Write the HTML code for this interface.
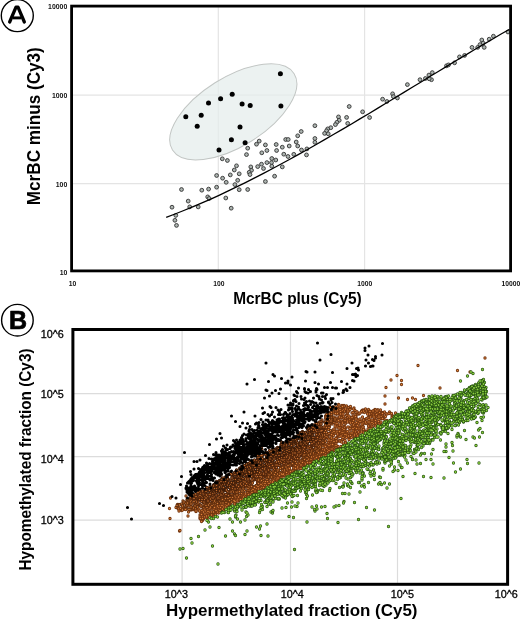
<!DOCTYPE html><html><head><meta charset="utf-8"><style>html,body{margin:0;padding:0;background:#fff;width:520px;height:620px;overflow:hidden}svg{display:block;will-change:transform}text{font-family:"Liberation Sans",sans-serif}</style></head><body>
<svg width="520" height="620" viewBox="0 0 520 620">
<g stroke="#e4e4e4" stroke-width="1.2" fill="none">
<line x1="218.3" y1="6" x2="218.3" y2="271"/>
<line x1="364.6" y1="6" x2="364.6" y2="271"/>
<line x1="72" y1="95.1" x2="510" y2="95.1"/>
<line x1="72" y1="183.6" x2="510" y2="183.6"/>
</g>
<ellipse cx="233.3" cy="111.9" rx="71.8" ry="34.4" transform="rotate(-32.1 233.3 111.9)" fill="#e6eeec" fill-opacity="0.75" stroke="#c2c6c4" stroke-width="1"/>
<g fill="#000">
<circle cx="280.4" cy="73.7" r="2.5"/>
<circle cx="232.2" cy="94.2" r="2.5"/>
<circle cx="220.6" cy="98.8" r="2.5"/>
<circle cx="208.5" cy="103.1" r="2.5"/>
<circle cx="242.1" cy="103.9" r="2.5"/>
<circle cx="250.2" cy="105.5" r="2.5"/>
<circle cx="280.9" cy="106" r="2.5"/>
<circle cx="185.8" cy="116.8" r="2.5"/>
<circle cx="201.2" cy="115.2" r="2.5"/>
<circle cx="197.2" cy="126.2" r="2.5"/>
<circle cx="240" cy="127" r="2.5"/>
<circle cx="231.4" cy="139.7" r="2.5"/>
<circle cx="245.1" cy="142.7" r="2.5"/>
<circle cx="219" cy="149.9" r="2.5"/>
</g>
<g fill="#acb4b0" stroke="#333" stroke-width="0.9">
<circle cx="222.3" cy="158.8" r="1.9"/>
<circle cx="227.4" cy="160.5" r="1.9"/>
<circle cx="236.5" cy="165.8" r="1.9"/>
<circle cx="234.3" cy="170" r="1.9"/>
<circle cx="239.2" cy="173.8" r="1.9"/>
<circle cx="216.6" cy="175.5" r="1.9"/>
<circle cx="230.3" cy="174.9" r="1.9"/>
<circle cx="222.6" cy="178.2" r="1.9"/>
<circle cx="226.2" cy="182.3" r="1.9"/>
<circle cx="237.7" cy="180.3" r="1.9"/>
<circle cx="234.9" cy="184.6" r="1.9"/>
<circle cx="181.5" cy="189.5" r="1.9"/>
<circle cx="201.8" cy="190.2" r="1.9"/>
<circle cx="208.6" cy="189.1" r="1.9"/>
<circle cx="216.6" cy="187.2" r="1.9"/>
<circle cx="239.2" cy="189.7" r="1.9"/>
<circle cx="188.2" cy="201.1" r="1.9"/>
<circle cx="207.7" cy="196.9" r="1.9"/>
<circle cx="209.2" cy="198.5" r="1.9"/>
<circle cx="225.8" cy="198" r="1.9"/>
<circle cx="172" cy="207.2" r="1.9"/>
<circle cx="189.7" cy="206.9" r="1.9"/>
<circle cx="198.2" cy="206.9" r="1.9"/>
<circle cx="231.2" cy="208.2" r="1.9"/>
<circle cx="175.8" cy="215.4" r="1.9"/>
<circle cx="174.9" cy="220.3" r="1.9"/>
<circle cx="176.5" cy="225.4" r="1.9"/>
<circle cx="301.2" cy="131.5" r="1.9"/>
<circle cx="297.7" cy="135.8" r="1.9"/>
<circle cx="285.7" cy="139.5" r="1.9"/>
<circle cx="288.2" cy="139.5" r="1.9"/>
<circle cx="259.2" cy="141.1" r="1.9"/>
<circle cx="256.5" cy="144.2" r="1.9"/>
<circle cx="265.4" cy="144.9" r="1.9"/>
<circle cx="276.2" cy="144.5" r="1.9"/>
<circle cx="296.2" cy="142" r="1.9"/>
<circle cx="297.7" cy="146" r="1.9"/>
<circle cx="289.2" cy="146" r="1.9"/>
<circle cx="282.3" cy="147.2" r="1.9"/>
<circle cx="247.7" cy="148.2" r="1.9"/>
<circle cx="266.9" cy="150.5" r="1.9"/>
<circle cx="261.8" cy="152.8" r="1.9"/>
<circle cx="276.6" cy="150.5" r="1.9"/>
<circle cx="301.5" cy="150" r="1.9"/>
<circle cx="306.9" cy="148.9" r="1.9"/>
<circle cx="246.5" cy="154.6" r="1.9"/>
<circle cx="283.8" cy="154.2" r="1.9"/>
<circle cx="288" cy="156.5" r="1.9"/>
<circle cx="293.8" cy="154.3" r="1.9"/>
<circle cx="306.5" cy="154.9" r="1.9"/>
<circle cx="271.8" cy="158.5" r="1.9"/>
<circle cx="275.8" cy="160" r="1.9"/>
<circle cx="266.9" cy="162.6" r="1.9"/>
<circle cx="271.5" cy="162.6" r="1.9"/>
<circle cx="261.5" cy="164.2" r="1.9"/>
<circle cx="257.7" cy="166.6" r="1.9"/>
<circle cx="263.5" cy="168.5" r="1.9"/>
<circle cx="271.8" cy="166.2" r="1.9"/>
<circle cx="282.3" cy="166.9" r="1.9"/>
<circle cx="250.8" cy="166.9" r="1.9"/>
<circle cx="251.5" cy="170.3" r="1.9"/>
<circle cx="249.2" cy="172.3" r="1.9"/>
<circle cx="250" cy="174.6" r="1.9"/>
<circle cx="274.6" cy="176.2" r="1.9"/>
<circle cx="265.4" cy="181.5" r="1.9"/>
<circle cx="247.7" cy="189.5" r="1.9"/>
<circle cx="349.2" cy="106.5" r="1.9"/>
<circle cx="362.6" cy="111.8" r="1.9"/>
<circle cx="369.6" cy="117.5" r="1.9"/>
<circle cx="338.5" cy="116.9" r="1.9"/>
<circle cx="339.2" cy="120.3" r="1.9"/>
<circle cx="346.6" cy="117.4" r="1.9"/>
<circle cx="336.9" cy="122.3" r="1.9"/>
<circle cx="335.4" cy="124.6" r="1.9"/>
<circle cx="347.7" cy="123.4" r="1.9"/>
<circle cx="314.9" cy="125.7" r="1.9"/>
<circle cx="330.8" cy="127.7" r="1.9"/>
<circle cx="327.7" cy="128.9" r="1.9"/>
<circle cx="326.5" cy="130.8" r="1.9"/>
<circle cx="324.6" cy="133.4" r="1.9"/>
<circle cx="328.2" cy="133.8" r="1.9"/>
<circle cx="314.9" cy="138.5" r="1.9"/>
<circle cx="314.9" cy="142.3" r="1.9"/>
<circle cx="446.5" cy="65.8" r="1.9"/>
<circle cx="448.5" cy="64.9" r="1.9"/>
<circle cx="432.3" cy="72.6" r="1.9"/>
<circle cx="428.9" cy="75.1" r="1.9"/>
<circle cx="425.4" cy="78.5" r="1.9"/>
<circle cx="420" cy="79.7" r="1.9"/>
<circle cx="431.5" cy="79.7" r="1.9"/>
<circle cx="429.2" cy="78.8" r="1.9"/>
<circle cx="407.4" cy="84.6" r="1.9"/>
<circle cx="392.6" cy="93.8" r="1.9"/>
<circle cx="393.4" cy="96.6" r="1.9"/>
<circle cx="397.4" cy="98" r="1.9"/>
<circle cx="382.6" cy="99.2" r="1.9"/>
<circle cx="386.9" cy="101.5" r="1.9"/>
<circle cx="493.4" cy="36.2" r="1.9"/>
<circle cx="489.2" cy="39.2" r="1.9"/>
<circle cx="481.8" cy="40" r="1.9"/>
<circle cx="483.1" cy="43.1" r="1.9"/>
<circle cx="480" cy="44.6" r="1.9"/>
<circle cx="484.2" cy="47.4" r="1.9"/>
<circle cx="477.7" cy="47.4" r="1.9"/>
<circle cx="472" cy="47.4" r="1.9"/>
<circle cx="464.6" cy="55.4" r="1.9"/>
<circle cx="459.5" cy="56.9" r="1.9"/>
<circle cx="454.6" cy="62.8" r="1.9"/>
<circle cx="508" cy="32" r="1.9"/>
</g>
<polyline points="166.2,217.3 175,214 183.8,210.5 192.6,206.9 201.4,203.1 210.2,199.3 219,195.3 227.8,191.1 236.6,186.9 245.4,182.6 254.2,178.2 263,173.6 271.8,169 280.6,164.3 289.4,159.5 298.2,154.6 307,149.7 315.8,144.7 324.6,139.6 333.4,134.5 342.3,129.4 351.1,124.2 359.9,118.9 368.7,113.7 377.5,108.4 386.3,103 395.1,97.7 403.9,92.4 412.7,87 421.5,81.7 430.3,76.3 439.1,71 447.9,65.6 456.7,60.3 465.5,55.1 474.3,49.8 483.1,44.6 491.9,39.5 500.7,34.3 509.5,29.3" fill="none" stroke="#000" stroke-width="1.3"/>
<rect x="71.6" y="6.1" width="439" height="264.8" fill="none" stroke="#000" stroke-width="2.8"/>
<g font-size="7.5" font-weight="bold" fill="#111">
<text x="67.3" y="8.6" text-anchor="end" textLength="19.18" lengthAdjust="spacingAndGlyphs">10000</text>
<text x="67.3" y="97.8" text-anchor="end" textLength="15.35" lengthAdjust="spacingAndGlyphs">1000</text>
<text x="67.3" y="186.6" text-anchor="end" textLength="11.51" lengthAdjust="spacingAndGlyphs">100</text>
<text x="67.3" y="274.6" text-anchor="end" textLength="7.67" lengthAdjust="spacingAndGlyphs">10</text>
<text x="72.4" y="286.2" text-anchor="middle" textLength="7.51" lengthAdjust="spacingAndGlyphs">10</text>
<text x="219" y="286.2" text-anchor="middle" textLength="11.26" lengthAdjust="spacingAndGlyphs">100</text>
<text x="364.7" y="286.2" text-anchor="middle" textLength="15.01" lengthAdjust="spacingAndGlyphs">1000</text>
<text x="510.8" y="286.2" text-anchor="middle" textLength="18.77" lengthAdjust="spacingAndGlyphs">10000</text>
</g>
<text x="233.2" y="303.6" font-size="17" font-weight="bold" textLength="128.5" lengthAdjust="spacingAndGlyphs">McrBC plus (Cy5)</text>
<text transform="translate(39.7 205.2) rotate(-90)" font-size="17.8" font-weight="bold" textLength="158" lengthAdjust="spacingAndGlyphs">McrBC minus (Cy3)</text>
<circle cx="17.3" cy="15.6" r="16" fill="#fff" stroke="#000" stroke-width="1.4"/>
<path d="M9.65 22 L16 7.2 L18 7.2 L24.35 22" fill="none" stroke="#000" stroke-width="3.3" stroke-linecap="round" stroke-linejoin="round"/>
<path d="M13 17.9 H21" stroke="#000" stroke-width="2.9"/>
<g stroke="#dcdcdc" stroke-width="1.2" fill="none">
<line x1="182.1" y1="330" x2="182.1" y2="584"/>
<line x1="290.5" y1="330" x2="290.5" y2="584"/>
<line x1="397.5" y1="330" x2="397.5" y2="584"/>
<line x1="73" y1="393.6" x2="507" y2="393.6"/>
<line x1="73" y1="456.7" x2="507" y2="456.7"/>
<line x1="73" y1="520.2" x2="507" y2="520.2"/>
</g>
<g transform="scale(.5)" fill="none" stroke-linecap="round"><path d="M609 866h0m-116 76h0m-35 24h0m37-25h0m-60 23h0m95-31h0m-15 8h0m13-20h0m-36 15h0m89-58h0m-33 31h0" stroke="#3e1d0a" stroke-width="6.6"/><path d="M609 866h0m-116 76h0m-35 24h0m37-25h0m-60 23h0m95-31h0m-15 8h0m13-20h0m-36 15h0m89-58h0m-33 31h0" stroke="#c76e2d" stroke-width="3.0"/><path d="M624 883h0m-107 69h0m61-31h0m-49 23h0m73-48h0m40-19h0m-45 24h0m-67 41h0m-99 46h0" stroke="#50250c" stroke-width="6.6"/><path d="M624 883h0m-107 69h0m61-31h0m-49 23h0m73-48h0m40-19h0m-45 24h0m-67 41h0m-99 46h0" stroke="#d17633" stroke-width="3.0"/><path d="M433 1005h0m216-136h0m-193 132h0m-26 3h0m-31 6h0m258-185h0m-77 103h0m-114 62h0" stroke="#602e0e" stroke-width="6.6"/><path d="M433 1005h0m216-136h0m-193 132h0m-26 3h0m-31 6h0m258-185h0m-77 103h0m-114 62h0" stroke="#da7e38" stroke-width="3.0"/><path d="M706 858h0m-36 33h0m-96 52h0m-188 76h0m216-90h0m117-68h0m-195 113h0m-35 21h0m204-165h0m55 18h0m-191 112h0m118-77h0" stroke="#723611" stroke-width="6.6"/><path d="M706 858h0m-36 33h0m-96 52h0m-188 76h0m216-90h0m117-68h0m-195 113h0m-35 21h0m204-165h0m55 18h0m-191 112h0m118-77h0" stroke="#e3863d" stroke-width="3.0"/><path d="M460 973h0m-7-10h0m21-10h0m143-79h0m-123 56h0m-6 8h0m93-39h0m-163 78h0m100-50h0m-18 15h0m118-86h0m-126 82h0" stroke="#3e1d0a" stroke-width="6.6"/><path d="M460 973h0m-7-10h0m21-10h0m143-79h0m-123 56h0m-6 8h0m93-39h0m-163 78h0m100-50h0m-18 15h0m118-86h0m-126 82h0" stroke="#c76e2d" stroke-width="3.0"/><path d="M629 887h0m-242 112h0m80-20h0m75-45h0m62-32h0m-87 47h0m-109 35h0m135-48h0" stroke="#50250c" stroke-width="6.6"/><path d="M629 887h0m-242 112h0m80-20h0m75-45h0m62-32h0m-87 47h0m-109 35h0m135-48h0" stroke="#d17633" stroke-width="3.0"/><path d="M534 950h0m-12 11h0m8-1h0m-103 51h0m204-105h0m-212 104h0m-46 0h0m98-23h0m-105 15h0" stroke="#602e0e" stroke-width="6.6"/><path d="M534 950h0m-12 11h0m8-1h0m-103 51h0m204-105h0m-212 104h0m-46 0h0m98-23h0m-105 15h0" stroke="#da7e38" stroke-width="3.0"/><path d="M730 842h0m-87 59h0m-147 82h0m-66 36h0m236-202h0m18 28h0m-117 100h0m129-77h0m55-44h0m-324 208h0m180-101h0" stroke="#723611" stroke-width="6.6"/><path d="M730 842h0m-87 59h0m-147 82h0m-66 36h0m236-202h0m18 28h0m-117 100h0m129-77h0m55-44h0m-324 208h0m180-101h0" stroke="#e3863d" stroke-width="3.0"/><path d="M445 977h0m74-63h0m-64 42h0m143-87h0" stroke="#3e1d0a" stroke-width="6.6"/><path d="M445 977h0m74-63h0m-64 42h0m143-87h0" stroke="#c76e2d" stroke-width="3.0"/><path d="M550 929h0m-42 25h0m-111 36h0m86-18h0m-95 18h0m251-146h0m-63 67h0" stroke="#50250c" stroke-width="6.6"/><path d="M550 929h0m-42 25h0m-111 36h0m86-18h0m-95 18h0m251-146h0m-63 67h0" stroke="#d17633" stroke-width="3.0"/><path d="M381 1005h0m134-39h0m93-56h0m43-35h0m-280 130h0m281-129h0m-84 65h0m9-5h0m-27 9h0m111-119h0m-289 166h0m2 20h0" stroke="#602e0e" stroke-width="6.6"/><path d="M381 1005h0m134-39h0m93-56h0m43-35h0m-280 130h0m281-129h0m-84 65h0m9-5h0m-27 9h0m111-119h0m-289 166h0m2 20h0" stroke="#da7e38" stroke-width="3.0"/><path d="M553 963h0m128-128h0m-188 156h0m170-88h0m-175 90h0m181-102h0m-7-7h0m-254 150h0m118-66h0m181-128h0m21-1h0m3 26h0m-241 128h0m230-149h0m-209 142h0m-72 28h0m5 8h0" stroke="#723611" stroke-width="6.6"/><path d="M553 963h0m128-128h0m-188 156h0m170-88h0m-175 90h0m181-102h0m-7-7h0m-254 150h0m118-66h0m181-128h0m21-1h0m3 26h0m-241 128h0m230-149h0m-209 142h0m-72 28h0m5 8h0" stroke="#e3863d" stroke-width="3.0"/><path d="M615 877h0m-187 93h0m148-89h0m-135 93h0m24-21h0m109-43h0m-88 39h0m49-38h0" stroke="#3e1d0a" stroke-width="6.6"/><path d="M615 877h0m-187 93h0m148-89h0m-135 93h0m24-21h0m109-43h0m-88 39h0m49-38h0" stroke="#c76e2d" stroke-width="3.0"/><path d="M636 882h0m-245 120h0m194-92h0m-167 90h0m138-78h0m-90 52h0m-22 23h0m195-139h0m-70 67h0m69-76h0m-85 79h0" stroke="#50250c" stroke-width="6.6"/><path d="M636 882h0m-245 120h0m194-92h0m-167 90h0m138-78h0m-90 52h0m-22 23h0m195-139h0m-70 67h0m69-76h0m-85 79h0" stroke="#d17633" stroke-width="3.0"/><path d="M390 1011h0m82-22h0m2-6h0m-31 16h0m90-45h0m51-23h0m-169 75h0" stroke="#602e0e" stroke-width="6.6"/><path d="M390 1011h0m82-22h0m2-6h0m-31 16h0m90-45h0m51-23h0m-169 75h0" stroke="#da7e38" stroke-width="3.0"/><path d="M478 994h0m246-173h0m-40-4h0m-103 132h0m126-84h0m140-74h0m-430 239h0m328-202h0m58-59h0m-66 77h0m-51-2h0m-67 77h0m-37 22h0m-152 85h0" stroke="#723611" stroke-width="6.6"/><path d="M478 994h0m246-173h0m-40-4h0m-103 132h0m126-84h0m140-74h0m-430 239h0m328-202h0m58-59h0m-66 77h0m-51-2h0m-67 77h0m-37 22h0m-152 85h0" stroke="#e3863d" stroke-width="3.0"/><path d="M580 894h0m-4 1h0m-101 64h0m32-31h0m0-3h0m13 2h0m9 8h0m-73 27h0" stroke="#3e1d0a" stroke-width="6.6"/><path d="M580 894h0m-4 1h0m-101 64h0m32-31h0m0-3h0m13 2h0m9 8h0m-73 27h0" stroke="#c76e2d" stroke-width="3.0"/><path d="M398 986h0m173-65h0m-56 30h0m126-94h0m2-14h0m-158 130h0m131-78h0" stroke="#50250c" stroke-width="6.6"/><path d="M398 986h0m173-65h0m-56 30h0m126-94h0m2-14h0m-158 130h0m131-78h0" stroke="#d17633" stroke-width="3.0"/><path d="M528 964h0m-57 31h0m102-58h0m-184 80h0m28-14h0m215-105h0m18-39h0" stroke="#602e0e" stroke-width="6.6"/><path d="M528 964h0m-57 31h0m102-58h0m-184 80h0m28-14h0m215-105h0m18-39h0" stroke="#da7e38" stroke-width="3.0"/><path d="M446 1015h0m219-147h0m28-56h0m-48 92h0m-22 9h0m56-32h0m33-8h0m53-41h0m-105 56h0m41-42h0m-325 186h0m406-272h0m-72 117h0m-63 36h0m-46 23h0m103-94h0m-183 133h0m-115 44h0" stroke="#723611" stroke-width="6.6"/><path d="M446 1015h0m219-147h0m28-56h0m-48 92h0m-22 9h0m56-32h0m33-8h0m53-41h0m-105 56h0m41-42h0m-325 186h0m406-272h0m-72 117h0m-63 36h0m-46 23h0m103-94h0m-183 133h0m-115 44h0" stroke="#e3863d" stroke-width="3.0"/><path d="M563 914h0m39-38h0m-125 78h0m132-76h0m-38 29h0m-33 5h0m-96 70h0m128-84h0m-34 18h0" stroke="#3e1d0a" stroke-width="6.6"/><path d="M563 914h0m39-38h0m-125 78h0m132-76h0m-38 29h0m-33 5h0m-96 70h0m128-84h0m-34 18h0" stroke="#c76e2d" stroke-width="3.0"/><path d="M472 980h0m-88 19h0m184-74h0m61-39h0m-166 95h0m36-19h0" stroke="#50250c" stroke-width="6.6"/><path d="M472 980h0m-88 19h0m184-74h0m61-39h0m-166 95h0m36-19h0" stroke="#d17633" stroke-width="3.0"/><path d="M644 889h0m-124 75h0m58-32h0m33-20h0m-58 28h0m-103 59h0" stroke="#602e0e" stroke-width="6.6"/><path d="M644 889h0m-124 75h0m58-32h0m33-20h0m-58 28h0m-103 59h0" stroke="#da7e38" stroke-width="3.0"/><path d="M522 973h0m222-130h0m-109 73h0m68-80h0m-218 162h0m195-179h0m-4 46h0m10 14h0m-187 111h0m43-21h0m229-142h0m-389 193h0m331-153h0m-235 128h0m195-167h0m27 29h0m-203 129h0m194-101h0m-186 100h0" stroke="#723611" stroke-width="6.6"/><path d="M522 973h0m222-130h0m-109 73h0m68-80h0m-218 162h0m195-179h0m-4 46h0m10 14h0m-187 111h0m43-21h0m229-142h0m-389 193h0m331-153h0m-235 128h0m195-167h0m27 29h0m-203 129h0m194-101h0m-186 100h0" stroke="#e3863d" stroke-width="3.0"/><path d="M620 872h0m-113 71h0m-24 16h0m141-92h0m-25 26h0m-154 83h0m64-40h0m-47 33h0m149-82h0" stroke="#3e1d0a" stroke-width="6.6"/><path d="M620 872h0m-113 71h0m-24 16h0m141-92h0m-25 26h0m-154 83h0m64-40h0m-47 33h0m149-82h0" stroke="#c76e2d" stroke-width="3.0"/><path d="M623 893h0m-56 29h0m72-38h0m-5-15h0m-225 125h0m53-13h0m24-11h0m-85 24h0m127-41h0" stroke="#50250c" stroke-width="6.6"/><path d="M623 893h0m-56 29h0m72-38h0m-5-15h0m-225 125h0m53-13h0m24-11h0m-85 24h0m127-41h0" stroke="#d17633" stroke-width="3.0"/><path d="M616 911h0m47-79h0m-280 183h0m59-9h0m215-170h0m-57 86h0" stroke="#602e0e" stroke-width="6.6"/><path d="M616 911h0m47-79h0m-280 183h0m59-9h0m215-170h0m-57 86h0" stroke="#da7e38" stroke-width="3.0"/><path d="M339 1017h0m173-37h0m230-152h0m-47-1h0m-91 97h0m-132 78h0m-43 10h0m-16 4h0m22-1h0m-1-2h0m186-90h0m81-57h0m-12-7h0m-18-43h0m-118 140h0m189-133h0" stroke="#723611" stroke-width="6.6"/><path d="M339 1017h0m173-37h0m230-152h0m-47-1h0m-91 97h0m-132 78h0m-43 10h0m-16 4h0m22-1h0m-1-2h0m186-90h0m81-57h0m-12-7h0m-18-43h0m-118 140h0m189-133h0" stroke="#e3863d" stroke-width="3.0"/><path d="M437 977h0m88-54h0m-6 2h0m8 12h0m98-86h0m-25 15h0m-93 55h0m59-33h0m-34 37h0m-65 46h0m87-59h0m-100 56h0" stroke="#3e1d0a" stroke-width="6.6"/><path d="M437 977h0m88-54h0m-6 2h0m8 12h0m98-86h0m-25 15h0m-93 55h0m59-33h0m-34 37h0m-65 46h0m87-59h0m-100 56h0" stroke="#c76e2d" stroke-width="3.0"/><path d="M517 954h0m18-6h0m59-43h0m-21 19h0m-1-1h0" stroke="#50250c" stroke-width="6.6"/><path d="M517 954h0m18-6h0m59-43h0m-21 19h0m-1-1h0" stroke="#d17633" stroke-width="3.0"/><path d="M520 961h0m-22 11h0m-104 34h0m-6 6h0m146-57h0m-110 48h0" stroke="#602e0e" stroke-width="6.6"/><path d="M520 961h0m-22 11h0m-104 34h0m-6 6h0m146-57h0m-110 48h0" stroke="#da7e38" stroke-width="3.0"/><path d="M733 822h0m-256 180h0m160-97h0m43-23h0m-80 55h0m30-15h0m32-41h0m45-21h0m-98 60h0m133-94h0m-246 157h0m195-126h0m-206 136h0m199-170h0m53 5h0m-71-11h0m81 24h0" stroke="#723611" stroke-width="6.6"/><path d="M733 822h0m-256 180h0m160-97h0m43-23h0m-80 55h0m30-15h0m32-41h0m45-21h0m-98 60h0m133-94h0m-246 157h0m195-126h0m-206 136h0m199-170h0m53 5h0m-71-11h0m81 24h0" stroke="#e3863d" stroke-width="3.0"/><path d="M625 862h0m-96 57h0m77-30h0m-179 88h0m23-21h0m-6 1h0m102-51h0m7-9h0m-17 30h0m23-19h0m19-3h0m-132 62h0m1 12h0m-12-13h0m176-101h0m10 10h0" stroke="#3e1d0a" stroke-width="6.6"/><path d="M625 862h0m-96 57h0m77-30h0m-179 88h0m23-21h0m-6 1h0m102-51h0m7-9h0m-17 30h0m23-19h0m19-3h0m-132 62h0m1 12h0m-12-13h0m176-101h0m10 10h0" stroke="#c76e2d" stroke-width="3.0"/><path d="M582 918h0m-55 32h0m55-41h0" stroke="#50250c" stroke-width="6.6"/><path d="M582 918h0m-55 32h0m55-41h0" stroke="#d17633" stroke-width="3.0"/><path d="M416 1009h0m207-108h0m11-6h0m17-58h0" stroke="#602e0e" stroke-width="6.6"/><path d="M416 1009h0m207-108h0m11-6h0m17-58h0" stroke="#da7e38" stroke-width="3.0"/><path d="M636 908h0m24-3h0m10-41h0m37 6h0m-20-50h0m83-28h0m-283 198h0m45-22h0m-94 43h0m22 0h0m-35 18h0m57-35h0m207-141h0m-15 23h0m-5-15h0m38-2h0m-100 64h0" stroke="#723611" stroke-width="6.6"/><path d="M636 908h0m24-3h0m10-41h0m37 6h0m-20-50h0m83-28h0m-283 198h0m45-22h0m-94 43h0m22 0h0m-35 18h0m57-35h0m207-141h0m-15 23h0m-5-15h0m38-2h0m-100 64h0" stroke="#e3863d" stroke-width="3.0"/><path d="M508 942h0m28-33h0m-27 12h0m-25 33h0m88-43h0m-14-11h0m2 7h0m-74 52h0m57-36h0m-35 25h0m115-89h0m-111 67h0" stroke="#3e1d0a" stroke-width="6.6"/><path d="M508 942h0m28-33h0m-27 12h0m-25 33h0m88-43h0m-14-11h0m2 7h0m-74 52h0m57-36h0m-35 25h0m115-89h0m-111 67h0" stroke="#c76e2d" stroke-width="3.0"/><path d="M537 940h0m1 2h0m-48 22h0m-40 17h0m25-9h0m-17 17h0m-24 10h0m-5-3h0m-22 7h0m145-66h0m-36 10h0" stroke="#50250c" stroke-width="6.6"/><path d="M537 940h0m1 2h0m-48 22h0m-40 17h0m25-9h0m-17 17h0m-24 10h0m-5-3h0m-22 7h0m145-66h0m-36 10h0" stroke="#d17633" stroke-width="3.0"/><path d="M382 1018h0m282-176h0m-94 92h0m-45 21h0m-63 35h0m8-1h0m76-39h0m18-16h0" stroke="#602e0e" stroke-width="6.6"/><path d="M382 1018h0m282-176h0m-94 92h0m-45 21h0m-63 35h0m8-1h0m76-39h0m18-16h0" stroke="#da7e38" stroke-width="3.0"/><path d="M694 831h0m103-35h0m-59 57h0m-120 63h0m57-75h0m21-26h0m119-16h0m-204 133h0m-208 91h0" stroke="#723611" stroke-width="6.6"/><path d="M694 831h0m103-35h0m-59 57h0m-120 63h0m57-75h0m21-26h0m119-16h0m-204 133h0m-208 91h0" stroke="#e3863d" stroke-width="3.0"/><path d="M429 982h0m122-75h0m-113 74h0m59-32h0m-23-8h0m116-55h0m-73 54h0m2-3h0m-103 44h0m120-53h0m20-23h0m-10 9h0m-126 59h0" stroke="#3e1d0a" stroke-width="6.6"/><path d="M429 982h0m122-75h0m-113 74h0m59-32h0m-23-8h0m116-55h0m-73 54h0m2-3h0m-103 44h0m120-53h0m20-23h0m-10 9h0m-126 59h0" stroke="#c76e2d" stroke-width="3.0"/><path d="M558 927h0m2 0h0m-82 43h0m50-18h0m-121 50h0m65-27h0" stroke="#50250c" stroke-width="6.6"/><path d="M558 927h0m2 0h0m-82 43h0m50-18h0m-121 50h0m65-27h0" stroke="#d17633" stroke-width="3.0"/><path d="M439 1003h0m83-39h0m107-66h0m-42 25h0m39-16h0m4-8h0m-53 36h0m-178 75h0m227-105h0" stroke="#602e0e" stroke-width="6.6"/><path d="M439 1003h0m83-39h0m107-66h0m-42 25h0m39-16h0m4-8h0m-53 36h0m-178 75h0m227-105h0" stroke="#da7e38" stroke-width="3.0"/><path d="M606 932h0m173-108h0m-85 49h0m-17-54h0m0 78h0m9-61h0m-35 70h0m85-81h0m1 38h0m-102 48h0m45-29h0m-254 136h0" stroke="#723611" stroke-width="6.6"/><path d="M606 932h0m173-108h0m-85 49h0m-17-54h0m0 78h0m9-61h0m-35 70h0m85-81h0m1 38h0m-102 48h0m45-29h0m-254 136h0" stroke="#e3863d" stroke-width="3.0"/><path d="M473 941h0m29 0h0m40-30h0m63-48h0m-61 40h0m-81 61h0m86-59h0m48-28h0m8 6h0m-170 100h0m42-37h0m116-68h0m-56 45h0m32-25h0" stroke="#3e1d0a" stroke-width="6.6"/><path d="M473 941h0m29 0h0m40-30h0m63-48h0m-61 40h0m-81 61h0m86-59h0m48-28h0m8 6h0m-170 100h0m42-37h0m116-68h0m-56 45h0m32-25h0" stroke="#c76e2d" stroke-width="3.0"/><path d="M611 904h0m-157 78h0m18-5h0m164-90h0m-73 37h0m-45 32h0m127-86h0m-233 134h0m232-164h0m-162 123h0m64-33h0m-6 14h0m-24 14h0" stroke="#50250c" stroke-width="6.6"/><path d="M611 904h0m-157 78h0m18-5h0m164-90h0m-73 37h0m-45 32h0m127-86h0m-233 134h0m232-164h0m-162 123h0m64-33h0m-6 14h0m-24 14h0" stroke="#d17633" stroke-width="3.0"/><path d="M411 1006h0m194-94h0m22-6h0m-18 11h0m-140 70h0" stroke="#602e0e" stroke-width="6.6"/><path d="M411 1006h0m194-94h0m22-6h0m-18 11h0m-140 70h0" stroke="#da7e38" stroke-width="3.0"/><path d="M418 1016h0m346-191h0m-74 41h0m-197 125h0m96-56h0m-6 9h0m109-122h0m-18 53h0" stroke="#723611" stroke-width="6.6"/><path d="M418 1016h0m346-191h0m-74 41h0m-197 125h0m96-56h0m-6 9h0m109-122h0m-18 53h0" stroke="#e3863d" stroke-width="3.0"/><path d="M489 950h0m136-85h0m-145 73h0m-52 48h0m127-89h0m25 7h0m-153 66h0m189-95h0m-180 109h0m-23-8h0m185-100h0m-175 106h0m78-56h0" stroke="#3e1d0a" stroke-width="6.6"/><path d="M489 950h0m136-85h0m-145 73h0m-52 48h0m127-89h0m25 7h0m-153 66h0m189-95h0m-180 109h0m-23-8h0m185-100h0m-175 106h0m78-56h0" stroke="#c76e2d" stroke-width="3.0"/><path d="M513 959h0m86-54h0m23-15h0m-168 92h0m-9 11h0m105-66h0m73-31h0m-217 87h0m62-5h0" stroke="#50250c" stroke-width="6.6"/><path d="M513 959h0m86-54h0m23-15h0m-168 92h0m-9 11h0m105-66h0m73-31h0m-217 87h0m62-5h0" stroke="#d17633" stroke-width="3.0"/><path d="M669 826h0m-116 124h0m-143 66h0m-36-4h0" stroke="#602e0e" stroke-width="6.6"/><path d="M669 826h0m-116 124h0m-143 66h0m-36-4h0" stroke="#da7e38" stroke-width="3.0"/><path d="M751 829h0m-342 191h0m358-183h0m-116 63h0m84-36h0m2-38h0m-200 145h0m103-63h0m-75 39h0m201-121h0m-120 74h0m72-59h0m-84 68h0m-81 42h0" stroke="#723611" stroke-width="6.6"/><path d="M751 829h0m-342 191h0m358-183h0m-116 63h0m84-36h0m2-38h0m-200 145h0m103-63h0m-75 39h0m201-121h0m-120 74h0m72-59h0m-84 68h0m-81 42h0" stroke="#e3863d" stroke-width="3.0"/><path d="M536 926h0m19-26h0m72-26h0m-11-12h0m-50 28h0m-33 15h0m-24 30h0" stroke="#3e1d0a" stroke-width="6.6"/><path d="M536 926h0m19-26h0m72-26h0m-11-12h0m-50 28h0m-33 15h0m-24 30h0" stroke="#c76e2d" stroke-width="3.0"/><path d="M601 910h0m-102 54h0m-54 30h0m-38 10h0m77-29h0" stroke="#50250c" stroke-width="6.6"/><path d="M601 910h0m-102 54h0m-54 30h0m-38 10h0m77-29h0" stroke="#d17633" stroke-width="3.0"/><path d="M504 973h0m-90 37h0m-31-4h0m4 8h0m25 2h0m-17-6h0m63-15h0m5 0h0m83-46h0m-58 28h0m152-89h0m-167 101h0m146-79h0m6-10h0" stroke="#602e0e" stroke-width="6.6"/><path d="M504 973h0m-90 37h0m-31-4h0m4 8h0m25 2h0m-17-6h0m63-15h0m5 0h0m83-46h0m-58 28h0m152-89h0m-167 101h0m146-79h0m6-10h0" stroke="#da7e38" stroke-width="3.0"/><path d="M444 1015h0m-37 16h0m300-183h0m-25 7h0m-13 12h0m-17 26h0m-251 130h0m219-98h0m-157 75h0m-4 4h0m192-103h0m-131 74h0m167-143h0m-158 141h0" stroke="#723611" stroke-width="6.6"/><path d="M444 1015h0m-37 16h0m300-183h0m-25 7h0m-13 12h0m-17 26h0m-251 130h0m219-98h0m-157 75h0m-4 4h0m192-103h0m-131 74h0m167-143h0m-158 141h0" stroke="#e3863d" stroke-width="3.0"/><path d="M504 938h0m77-33h0m42-24h0m4-22h0m-205 121h0m176-107h0m22-11h0m6-1h0m-23 27h0m-165 85h0m48-28h0" stroke="#3e1d0a" stroke-width="6.6"/><path d="M504 938h0m77-33h0m42-24h0m4-22h0m-205 121h0m176-107h0m22-11h0m6-1h0m-23 27h0m-165 85h0m48-28h0" stroke="#c76e2d" stroke-width="3.0"/><path d="M443 986h0m117-54h0m-65 25h0m-76 42h0m224-134h0m-188 124h0m175-113h0" stroke="#50250c" stroke-width="6.6"/><path d="M443 986h0m117-54h0m-65 25h0m-76 42h0m224-134h0m-188 124h0m175-113h0" stroke="#d17633" stroke-width="3.0"/><path d="M597 921h0m-7-2h0m47-20h0m-225 108h0m238-120h0m-60 32h0" stroke="#602e0e" stroke-width="6.6"/><path d="M597 921h0m-7-2h0m47-20h0m-225 108h0m238-120h0m-60 32h0" stroke="#da7e38" stroke-width="3.0"/><path d="M420 1015h0m318-193h0m-232 165h0m193-115h0m-130 75h0m96-55h0m20-80h0m-267 217h0m253-166h0m98-39h0m-80 0h0m-6 43h0m-1-52h0m66 6h0m-312 202h0m230-206h0" stroke="#723611" stroke-width="6.6"/><path d="M420 1015h0m318-193h0m-232 165h0m193-115h0m-130 75h0m96-55h0m20-80h0m-267 217h0m253-166h0m98-39h0m-80 0h0m-6 43h0m-1-52h0m66 6h0m-312 202h0m230-206h0" stroke="#e3863d" stroke-width="3.0"/><path d="M538 918h0m71-52h0m-102 63h0m-20 3h0m120-50h0m-37 31h0m-67 35h0m107-81h0m-186 107h0m50-20h0m41-43h0m-18 39h0m-34 20h0" stroke="#3e1d0a" stroke-width="6.6"/><path d="M538 918h0m71-52h0m-102 63h0m-20 3h0m120-50h0m-37 31h0m-67 35h0m107-81h0m-186 107h0m50-20h0m41-43h0m-18 39h0m-34 20h0" stroke="#c76e2d" stroke-width="3.0"/><path d="M389 997h0m253-153h0m-50 63h0m-104 53h0m-96 34h0m-4 3h0m239-117h0m-119 80h0m9-3h0" stroke="#50250c" stroke-width="6.6"/><path d="M389 997h0m253-153h0m-50 63h0m-104 53h0m-96 34h0m-4 3h0m239-117h0m-119 80h0m9-3h0" stroke="#d17633" stroke-width="3.0"/><path d="M381 1010h0m111-36h0m163-134h0m-177 150h0m186-142h0m-49 63h0m44-58h0m-117 96h0" stroke="#602e0e" stroke-width="6.6"/><path d="M381 1010h0m111-36h0m163-134h0m-177 150h0m186-142h0m-49 63h0m44-58h0m-117 96h0" stroke="#da7e38" stroke-width="3.0"/><path d="M604 926h0m50-21h0m8-34h0m30-30h0m54 1h0m-155 100h0m107-98h0m-41 40h0m-160 99h0m131-71h0" stroke="#723611" stroke-width="6.6"/><path d="M604 926h0m50-21h0m8-34h0m30-30h0m54 1h0m-155 100h0m107-98h0m-41 40h0m-160 99h0m131-71h0" stroke="#e3863d" stroke-width="3.0"/><path d="M520 927h0m-40 22h0m-45 21h0m74-23h0m54-57h0m65-31h0m-49 43h0m-164 80h0m140-81h0m61-25h0m-40 6h0m-41 49h0" stroke="#3e1d0a" stroke-width="6.6"/><path d="M520 927h0m-40 22h0m-45 21h0m74-23h0m54-57h0m65-31h0m-49 43h0m-164 80h0m140-81h0m61-25h0m-40 6h0m-41 49h0" stroke="#c76e2d" stroke-width="3.0"/><path d="M586 915h0m-65 41h0m114-82h0" stroke="#50250c" stroke-width="6.6"/><path d="M586 915h0m-65 41h0m114-82h0" stroke="#d17633" stroke-width="3.0"/><path d="M571 935h0m-4-4h0m-177 73h0m151-58h0m118-104h0m-82 84h0m8 3h0m-185 81h0m-14 9h0m-14-6h0m269-116h0m-44 21h0" stroke="#602e0e" stroke-width="6.6"/><path d="M571 935h0m-4-4h0m-177 73h0m151-58h0m118-104h0m-82 84h0m8 3h0m-185 81h0m-14 9h0m-14-6h0m269-116h0m-44 21h0" stroke="#da7e38" stroke-width="3.0"/><path d="M774 841h0m-271 145h0m114-68h0m58-65h0m27-7h0m-74 68h0m48-101h0m-172 176h0m203-155h0m2 42h0m-156 88h0m90-63h0m64-50h0" stroke="#723611" stroke-width="6.6"/><path d="M774 841h0m-271 145h0m114-68h0m58-65h0m27-7h0m-74 68h0m48-101h0m-172 176h0m203-155h0m2 42h0m-156 88h0m90-63h0m64-50h0" stroke="#e3863d" stroke-width="3.0"/><path d="M575 889h0m21-15h0m-155 91h0m63-19h0m23-12h0m-82 39h0m110-78h0m-115 74h0m22 2h0m150-82h0m-179 77h0" stroke="#3e1d0a" stroke-width="6.6"/><path d="M575 889h0m21-15h0m-155 91h0m63-19h0m23-12h0m-82 39h0m110-78h0m-115 74h0m22 2h0m150-82h0m-179 77h0" stroke="#c76e2d" stroke-width="3.0"/><path d="M460 984h0m66-30h0m-37 18h0m-89 28h0m143-69h0m-135 59h0m82-18h0m122-77h0m-1-4h0" stroke="#50250c" stroke-width="6.6"/><path d="M460 984h0m66-30h0m-37 18h0m-89 28h0m143-69h0m-135 59h0m82-18h0m122-77h0m-1-4h0" stroke="#d17633" stroke-width="3.0"/><path d="M569 941h0m-80 40h0m-86 32h0m66-18h0m-21 10h0m109-64h0m75-38h0m-67 32h0m102-90h0" stroke="#602e0e" stroke-width="6.6"/><path d="M569 941h0m-80 40h0m-86 32h0m66-18h0m-21 10h0m109-64h0m75-38h0m-67 32h0m102-90h0" stroke="#da7e38" stroke-width="3.0"/><path d="M483 996h0m-142 0h0m79 38h0m38-21h0m256-189h0m37 28h0m-33 6h0m-320 160h0m98-26h0m162-101h0m-171 106h0" stroke="#723611" stroke-width="6.6"/><path d="M483 996h0m-142 0h0m79 38h0m38-21h0m256-189h0m37 28h0m-33 6h0m-320 160h0m98-26h0m162-101h0m-171 106h0" stroke="#e3863d" stroke-width="3.0"/><path d="M493 950h0m92-54h0m-77 35h0m49-20h0m-12-13h0m44 1h0m-73 41h0m-30 5h0m83-49h0m-114 57h0" stroke="#3e1d0a" stroke-width="6.6"/><path d="M493 950h0m92-54h0m-77 35h0m49-20h0m-12-13h0m44 1h0m-73 41h0m-30 5h0m83-49h0m-114 57h0" stroke="#c76e2d" stroke-width="3.0"/><path d="M461 980h0m116-56h0m-186 75h0m245-130h0m-91 65h0m-47 33h0m30-20h0m109-82h0m9 2h0" stroke="#50250c" stroke-width="6.6"/><path d="M461 980h0m116-56h0m-186 75h0m245-130h0m-91 65h0m-47 33h0m30-20h0m109-82h0m9 2h0" stroke="#d17633" stroke-width="3.0"/><path d="M566 934h0m-172 80h0m257-153h0m-40 56h0m48-90h0m-264 182h0m249-190h0m-139 154h0m142-102h0m-226 137h0m226-120h0" stroke="#602e0e" stroke-width="6.6"/><path d="M566 934h0m-172 80h0m257-153h0m-40 56h0m48-90h0m-264 182h0m249-190h0m-139 154h0m142-102h0m-226 137h0m226-120h0" stroke="#da7e38" stroke-width="3.0"/><path d="M400 1030h0m326-177h0m-203 115h0m232-142h0m-352 208h0m234-120h0m-59 35h0m-135 70h0m68-33h0m166-159h0" stroke="#723611" stroke-width="6.6"/><path d="M400 1030h0m326-177h0m-203 115h0m232-142h0m-352 208h0m234-120h0m-59 35h0m-135 70h0m68-33h0m166-159h0" stroke="#e3863d" stroke-width="3.0"/><path d="M626 868h0m-1-1h0m-175 101h0m-21 1h0m45-5h0m-34-1h0m29-13h0m118-68h0m16-14h0m-39 26h0m61-16h0m-29 17h0" stroke="#3e1d0a" stroke-width="6.6"/><path d="M626 868h0m-1-1h0m-175 101h0m-21 1h0m45-5h0m-34-1h0m29-13h0m118-68h0m16-14h0m-39 26h0m61-16h0m-29 17h0" stroke="#c76e2d" stroke-width="3.0"/><path d="M445 995h0m188-137h0m9 6h0m-3 13h0m-28 17h0m-192 102h0m151-78h0m-37 18h0m16-3h0m84-46h0" stroke="#50250c" stroke-width="6.6"/><path d="M445 995h0m188-137h0m9 6h0m-3 13h0m-28 17h0m-192 102h0m151-78h0m-37 18h0m16-3h0m84-46h0" stroke="#d17633" stroke-width="3.0"/><path d="M528 962h0m61-41h0m74-82h0m-269 167h0m16 9h0" stroke="#602e0e" stroke-width="6.6"/><path d="M528 962h0m61-41h0m74-82h0m-269 167h0m16 9h0" stroke="#da7e38" stroke-width="3.0"/><path d="M737 851h0m-2-7h0m-68 27h0m26-3h0m-341 147h0m375-149h0m-2-14h0m-13-23h0m-158 131h0m73-45h0m85-57h0m-227 137h0m181-132h0" stroke="#723611" stroke-width="6.6"/><path d="M737 851h0m-2-7h0m-68 27h0m26-3h0m-341 147h0m375-149h0m-2-14h0m-13-23h0m-158 131h0m73-45h0m85-57h0m-227 137h0m181-132h0" stroke="#e3863d" stroke-width="3.0"/><path d="M617 879h0m-11-4h0m-50 32h0m14-10h0m38-9h0m-84 48h0m-92 46h0m134-75h0m-116 55h0m138-87h0m-54 39h0" stroke="#3e1d0a" stroke-width="6.6"/><path d="M617 879h0m-11-4h0m-50 32h0m14-10h0m38-9h0m-84 48h0m-92 46h0m134-75h0m-116 55h0m138-87h0m-54 39h0" stroke="#c76e2d" stroke-width="3.0"/><path d="M437 990h0m95-44h0m101-70h0m0 11h0m-29 23h0m30-35h0m-67 55h0m-78 39h0" stroke="#50250c" stroke-width="6.6"/><path d="M437 990h0m95-44h0m101-70h0m0 11h0m-29 23h0m30-35h0m-67 55h0m-78 39h0" stroke="#d17633" stroke-width="3.0"/><path d="M590 922h0m-38 22h0m9 1h0m101-103h0m-237 165h0m238-175h0m-108 114h0" stroke="#602e0e" stroke-width="6.6"/><path d="M590 922h0m-38 22h0m9 1h0m101-103h0m-237 165h0m238-175h0m-108 114h0" stroke="#da7e38" stroke-width="3.0"/><path d="M785 835h0m-271 144h0m196-114h0m-61 33h0m-233 134h0m273-163h0m-151 103h0m135-96h0m-2 12h0m13-76h0m-213 196h0m190-124h0m-1 10h0m13-11h0" stroke="#723611" stroke-width="6.6"/><path d="M785 835h0m-271 144h0m196-114h0m-61 33h0m-233 134h0m273-163h0m-151 103h0m135-96h0m-2 12h0m13-76h0m-213 196h0m190-124h0m-1 10h0m13-11h0" stroke="#e3863d" stroke-width="3.0"/><path d="M431 977h0m16 5h0m148-96h0m-70 47h0m45-40h0" stroke="#3e1d0a" stroke-width="6.6"/><path d="M431 977h0m16 5h0m148-96h0m-70 47h0m45-40h0" stroke="#c76e2d" stroke-width="3.0"/><path d="M642 857h0m-242 125h0m86-6h0m2-13h0m8-6h0m146-109h0m-175 136h0m95-65h0" stroke="#50250c" stroke-width="6.6"/><path d="M642 857h0m-242 125h0m86-6h0m2-13h0m8-6h0m146-109h0m-175 136h0m95-65h0" stroke="#d17633" stroke-width="3.0"/><path d="M458 1001h0m57-36h0m-135 43h0m133-37h0m-121 41h0m-23 5h0m280-149h0m-204 131h0m197-109h0m-5 7h0m11-24h0" stroke="#602e0e" stroke-width="6.6"/><path d="M458 1001h0m57-36h0m-135 43h0m133-37h0m-121 41h0m-23 5h0m280-149h0m-204 131h0m197-109h0m-5 7h0m11-24h0" stroke="#da7e38" stroke-width="3.0"/><path d="M680 843h0m-132 115h0m140-68h0m-26-20h0m-196 131h0m230-147h0m-340 163h0m271-106h0m157-80h0m-347 195h0m148-81h0m103-91h0m-311 170h0m114-32h0m225-146h0m-37 23h0" stroke="#723611" stroke-width="6.6"/><path d="M680 843h0m-132 115h0m140-68h0m-26-20h0m-196 131h0m230-147h0m-340 163h0m271-106h0m157-80h0m-347 195h0m148-81h0m103-91h0m-311 170h0m114-32h0m225-146h0m-37 23h0" stroke="#e3863d" stroke-width="3.0"/><path d="M512 923h0m55-30h0m-135 78h0m-6 9h0m108-56h0m12-21h0m72-25h0m0-6h0" stroke="#3e1d0a" stroke-width="6.6"/><path d="M512 923h0m55-30h0m-135 78h0m-6 9h0m108-56h0m12-21h0m72-25h0m0-6h0" stroke="#c76e2d" stroke-width="3.0"/><path d="M405 986h0m20 9h0m156-81h0m-77 51h0m36-29h0m-95 54h0m88-50h0m-46 21h0" stroke="#50250c" stroke-width="6.6"/><path d="M405 986h0m20 9h0m156-81h0m-77 51h0m36-29h0m-95 54h0m88-50h0m-46 21h0" stroke="#d17633" stroke-width="3.0"/><path d="M658 847h0m-135 116h0m85-52h0m43-29h0m10-36h0" stroke="#602e0e" stroke-width="6.6"/><path d="M658 847h0m-135 116h0m85-52h0m43-29h0m10-36h0" stroke="#da7e38" stroke-width="3.0"/><path d="M693 864h0m30-12h0m-136 85h0m153-113h0m-20 47h0m-25-36h0m-160 132h0m-57 33h0m-72 31h0m162-83h0m97-54h0m61-34h0m-151 79h0m125-96h0m-15 17h0m-102 84h0m82-60h0m20-62h0m28 33h0" stroke="#723611" stroke-width="6.6"/><path d="M693 864h0m30-12h0m-136 85h0m153-113h0m-20 47h0m-25-36h0m-160 132h0m-57 33h0m-72 31h0m162-83h0m97-54h0m61-34h0m-151 79h0m125-96h0m-15 17h0m-102 84h0m82-60h0m20-62h0m28 33h0" stroke="#e3863d" stroke-width="3.0"/><path d="M445 963h0m179-82h0m-44 14h0m-71 30h0m-66 35h0m64-21h0m50-36h0m-113 56h0m69-38h0m92-31h0m-113 65h0m-59 8h0" stroke="#3e1d0a" stroke-width="6.6"/><path d="M445 963h0m179-82h0m-44 14h0m-71 30h0m-66 35h0m64-21h0m50-36h0m-113 56h0m69-38h0m92-31h0m-113 65h0m-59 8h0" stroke="#c76e2d" stroke-width="3.0"/><path d="M528 951h0m-6-8h0m127-99h0m-95 80h0m78-37h0m-210 102h0m206-111h0m-108 67h0m110-92h0m-67 72h0m69-32h0" stroke="#50250c" stroke-width="6.6"/><path d="M528 951h0m-6-8h0m127-99h0m-95 80h0m78-37h0m-210 102h0m206-111h0m-108 67h0m110-92h0m-67 72h0m69-32h0" stroke="#d17633" stroke-width="3.0"/><path d="M451 999h0m-41 15h0m106-50h0m115-68h0" stroke="#602e0e" stroke-width="6.6"/><path d="M451 999h0m-41 15h0m106-50h0m115-68h0" stroke="#da7e38" stroke-width="3.0"/><path d="M747 847h0m-37-9h0m-4 24h0m-262 157h0m25-18h0m215-190h0m-6 23h0m66 15h0m-219 126h0m-28 10h0m240-166h0m-49 54h0m31-18h0" stroke="#723611" stroke-width="6.6"/><path d="M747 847h0m-37-9h0m-4 24h0m-262 157h0m25-18h0m215-190h0m-6 23h0m66 15h0m-219 126h0m-28 10h0m240-166h0m-49 54h0m31-18h0" stroke="#e3863d" stroke-width="3.0"/><path d="M441 986h0m166-104h0m-59 17h0m-28 15h0m-13 16h0m83-53h0m9 9h0m-142 63h0m156-64h0m-67 37h0m-21 14h0m0-3h0m-57 17h0m6-3h0m-44 26h0" stroke="#3e1d0a" stroke-width="6.6"/><path d="M441 986h0m166-104h0m-59 17h0m-28 15h0m-13 16h0m83-53h0m9 9h0m-142 63h0m156-64h0m-67 37h0m-21 14h0m0-3h0m-57 17h0m6-3h0m-44 26h0" stroke="#c76e2d" stroke-width="3.0"/><path d="M568 925h0m-160 73h0" stroke="#50250c" stroke-width="6.6"/><path d="M568 925h0m-160 73h0" stroke="#d17633" stroke-width="3.0"/><path d="M565 937h0m-190 73h0m267-120h0m-235 116h0m-37 10h0" stroke="#602e0e" stroke-width="6.6"/><path d="M565 937h0m-190 73h0m267-120h0m-235 116h0m-37 10h0" stroke="#da7e38" stroke-width="3.0"/><path d="M476 998h0m127-65h0m-24 14h0m84-76h0m43-39h0m21 27h0m-217 123h0m-96 49h0m291-186h0m-127 93h0m96-92h0m-5 50h0m41-49h0m-274 164h0m355-185h0m-227 120h0m118-76h0m-7-49h0" stroke="#723611" stroke-width="6.6"/><path d="M476 998h0m127-65h0m-24 14h0m84-76h0m43-39h0m21 27h0m-217 123h0m-96 49h0m291-186h0m-127 93h0m96-92h0m-5 50h0m41-49h0m-274 164h0m355-185h0m-227 120h0m118-76h0m-7-49h0" stroke="#e3863d" stroke-width="3.0"/><path d="M455 974h0m30-37h0m123-70h0m-68 38h0m67-26h0m-150 80h0m15 5h0m154-99h0m-8 14h0m-83 44h0m-91 41h0m1 9h0m9-16h0m35-18h0m-39 37h0" stroke="#3e1d0a" stroke-width="6.6"/><path d="M455 974h0m30-37h0m123-70h0m-68 38h0m67-26h0m-150 80h0m15 5h0m154-99h0m-8 14h0m-83 44h0m-91 41h0m1 9h0m9-16h0m35-18h0m-39 37h0" stroke="#c76e2d" stroke-width="3.0"/><path d="M645 856h0m-3 15h0m-77 50h0m-76 42h0m41-12h0m96-72h0m-18 28h0m-203 75h0m3 6h0" stroke="#50250c" stroke-width="6.6"/><path d="M645 856h0m-3 15h0m-77 50h0m-76 42h0m41-12h0m96-72h0m-18 28h0m-203 75h0m3 6h0" stroke="#d17633" stroke-width="3.0"/><path d="M499 970h0m164-106h0m-74 60h0m62-60h0" stroke="#602e0e" stroke-width="6.6"/><path d="M499 970h0m164-106h0m-74 60h0m62-60h0" stroke="#da7e38" stroke-width="3.0"/><path d="M673 828h0m25-13h0m-9 7h0m-78 110h0m40-23h0m-290 108h0m66-1h0m216-108h0m-42 23h0m-144 76h0m175-97h0m142-82h0" stroke="#723611" stroke-width="6.6"/><path d="M673 828h0m25-13h0m-9 7h0m-78 110h0m40-23h0m-290 108h0m66-1h0m216-108h0m-42 23h0m-144 76h0m175-97h0m142-82h0" stroke="#e3863d" stroke-width="3.0"/><path d="M526 936h0m-26 11h0m-69 26h0m15-17h0m46-6h0m-35 22h0m80-59h0" stroke="#3e1d0a" stroke-width="6.6"/><path d="M526 936h0m-26 11h0m-69 26h0m15-17h0m46-6h0m-35 22h0m80-59h0" stroke="#c76e2d" stroke-width="3.0"/><path d="M550 933h0m-17 6h0m89-44h0m5-18h0m4-17h0m5-11h0m-223 139h0m173-74h0" stroke="#50250c" stroke-width="6.6"/><path d="M550 933h0m-17 6h0m89-44h0m5-18h0m4-17h0m5-11h0m-223 139h0m173-74h0" stroke="#d17633" stroke-width="3.0"/><path d="M655 840h0m-50 78h0m-54 22h0m-139 76h0m244-148h0m-88 65h0m-132 72h0m216-146h0m-5 19h0" stroke="#602e0e" stroke-width="6.6"/><path d="M655 840h0m-50 78h0m-54 22h0m-139 76h0m244-148h0m-88 65h0m-132 72h0m216-146h0m-5 19h0" stroke="#da7e38" stroke-width="3.0"/><path d="M592 940h0m83-101h0m-139 124h0m147-116h0m-252 173h0m-29 8h0m48-16h0m224-190h0m-195 171h0m-16 19h0m200-141h0m47-50h0m-27 14h0m28 0h0m-218 155h0m-130 31h0" stroke="#723611" stroke-width="6.6"/><path d="M592 940h0m83-101h0m-139 124h0m147-116h0m-252 173h0m-29 8h0m48-16h0m224-190h0m-195 171h0m-16 19h0m200-141h0m47-50h0m-27 14h0m28 0h0m-218 155h0m-130 31h0" stroke="#e3863d" stroke-width="3.0"/><path d="M605 887h0m-50 33h0m9-7h0m3-26h0m-26 30h0m-90 43h0m139-63h0m-90 34h0m-72 45h0m148-97h0m-30 42h0m-133 57h0m159-67h0m-119 52h0" stroke="#3e1d0a" stroke-width="6.6"/><path d="M605 887h0m-50 33h0m9-7h0m3-26h0m-26 30h0m-90 43h0m139-63h0m-90 34h0m-72 45h0m148-97h0m-30 42h0m-133 57h0m159-67h0m-119 52h0" stroke="#c76e2d" stroke-width="3.0"/><path d="M398 997h0m241-134h0m-172 121h0m-36 4h0m62-31h0m129-59h0m-207 102h0" stroke="#50250c" stroke-width="6.6"/><path d="M398 997h0m241-134h0m-172 121h0m-36 4h0m62-31h0m129-59h0m-207 102h0" stroke="#d17633" stroke-width="3.0"/><path d="M391 1010h0m203-92h0m-217 88h0" stroke="#602e0e" stroke-width="6.6"/><path d="M391 1010h0m203-92h0m-217 88h0" stroke="#da7e38" stroke-width="3.0"/><path d="M683 860h0m-197 133h0m212-114h0m-26-43h0m-254 187h0m-26 0h0m83-28h0m-27 18h0m305-180h0m-341 200h0m276-222h0m-97 130h0m152-82h0m-55-46h0m-67 105h0m-67 32h0" stroke="#723611" stroke-width="6.6"/><path d="M683 860h0m-197 133h0m212-114h0m-26-43h0m-254 187h0m-26 0h0m83-28h0m-27 18h0m305-180h0m-341 200h0m276-222h0m-97 130h0m152-82h0m-55-46h0m-67 105h0m-67 32h0" stroke="#e3863d" stroke-width="3.0"/><path d="M411 983h0m105-48h0m-30 4h0m110-46h0m13-23h0m-190 112h0m71-46h0" stroke="#3e1d0a" stroke-width="6.6"/><path d="M411 983h0m105-48h0m-30 4h0m110-46h0m13-23h0m-190 112h0m71-46h0" stroke="#c76e2d" stroke-width="3.0"/><path d="M415 993h0m181-90h0m11 0h0m-40 18h0m63-61h0m-205 130h0m180-84h0m-129 74h0m-37 14h0m204-140h0m-260 144h0m246-111h0" stroke="#50250c" stroke-width="6.6"/><path d="M415 993h0m181-90h0m11 0h0m-40 18h0m63-61h0m-205 130h0m180-84h0m-129 74h0m-37 14h0m204-140h0m-260 144h0m246-111h0" stroke="#d17633" stroke-width="3.0"/><path d="M666 841h0m-48 68h0m-207 100h0m53-14h0m168-97h0m26-53h0m-11 23h0" stroke="#602e0e" stroke-width="6.6"/><path d="M666 841h0m-48 68h0m-207 100h0m53-14h0m168-97h0m26-53h0m-11 23h0" stroke="#da7e38" stroke-width="3.0"/><path d="M497 992h0m164-112h0m-244 135h0m-60 3h0m251-93h0m20-6h0m60-107h0m-108 132h0m-166 79h0m44-8h0m233-168h0m32 9h0m-47 13h0m-131 90h0" stroke="#723611" stroke-width="6.6"/><path d="M497 992h0m164-112h0m-244 135h0m-60 3h0m251-93h0m20-6h0m60-107h0m-108 132h0m-166 79h0m44-8h0m233-168h0m32 9h0m-47 13h0m-131 90h0" stroke="#e3863d" stroke-width="3.0"/><path d="M576 896h0m43-15h0m-10 8h0m-97 46h0m36-26h0m-10 1h0m-2-23h0m-100 78h0m179-107h0m-37 25h0m-126 86h0m45-24h0m-51 32h0" stroke="#3e1d0a" stroke-width="6.6"/><path d="M576 896h0m43-15h0m-10 8h0m-97 46h0m36-26h0m-10 1h0m-2-23h0m-100 78h0m179-107h0m-37 25h0m-126 86h0m45-24h0m-51 32h0" stroke="#c76e2d" stroke-width="3.0"/><path d="M462 981h0m-21 16h0m-9-7h0m-21 3h0m225-130h0m-63 51h0m19 0h0m-184 81h0" stroke="#50250c" stroke-width="6.6"/><path d="M462 981h0m-21 16h0m-9-7h0m-21 3h0m225-130h0m-63 51h0m19 0h0m-184 81h0" stroke="#d17633" stroke-width="3.0"/><path d="M587 921h0m-122 77h0" stroke="#602e0e" stroke-width="6.6"/><path d="M587 921h0m-122 77h0" stroke="#da7e38" stroke-width="3.0"/><path d="M434 1024h0m64-41h0m228-129h0m-304 170h0m243-208h0m47 44h0m-224 127h0m224-134h0m-298 169h0m24-7h0m-5 6h0m126-62h0m76-49h0m-47 22h0m-11 16h0m103-112h0m-30 71h0" stroke="#723611" stroke-width="6.6"/><path d="M434 1024h0m64-41h0m228-129h0m-304 170h0m243-208h0m47 44h0m-224 127h0m224-134h0m-298 169h0m24-7h0m-5 6h0m126-62h0m76-49h0m-47 22h0m-11 16h0m103-112h0m-30 71h0" stroke="#e3863d" stroke-width="3.0"/><path d="M607 871h0m-174 112h0m18-4h0m50-57h0m19 7h0m-63 45h0m59-37h0m-74 28h0m126-72h0m19-5h0m-73 33h0m-77 55h0" stroke="#3e1d0a" stroke-width="6.6"/><path d="M607 871h0m-174 112h0m18-4h0m50-57h0m19 7h0m-63 45h0m59-37h0m-74 28h0m126-72h0m19-5h0m-73 33h0m-77 55h0" stroke="#c76e2d" stroke-width="3.0"/><path d="M466 979h0m14-9h0m-37 24h0m163-100h0m18 5h0m-180 97h0m166-98h0m-81 50h0m91-54h0m-140 79h0m150-89h0" stroke="#50250c" stroke-width="6.6"/><path d="M466 979h0m14-9h0m-37 24h0m163-100h0m18 5h0m-180 97h0m166-98h0m-81 50h0m91-54h0m-140 79h0m150-89h0" stroke="#d17633" stroke-width="3.0"/><path d="M457 1001h0m184-104h0m-275 119h0m236-94h0m59-61h0m-207 138h0" stroke="#602e0e" stroke-width="6.6"/><path d="M457 1001h0m184-104h0m-275 119h0m236-94h0m59-61h0m-207 138h0" stroke="#da7e38" stroke-width="3.0"/><path d="M570 942h0m-30 20h0m375-221h0m-202 97h0m-12 37h0m-74 40h0m117-89h0m-216 148h0m-43 17h0m201-172h0m-189 164h0" stroke="#723611" stroke-width="6.6"/><path d="M570 942h0m-30 20h0m375-221h0m-202 97h0m-12 37h0m-74 40h0m117-89h0m-216 148h0m-43 17h0m201-172h0m-189 164h0" stroke="#e3863d" stroke-width="3.0"/><path d="M569 904h0m-130 57h0m32-3h0m-26 14h0m158-81h0m-182 88h0m179-106h0m-38 16h0m-52 57h0m-29 13h0m-2 1h0m88-60h0m35-29h0m-158 110h0m149-107h0" stroke="#3e1d0a" stroke-width="6.6"/><path d="M569 904h0m-130 57h0m32-3h0m-26 14h0m158-81h0m-182 88h0m179-106h0m-38 16h0m-52 57h0m-29 13h0m-2 1h0m88-60h0m35-29h0m-158 110h0m149-107h0" stroke="#c76e2d" stroke-width="3.0"/><path d="M381 997h0m117-41h0m70-41h0m75-43h0m-67 45h0m10-1h0m-134 75h0m82-55h0m-36 33h0" stroke="#50250c" stroke-width="6.6"/><path d="M381 997h0m117-41h0m70-41h0m75-43h0m-67 45h0m10-1h0m-134 75h0m82-55h0m-36 33h0" stroke="#d17633" stroke-width="3.0"/><path d="M668 845h0m-168 134h0m-99 31h0m248-145h0m-104 88h0" stroke="#602e0e" stroke-width="6.6"/><path d="M668 845h0m-168 134h0m-99 31h0m248-145h0m-104 88h0" stroke="#da7e38" stroke-width="3.0"/><path d="M606 928h0m24-10h0m113-66h0m21-26h0m-72 18h0m63-24h0m-47 12h0m-77 85h0m-204 107h0m302-183h0m-308 176h0" stroke="#723611" stroke-width="6.6"/><path d="M606 928h0m24-10h0m113-66h0m21-26h0m-72 18h0m63-24h0m-47 12h0m-77 85h0m-204 107h0m302-183h0m-308 176h0" stroke="#e3863d" stroke-width="3.0"/><path d="M468 965h0m48-47h0m-6 28h0m-76 36h0m176-93h0m-128 45h0" stroke="#3e1d0a" stroke-width="6.6"/><path d="M468 965h0m48-47h0m-6 28h0m-76 36h0m176-93h0m-128 45h0" stroke="#c76e2d" stroke-width="3.0"/><path d="M628 891h0m-43 19h0m-172 90h0m53-27h0m81-38h0m57-32h0m34-50h0" stroke="#50250c" stroke-width="6.6"/><path d="M628 891h0m-43 19h0m-172 90h0m53-27h0m81-38h0m57-32h0m34-50h0" stroke="#d17633" stroke-width="3.0"/><path d="M363 1008h0m287-132h0m-52 42h0m58-80h0m-289 168h0m102-13h0m-53 13h0" stroke="#602e0e" stroke-width="6.6"/><path d="M363 1008h0m287-132h0m-52 42h0m58-80h0m-289 168h0m102-13h0m-53 13h0" stroke="#da7e38" stroke-width="3.0"/><path d="M573 945h0m159-98h0m32-13h0m-91-7h0m17 27h0m-58 57h0m59-74h0m-258 187h0m122-70h0m-108 67h0m331-194h0m-338 185h0m205-110h0m80-68h0m31-14h0m-322 203h0m13-5h0m271-162h0m-43-29h0m51-7h0" stroke="#723611" stroke-width="6.6"/><path d="M573 945h0m159-98h0m32-13h0m-91-7h0m17 27h0m-58 57h0m59-74h0m-258 187h0m122-70h0m-108 67h0m331-194h0m-338 185h0m205-110h0m80-68h0m31-14h0m-322 203h0m13-5h0m271-162h0m-43-29h0m51-7h0" stroke="#e3863d" stroke-width="3.0"/><path d="M592 874h0m-171 102h0m21-15h0m151-80h0m-179 95h0m137-74h0m-60 45h0m109-59h0m-122 58h0m-2 15h0m59-52h0m-66 38h0m27-20h0" stroke="#3e1d0a" stroke-width="6.6"/><path d="M592 874h0m-171 102h0m21-15h0m151-80h0m-179 95h0m137-74h0m-60 45h0m109-59h0m-122 58h0m-2 15h0m59-52h0m-66 38h0m27-20h0" stroke="#c76e2d" stroke-width="3.0"/><path d="M528 949h0m81-43h0m21-53h0m-187 139h0m45-31h0m71-35h0" stroke="#50250c" stroke-width="6.6"/><path d="M528 949h0m81-43h0m21-53h0m-187 139h0m45-31h0m71-35h0" stroke="#d17633" stroke-width="3.0"/><path d="M408 1016h0m-26-15h0m266-110h0m-217 115h0" stroke="#602e0e" stroke-width="6.6"/><path d="M408 1016h0m-26-15h0m266-110h0m-217 115h0" stroke="#da7e38" stroke-width="3.0"/><path d="M671 848h0m0 30h0m-43 45h0m26-21h0m5-4h0m-208 108h0m255-165h0m-270 181h0m327-197h0m-189 126h0m19-21h0m96-40h0m-271 127h0m261-162h0m-94 90h0m-92 49h0m221-122h0" stroke="#723611" stroke-width="6.6"/><path d="M671 848h0m0 30h0m-43 45h0m26-21h0m5-4h0m-208 108h0m255-165h0m-270 181h0m327-197h0m-189 126h0m19-21h0m96-40h0m-271 127h0m261-162h0m-94 90h0m-92 49h0m221-122h0" stroke="#e3863d" stroke-width="3.0"/><path d="M497 943h0m15-16h0m-43 18h0m-15-15h0m30 16h0m20-14h0m-52 31h0m58-39h0m45-25h0" stroke="#3e1d0a" stroke-width="6.6"/><path d="M497 943h0m15-16h0m-43 18h0m-15-15h0m30 16h0m20-14h0m-52 31h0m58-39h0m45-25h0" stroke="#c76e2d" stroke-width="3.0"/><path d="M570 929h0m67-42h0m-51 29h0m10-10h0m5 3h0m-40 13h0m-79 43h0" stroke="#50250c" stroke-width="6.6"/><path d="M570 929h0m67-42h0m-51 29h0m10-10h0m5 3h0m-40 13h0m-79 43h0" stroke="#d17633" stroke-width="3.0"/><path d="M441 1005h0m16-13h0m200-157h0m-208 162h0m187-108h0m-162 99h0m-66 27h0" stroke="#602e0e" stroke-width="6.6"/><path d="M441 1005h0m16-13h0m200-157h0m-208 162h0m187-108h0m-162 99h0m-66 27h0" stroke="#da7e38" stroke-width="3.0"/><path d="M403 1038h0m238-128h0m118-85h0m-297 180h0m160-86h0m-191 110h0m154-85h0m-180 97h0m133-74h0m-90 49h0m299-187h0m-232 150h0m91-57h0m179-89h0m-168 93h0m49-30h0m-9 8h0" stroke="#723611" stroke-width="6.6"/><path d="M403 1038h0m238-128h0m118-85h0m-297 180h0m160-86h0m-191 110h0m154-85h0m-180 97h0m133-74h0m-90 49h0m299-187h0m-232 150h0m91-57h0m179-89h0m-168 93h0m49-30h0m-9 8h0" stroke="#e3863d" stroke-width="3.0"/><path d="M512 926h0m56-19h0m-43 10h0m26-1h0m-27 15h0m90-63h0m-184 100h0m130-65h0m49-28h0m-51 29h0" stroke="#3e1d0a" stroke-width="6.6"/><path d="M512 926h0m56-19h0m-43 10h0m26-1h0m-27 15h0m90-63h0m-184 100h0m130-65h0m49-28h0m-51 29h0" stroke="#c76e2d" stroke-width="3.0"/><path d="M520 956h0m33-32h0m-63 38h0m-72 27h0m196-87h0m-206 102h0m227-157h0m-63 69h0" stroke="#50250c" stroke-width="6.6"/><path d="M520 956h0m33-32h0m-63 38h0m-72 27h0m196-87h0m-206 102h0m227-157h0m-63 69h0" stroke="#d17633" stroke-width="3.0"/><path d="M642 883h0m-52 44h0m-128 67h0m40-17h0m135-89h0" stroke="#602e0e" stroke-width="6.6"/><path d="M642 883h0m-52 44h0m-128 67h0m40-17h0m135-89h0" stroke="#da7e38" stroke-width="3.0"/><path d="M675 850h0m-15 52h0m-135 76h0m-39 17h0m-21 8h0m6 4h0m49-36h0m-116 55h0m-45 36h0m325-241h0m-269 213h0m-59-21h0m428-178h0m-282 154h0m229-171h0m-164 129h0m29-16h0" stroke="#723611" stroke-width="6.6"/><path d="M675 850h0m-15 52h0m-135 76h0m-39 17h0m-21 8h0m6 4h0m49-36h0m-116 55h0m-45 36h0m325-241h0m-269 213h0m-59-21h0m428-178h0m-282 154h0m229-171h0m-164 129h0m29-16h0" stroke="#e3863d" stroke-width="3.0"/><path d="M593 873h0m-101 60h0m-7 2h0m-67 47h0m145-67h0m53-35h0m-49 10h0m-122 79h0m178-110h0m-131 77h0m99-38h0m-68 41h0" stroke="#3e1d0a" stroke-width="6.6"/><path d="M593 873h0m-101 60h0m-7 2h0m-67 47h0m145-67h0m53-35h0m-49 10h0m-122 79h0m178-110h0m-131 77h0m99-38h0m-68 41h0" stroke="#c76e2d" stroke-width="3.0"/><path d="M584 920h0m13-22h0m-60 41h0m105-91h0m-11 26h0m-163 110h0m67-46h0" stroke="#50250c" stroke-width="6.6"/><path d="M584 920h0m13-22h0m-60 41h0m105-91h0m-11 26h0m-163 110h0m67-46h0" stroke="#d17633" stroke-width="3.0"/><path d="M658 849h0m1-12h0m-89 95h0m-18 8h0m62-26h0" stroke="#602e0e" stroke-width="6.6"/><path d="M658 849h0m1-12h0m-89 95h0m-18 8h0m62-26h0" stroke="#da7e38" stroke-width="3.0"/><path d="M712 837h0m-302 184h0m68-25h0m18-10h0m71-35h0m154-108h0m3-1h0m-14-7h0m47 0h0m-18-3h0m-63 64h0m-91 48h0m138-121h0m38 24h0m-17-6h0m-43-24h0" stroke="#723611" stroke-width="6.6"/><path d="M712 837h0m-302 184h0m68-25h0m18-10h0m71-35h0m154-108h0m3-1h0m-14-7h0m47 0h0m-18-3h0m-63 64h0m-91 48h0m138-121h0m38 24h0m-17-6h0m-43-24h0" stroke="#e3863d" stroke-width="3.0"/><path d="M622 883h0m-109 60h0m58-55h0m-82 52h0m101-59h0m-142 83h0" stroke="#3e1d0a" stroke-width="6.6"/><path d="M622 883h0m-109 60h0m58-55h0m-82 52h0m101-59h0m-142 83h0" stroke="#c76e2d" stroke-width="3.0"/><path d="M474 977h0m-83 11h0m210-80h0m-59 25h0m64-35h0m-32 27h0" stroke="#50250c" stroke-width="6.6"/><path d="M474 977h0m-83 11h0m210-80h0m-59 25h0m64-35h0m-32 27h0" stroke="#d17633" stroke-width="3.0"/><path d="M667 823h0m-204 171h0m-23 6h0m217-153h0m-111 103h0" stroke="#602e0e" stroke-width="6.6"/><path d="M667 823h0m-204 171h0m-23 6h0m217-153h0m-111 103h0" stroke="#da7e38" stroke-width="3.0"/><path d="M552 955h0m-20 14h0m188-99h0m-45-7h0m75-44h0m-128 105h0m93-58h0m-137 76h0m119-69h0m-29 12h0m-66 47h0m-49 30h0m143-91h0m19-21h0m-31 0h0m-184 142h0m141-75h0m-127 55h0m75-41h0m-189 106h0m271-223h0m5 56h0m94-30h0" stroke="#723611" stroke-width="6.6"/><path d="M552 955h0m-20 14h0m188-99h0m-45-7h0m75-44h0m-128 105h0m93-58h0m-137 76h0m119-69h0m-29 12h0m-66 47h0m-49 30h0m143-91h0m19-21h0m-31 0h0m-184 142h0m141-75h0m-127 55h0m75-41h0m-189 106h0m271-223h0m5 56h0m94-30h0" stroke="#e3863d" stroke-width="3.0"/><path d="M564 892h0m-1 0h0m37 4h0m15-39h0m-107 85h0m-26 0h0m-23 28h0" stroke="#3e1d0a" stroke-width="6.6"/><path d="M564 892h0m-1 0h0m37 4h0m15-39h0m-107 85h0m-26 0h0m-23 28h0" stroke="#c76e2d" stroke-width="3.0"/><path d="M634 859h0m-34 45h0m-188 99h0m53-26h0m71-42h0m-57 40h0m16-5h0m85-47h0m0-10h0m-1-3h0" stroke="#50250c" stroke-width="6.6"/><path d="M634 859h0m-34 45h0m-188 99h0m53-26h0m71-42h0m-57 40h0m16-5h0m85-47h0m0-10h0m-1-3h0" stroke="#d17633" stroke-width="3.0"/><path d="M640 887h0m-69 44h0m-32 16h0m-97 54h0m66-27h0m-91 33h0m-23 1h0m267-193h0m-2 13h0m-47 80h0m-155 86h0m-1 3h0m-46 14h0" stroke="#602e0e" stroke-width="6.6"/><path d="M640 887h0m-69 44h0m-32 16h0m-97 54h0m66-27h0m-91 33h0m-23 1h0m267-193h0m-2 13h0m-47 80h0m-155 86h0m-1 3h0m-46 14h0" stroke="#da7e38" stroke-width="3.0"/><path d="M677 809h0m10 70h0m31-15h0m-35-7h0m-155 107h0m-21 17h0m226-144h0m-345 182h0m332-176h0m-94 79h0" stroke="#723611" stroke-width="6.6"/><path d="M677 809h0m10 70h0m31-15h0m-35-7h0m-155 107h0m-21 17h0m226-144h0m-345 182h0m332-176h0m-94 79h0" stroke="#e3863d" stroke-width="3.0"/><path d="M525 911h0m-59 37h0m113-68h0m-16 10h0m-40 46h0m48-69h0m-87 89h0m125-72h0m-93 52h0m19-9h0m-16 15h0m68-62h0" stroke="#3e1d0a" stroke-width="6.6"/><path d="M525 911h0m-59 37h0m113-68h0m-16 10h0m-40 46h0m48-69h0m-87 89h0m125-72h0m-93 52h0m19-9h0m-16 15h0m68-62h0" stroke="#c76e2d" stroke-width="3.0"/><path d="M576 916h0m-175 77h0m148-54h0m-164 58h0m39 4h0m-25-2h0m113-40h0" stroke="#50250c" stroke-width="6.6"/><path d="M576 916h0m-175 77h0m148-54h0m-164 58h0m39 4h0m-25-2h0m113-40h0" stroke="#d17633" stroke-width="3.0"/><path d="M548 952h0m94-69h0m-91 64h0m-143 62h0m180-80h0m-20 7h0m89-59h0" stroke="#602e0e" stroke-width="6.6"/><path d="M548 952h0m94-69h0m-91 64h0m-143 62h0m180-80h0m-20 7h0m89-59h0" stroke="#da7e38" stroke-width="3.0"/><path d="M646 899h0m-102 57h0m171-128h0m-300 204h0m336-212h0m-156 117h0m175-129h0m-249 163h0m149-105h0m-58 55h0m67-48h0m-4 22h0m-208 103h0m216-138h0" stroke="#723611" stroke-width="6.6"/><path d="M646 899h0m-102 57h0m171-128h0m-300 204h0m336-212h0m-156 117h0m175-129h0m-249 163h0m149-105h0m-58 55h0m67-48h0m-4 22h0m-208 103h0m216-138h0" stroke="#e3863d" stroke-width="3.0"/><path d="M473 948h0m40-26h0m-71 56h0m82-46h0m-42 22h0m105-76h0m-12 29h0m-2-16h0m-128 81h0" stroke="#3e1d0a" stroke-width="6.6"/><path d="M473 948h0m40-26h0m-71 56h0m82-46h0m-42 22h0m105-76h0m-12 29h0m-2-16h0m-128 81h0" stroke="#c76e2d" stroke-width="3.0"/><path d="M629 885h0m1-10h0m-145 98h0m146-83h0m-147 74h0m12-1h0" stroke="#50250c" stroke-width="6.6"/><path d="M629 885h0m1-10h0m-145 98h0m146-83h0m-147 74h0m12-1h0" stroke="#d17633" stroke-width="3.0"/><path d="M664 842h0m-224 163h0m217-166h0m-209 161h0m-17 4h0m-54-4h0m126-29h0m-3 7h0m40-29h0m18-4h0m53-38h0" stroke="#602e0e" stroke-width="6.6"/><path d="M664 842h0m-224 163h0m217-166h0m-209 161h0m-17 4h0m-54-4h0m126-29h0m-3 7h0m40-29h0m18-4h0m53-38h0" stroke="#da7e38" stroke-width="3.0"/><path d="M679 825h0m-278 213h0m116-55h0m9-17h0m213-125h0m-35 12h0m-26-18h0m30 17h0m17-28h0m-325 210h0m225-119h0m55-56h0m10 13h0m69-42h0" stroke="#723611" stroke-width="6.6"/><path d="M679 825h0m-278 213h0m116-55h0m9-17h0m213-125h0m-35 12h0m-26-18h0m30 17h0m17-28h0m-325 210h0m225-119h0m55-56h0m10 13h0m69-42h0" stroke="#e3863d" stroke-width="3.0"/><path d="M596 870h0m-104 65h0m-61 37h0m63-22h0m89-60h0m-41 32h0m75-53h0m-66 42h0m71-48h0m-164 110h0m-30 11h0m78-60h0m91-49h0m9 17h0m-70 20h0" stroke="#3e1d0a" stroke-width="6.6"/><path d="M596 870h0m-104 65h0m-61 37h0m63-22h0m89-60h0m-41 32h0m75-53h0m-66 42h0m71-48h0m-164 110h0m-30 11h0m78-60h0m91-49h0m9 17h0m-70 20h0" stroke="#c76e2d" stroke-width="3.0"/><path d="M608 896h0m28-15h0m-96 62h0m-111 54h0m80-44h0m-70 43h0m202-124h0m-215 118h0m190-98h0" stroke="#50250c" stroke-width="6.6"/><path d="M608 896h0m28-15h0m-96 62h0m-111 54h0m80-44h0m-70 43h0m202-124h0m-215 118h0m190-98h0" stroke="#d17633" stroke-width="3.0"/><path d="M607 915h0m-164 89h0m-25 2h0m137-63h0" stroke="#602e0e" stroke-width="6.6"/><path d="M607 915h0m-164 89h0m-25 2h0m137-63h0" stroke="#da7e38" stroke-width="3.0"/><path d="M550 966h0m116-85h0m-142 97h0m139-101h0m99-40h0m-50-4h0m-44 68h0m-189 96h0m-42 18h0m319-180h0m-253 146h0m182-124h0" stroke="#723611" stroke-width="6.6"/><path d="M550 966h0m116-85h0m-142 97h0m139-101h0m99-40h0m-50-4h0m-44 68h0m-189 96h0m-42 18h0m319-180h0m-253 146h0m182-124h0" stroke="#e3863d" stroke-width="3.0"/><path d="M481 947h0m-41 17h0m91-32h0m-96 36h0m185-90h0m-176 104h0m79-57h0m-55 37h0m1-1h0" stroke="#3e1d0a" stroke-width="6.6"/><path d="M481 947h0m-41 17h0m91-32h0m-96 36h0m185-90h0m-176 104h0m79-57h0m-55 37h0m1-1h0" stroke="#c76e2d" stroke-width="3.0"/><path d="M619 893h0m-122 73h0m34-29h0m-36 20h0m145-90h0m-16 22h0m-215 110h0m-28-4h0m154-58h0" stroke="#50250c" stroke-width="6.6"/><path d="M619 893h0m-122 73h0m34-29h0m-36 20h0m145-90h0m-16 22h0m-215 110h0m-28-4h0m154-58h0" stroke="#d17633" stroke-width="3.0"/><path d="M389 1012h0m62-16h0m54-22h0m-86 33h0m-29-1h0m-24 5h0m275-125h0m22-43h0m-87 84h0m41-23h0" stroke="#602e0e" stroke-width="6.6"/><path d="M389 1012h0m62-16h0m54-22h0m-86 33h0m-29-1h0m-24 5h0m275-125h0m22-43h0m-87 84h0m41-23h0" stroke="#da7e38" stroke-width="3.0"/><path d="M682 893h0m-110 57h0m100-73h0m-12 5h0m-159 109h0m244-136h0m-273 142h0m-71 40h0m78-37h0m-63 19h0m327-161h0m-84 35h0" stroke="#723611" stroke-width="6.6"/><path d="M682 893h0m-110 57h0m100-73h0m-12 5h0m-159 109h0m244-136h0m-273 142h0m-71 40h0m78-37h0m-63 19h0m327-161h0m-84 35h0" stroke="#e3863d" stroke-width="3.0"/><path d="M611 871h0m-190 115h0m101-54h0m12-17h0m-24 12h0m24-8h0m34-31h0m56-18h0" stroke="#3e1d0a" stroke-width="6.6"/><path d="M611 871h0m-190 115h0m101-54h0m12-17h0m-24 12h0m24-8h0m34-31h0m56-18h0" stroke="#c76e2d" stroke-width="3.0"/><path d="M598 901h0m-24 25h0m-163 60h0m140-57h0m-80 54h0m41-34h0m-65 39h0m123-62h0m64-39h0m10-20h0m-189 116h0m147-77h0" stroke="#50250c" stroke-width="6.6"/><path d="M598 901h0m-24 25h0m-163 60h0m140-57h0m-80 54h0m41-34h0m-65 39h0m123-62h0m64-39h0m10-20h0m-189 116h0m147-77h0" stroke="#d17633" stroke-width="3.0"/><path d="M654 843h0m-85 88h0m41-22h0m41-62h0m-177 137h0m-93 35h0m236-107h0m-65 39h0m-79 34h0m-57 28h0m200-108h0" stroke="#602e0e" stroke-width="6.6"/><path d="M654 843h0m-85 88h0m41-22h0m41-62h0m-177 137h0m-93 35h0m236-107h0m-65 39h0m-79 34h0m-57 28h0m200-108h0" stroke="#da7e38" stroke-width="3.0"/><path d="M701 835h0m0 36h0m6-46h0m-22-12h0m41 41h0m-55 28h0m91-38h0m-58 22h0m-305 156h0" stroke="#723611" stroke-width="6.6"/><path d="M701 835h0m0 36h0m6-46h0m-22-12h0m41 41h0m-55 28h0m91-38h0m-58 22h0m-305 156h0" stroke="#e3863d" stroke-width="3.0"/><path d="M483 961h0m121-71h0m-103 38h0m-67 52h0m12-1h0m67-36h0m25-15h0m34-41h0m28-9h0m-127 66h0m-3 13h0m5-11h0" stroke="#3e1d0a" stroke-width="6.6"/><path d="M483 961h0m121-71h0m-103 38h0m-67 52h0m12-1h0m67-36h0m25-15h0m34-41h0m28-9h0m-127 66h0m-3 13h0m5-11h0" stroke="#c76e2d" stroke-width="3.0"/><path d="M633 887h0m-153 81h0m-67 33h0m-19 2h0m41-5h0m207-144h0m-241 140h0m57-3h0" stroke="#50250c" stroke-width="6.6"/><path d="M633 887h0m-153 81h0m-67 33h0m-19 2h0m41-5h0m207-144h0m-241 140h0m57-3h0" stroke="#d17633" stroke-width="3.0"/><path d="M650 863h0m-128 96h0m-167 50h0m300-135h0m4-32h0m7-16h0m-32 77h0m22-66h0" stroke="#602e0e" stroke-width="6.6"/><path d="M650 863h0m-128 96h0m-167 50h0m300-135h0m4-32h0m7-16h0m-32 77h0m22-66h0" stroke="#da7e38" stroke-width="3.0"/><path d="M729 825h0m-79 76h0m17-87h0m-189 182h0m76-40h0m-116 64h0m62-32h0m183-146h0m8 44h0m45-28h0m-165 95h0m-9-2h0" stroke="#723611" stroke-width="6.6"/><path d="M729 825h0m-79 76h0m17-87h0m-189 182h0m76-40h0m-116 64h0m62-32h0m183-146h0m8 44h0m45-28h0m-165 95h0m-9-2h0" stroke="#e3863d" stroke-width="3.0"/><path d="M478 960h0m139-104h0m-170 106h0m56-30h0m5-2h0m121-73h0m-28 27h0m-100 54h0m38-18h0m45-17h0m-125 68h0m96-56h0" stroke="#3e1d0a" stroke-width="6.6"/><path d="M478 960h0m139-104h0m-170 106h0m56-30h0m5-2h0m121-73h0m-28 27h0m-100 54h0m38-18h0m45-17h0m-125 68h0m96-56h0" stroke="#c76e2d" stroke-width="3.0"/><path d="M637 868h0m-239 125h0m-8 9h0m191-84h0m0 0h0m49-54h0m-10 33h0m-47 22h0m10 0h0m-13 4h0m-174 80h0" stroke="#50250c" stroke-width="6.6"/><path d="M637 868h0m-239 125h0m-8 9h0m191-84h0m0 0h0m49-54h0m-10 33h0m-47 22h0m10 0h0m-13 4h0m-174 80h0" stroke="#d17633" stroke-width="3.0"/><path d="M646 892h0m-149 83h0m154-112h0m-33 50h0m18-23h0m-85 57h0m-36 15h0" stroke="#602e0e" stroke-width="6.6"/><path d="M646 892h0m-149 83h0m154-112h0m-33 50h0m18-23h0m-85 57h0m-36 15h0" stroke="#da7e38" stroke-width="3.0"/><path d="M654 898h0m59-42h0m-115 71h0m84-92h0m-102 109h0m151-81h0m-20 1h0m-231 129h0m15 0h0m28-17h0" stroke="#723611" stroke-width="6.6"/><path d="M654 898h0m59-42h0m-115 71h0m84-92h0m-102 109h0m151-81h0m-20 1h0m-231 129h0m15 0h0m28-17h0" stroke="#e3863d" stroke-width="3.0"/><path d="M510 931h0m6-8h0m8-24h0m-7 19h0m12-10h0m93-43h0m-16 7h0m-92 51h0m-73 38h0m168-89h0m-14 3h0m-102 71h0m65-36h0" stroke="#3e1d0a" stroke-width="6.6"/><path d="M510 931h0m6-8h0m8-24h0m-7 19h0m12-10h0m93-43h0m-16 7h0m-92 51h0m-73 38h0m168-89h0m-14 3h0m-102 71h0m65-36h0" stroke="#c76e2d" stroke-width="3.0"/><path d="M591 911h0m40-31h0m-30 20h0m-65 48h0m-110 39h0m63-20h0" stroke="#50250c" stroke-width="6.6"/><path d="M591 911h0m40-31h0m-30 20h0m-65 48h0m-110 39h0m63-20h0" stroke="#d17633" stroke-width="3.0"/><path d="M511 972h0m137-95h0m-127 81h0m-59 41h0" stroke="#602e0e" stroke-width="6.6"/><path d="M511 972h0m137-95h0m-127 81h0m-59 41h0" stroke="#da7e38" stroke-width="3.0"/><path d="M417 1016h0m-77 21h0m297-118h0m-178 93h0m242-158h0m-25 39h0m51-46h0m-248 145h0m7 1h0m279-161h0m-7-1h0m-75 53h0m2-16h0m-30 35h0m44-64h0m-224 156h0m-30 20h0" stroke="#723611" stroke-width="6.6"/><path d="M417 1016h0m-77 21h0m297-118h0m-178 93h0m242-158h0m-25 39h0m51-46h0m-248 145h0m7 1h0m279-161h0m-7-1h0m-75 53h0m2-16h0m-30 35h0m44-64h0m-224 156h0m-30 20h0" stroke="#e3863d" stroke-width="3.0"/><path d="M607 874h0m-63 46h0m-76 39h0m-41 13h0m133-76h0m-127 75h0m6-5h0m120-49h0m32-30h0m-142 89h0" stroke="#3e1d0a" stroke-width="6.6"/><path d="M607 874h0m-63 46h0m-76 39h0m-41 13h0m133-76h0m-127 75h0m6-5h0m120-49h0m32-30h0m-142 89h0" stroke="#c76e2d" stroke-width="3.0"/><path d="M579 918h0m-59 27h0m10 3h0m40-30h0m-150 71h0m222-113h0" stroke="#50250c" stroke-width="6.6"/><path d="M579 918h0m-59 27h0m10 3h0m40-30h0m-150 71h0m222-113h0" stroke="#d17633" stroke-width="3.0"/><path d="M443 1001h0m218-160h0m-187 152h0m194-154h0m-45 62h0m-9 4h0m31-32h0m4-9h0" stroke="#602e0e" stroke-width="6.6"/><path d="M443 1001h0m218-160h0m-187 152h0m194-154h0m-45 62h0m-9 4h0m31-32h0m4-9h0" stroke="#da7e38" stroke-width="3.0"/><path d="M420 1015h0m134-53h0m-126 56h0m408-287h0m-127 137h0m-85 58h0m85-52h0m-304 148h0m204-95h0m76-70h0m-110 83h0m-60 44h0m189-158h0m-227 168h0m-112 26h0m393-181h0" stroke="#723611" stroke-width="6.6"/><path d="M420 1015h0m134-53h0m-126 56h0m408-287h0m-127 137h0m-85 58h0m85-52h0m-304 148h0m204-95h0m76-70h0m-110 83h0m-60 44h0m189-158h0m-227 168h0m-112 26h0m393-181h0" stroke="#e3863d" stroke-width="3.0"/><path d="M594 888h0m-146 88h0m167-89h0m-116 62h0m-6-21h0m57-26h0m28-2h0m-16-7h0m60-38h0" stroke="#3e1d0a" stroke-width="6.6"/><path d="M594 888h0m-146 88h0m167-89h0m-116 62h0m-6-21h0m57-26h0m28-2h0m-16-7h0m60-38h0" stroke="#c76e2d" stroke-width="3.0"/><path d="M422 995h0m7-1h0m-43-1h0m190-81h0m-96 66h0m132-75h0m26-49h0m9 2h0m-130 92h0m-8 3h0" stroke="#50250c" stroke-width="6.6"/><path d="M422 995h0m7-1h0m-43-1h0m190-81h0m-96 66h0m132-75h0m26-49h0m9 2h0m-130 92h0m-8 3h0" stroke="#d17633" stroke-width="3.0"/><path d="M476 984h0m-5 8h0m183-138h0m-3 7h0m-132 102h0m131-89h0m-29 37h0m-84 46h0m-141 49h0m-9 10h0m270-183h0m-217 170h0m-62 16h0m258-129h0" stroke="#602e0e" stroke-width="6.6"/><path d="M476 984h0m-5 8h0m183-138h0m-3 7h0m-132 102h0m131-89h0m-29 37h0m-84 46h0m-141 49h0m-9 10h0m270-183h0m-217 170h0m-62 16h0m258-129h0" stroke="#da7e38" stroke-width="3.0"/><path d="M671 820h0m76 12h0m5-2h0m-262 162h0m17-5h0m238-164h0m-149 109h0" stroke="#723611" stroke-width="6.6"/><path d="M671 820h0m76 12h0m5-2h0m-262 162h0m17-5h0m238-164h0m-149 109h0" stroke="#e3863d" stroke-width="3.0"/><path d="M608 889h0m-108 36h0m24 1h0m-69 45h0m138-89h0m-70 13h0m11 15h0m74-26h0m-132 77h0m125-89h0m-81 41h0" stroke="#3e1d0a" stroke-width="6.6"/><path d="M608 889h0m-108 36h0m24 1h0m-69 45h0m138-89h0m-70 13h0m11 15h0m74-26h0m-132 77h0m125-89h0m-81 41h0" stroke="#c76e2d" stroke-width="3.0"/><path d="M633 876h0m-44 28h0m-178 85h0m60-11h0m-68 21h0m143-70h0m23-8h0m-171 74h0m248-139h0m-231 144h0" stroke="#50250c" stroke-width="6.6"/><path d="M633 876h0m-44 28h0m-178 85h0m60-11h0m-68 21h0m143-70h0m23-8h0m-171 74h0m248-139h0m-231 144h0" stroke="#d17633" stroke-width="3.0"/><path d="M637 896h0m16-62h0m-125 129h0m105-61h0m-59 32h0m-129 65h0" stroke="#602e0e" stroke-width="6.6"/><path d="M637 896h0m16-62h0m-125 129h0m105-61h0m-59 32h0m-129 65h0" stroke="#da7e38" stroke-width="3.0"/><path d="M435 1024h0m273-208h0m-10 6h0m57 5h0m-247 151h0m-85 46h0m334-178h0m-79-36h0m68 12h0m-35 33h0m-37-13h0m-281 177h0m291-151h0" stroke="#723611" stroke-width="6.6"/><path d="M435 1024h0m273-208h0m-10 6h0m57 5h0m-247 151h0m-85 46h0m334-178h0m-79-36h0m68 12h0m-35 33h0m-37-13h0m-281 177h0m291-151h0" stroke="#e3863d" stroke-width="3.0"/><path d="M446 977h0m3-9h0m-19 18h0m146-102h0m36 5h0m-142 75h0m51-39h0m-50 42h0m120-94h0m-26 38h0m-16-6h0m57-40h0" stroke="#3e1d0a" stroke-width="6.6"/><path d="M446 977h0m3-9h0m-19 18h0m146-102h0m36 5h0m-142 75h0m51-39h0m-50 42h0m120-94h0m-26 38h0m-16-6h0m57-40h0" stroke="#c76e2d" stroke-width="3.0"/><path d="M513 950h0m61-28h0m-167 76h0m-13-1h0m38 0h0" stroke="#50250c" stroke-width="6.6"/><path d="M513 950h0m61-28h0m-167 76h0m-13-1h0m38 0h0" stroke="#d17633" stroke-width="3.0"/><path d="M622 904h0m-233 100h0m79-7h0m-59 9h0m171-76h0m-196 76h0m254-108h0m-140 76h0" stroke="#602e0e" stroke-width="6.6"/><path d="M622 904h0m-233 100h0m79-7h0m-59 9h0m171-76h0m-196 76h0m254-108h0m-140 76h0" stroke="#da7e38" stroke-width="3.0"/><path d="M753 848h0m-66 15h0m-7 0h0m-59 61h0m-33 12h0m-104 61h0m-76 36h0m286-212h0m-19 33h0m-145 117h0m169-132h0m-9 42h0m-51 27h0m69-55h0m-36 35h0" stroke="#723611" stroke-width="6.6"/><path d="M753 848h0m-66 15h0m-7 0h0m-59 61h0m-33 12h0m-104 61h0m-76 36h0m286-212h0m-19 33h0m-145 117h0m169-132h0m-9 42h0m-51 27h0m69-55h0m-36 35h0" stroke="#e3863d" stroke-width="3.0"/><path d="M445 961h0m135-78h0m37-10h0m-9 5h0m-92 43h0m67-35h0m-149 90h0m154-86h0m-43 32h0m-97 42h0m71-45h0" stroke="#3e1d0a" stroke-width="6.6"/><path d="M445 961h0m135-78h0m37-10h0m-9 5h0m-92 43h0m67-35h0m-149 90h0m154-86h0m-43 32h0m-97 42h0m71-45h0" stroke="#c76e2d" stroke-width="3.0"/><path d="M635 849h0m-237 143h0m30 7h0m67-34h0m15-15h0" stroke="#50250c" stroke-width="6.6"/><path d="M635 849h0m-237 143h0m30 7h0m67-34h0m15-15h0" stroke="#d17633" stroke-width="3.0"/><path d="M596 917h0m-241 94h0m97-15h0m155-78h0m-88 44h0m149-128h0" stroke="#602e0e" stroke-width="6.6"/><path d="M596 917h0m-241 94h0m97-15h0m155-78h0m-88 44h0m149-128h0" stroke="#da7e38" stroke-width="3.0"/><path d="M695 819h0m-14 47h0m77-18h0m-35-25h0m21 31h0m226-138h0m-447 255h0m119-67h0m-282 157h0m294-171h0m-231 139h0m267-189h0m48-6h0m-222 141h0m200-135h0m-55 50h0m5-12h0m-29 37h0" stroke="#723611" stroke-width="6.6"/><path d="M695 819h0m-14 47h0m77-18h0m-35-25h0m21 31h0m226-138h0m-447 255h0m119-67h0m-282 157h0m294-171h0m-231 139h0m267-189h0m48-6h0m-222 141h0m200-135h0m-55 50h0m5-12h0m-29 37h0" stroke="#e3863d" stroke-width="3.0"/><path d="M462 948h0m125-67h0m-164 97h0m202-120h0m-163 102h0m21-5h0m-22 13h0m51-38h0m-21 10h0" stroke="#3e1d0a" stroke-width="6.6"/><path d="M462 948h0m125-67h0m-164 97h0m202-120h0m-163 102h0m21-5h0m-22 13h0m51-38h0m-21 10h0" stroke="#c76e2d" stroke-width="3.0"/><path d="M427 996h0m-17-2h0m222-148h0m-91 98h0m-23 0h0m119-74h0m-90 56h0m-1 16h0m96-75h0" stroke="#50250c" stroke-width="6.6"/><path d="M427 996h0m-17-2h0m222-148h0m-91 98h0m-23 0h0m119-74h0m-90 56h0m-1 16h0m96-75h0" stroke="#d17633" stroke-width="3.0"/><path d="M358 1009h0m282-112h0m-262 114h0m259-118h0" stroke="#602e0e" stroke-width="6.6"/><path d="M358 1009h0m282-112h0m-262 114h0m259-118h0" stroke="#da7e38" stroke-width="3.0"/><path d="M783 827h0m-242 137h0m187-105h0m-133 75h0m169-108h0m-267 163h0m-5 2h0m-41 19h0m172-96h0m-3 12h0m-181 98h0m81-47h0m167-89h0m-13-41h0m-227 165h0m65-35h0m112-54h0m-104 48h0" stroke="#723611" stroke-width="6.6"/><path d="M783 827h0m-242 137h0m187-105h0m-133 75h0m169-108h0m-267 163h0m-5 2h0m-41 19h0m172-96h0m-3 12h0m-181 98h0m81-47h0m167-89h0m-13-41h0m-227 165h0m65-35h0m112-54h0m-104 48h0" stroke="#e3863d" stroke-width="3.0"/><path d="M503 931h0m54-33h0m-59 45h0m80-61h0m-145 95h0m134-89h0m-123 71h0" stroke="#3e1d0a" stroke-width="6.6"/><path d="M503 931h0m54-33h0m-59 45h0m80-61h0m-145 95h0m134-89h0m-123 71h0" stroke="#c76e2d" stroke-width="3.0"/><path d="M535 948h0m41-23h0m61-43h0m-193 109h0m154-93h0m-105 69h0m16-9h0m48-35h0m41-19h0m-69 36h0m-68 36h0m165-145h0m3 21h0" stroke="#50250c" stroke-width="6.6"/><path d="M535 948h0m41-23h0m61-43h0m-193 109h0m154-93h0m-105 69h0m16-9h0m48-35h0m41-19h0m-69 36h0m-68 36h0m165-145h0m3 21h0" stroke="#d17633" stroke-width="3.0"/><path d="M526 955h0m139-115h0m-9 11h0m-265 167h0m32-5h0m-8 0h0m194-94h0" stroke="#602e0e" stroke-width="6.6"/><path d="M526 955h0m139-115h0m-9 11h0m-265 167h0m32-5h0m-8 0h0m194-94h0" stroke="#da7e38" stroke-width="3.0"/><path d="M564 947h0m-74 46h0m5-9h0m120-54h0m-148 72h0m-13 4h0m179-92h0m56-52h0m-9-7h0m-152 121h0m-124 45h0m309-153h0m-308 170h0" stroke="#723611" stroke-width="6.6"/><path d="M564 947h0m-74 46h0m5-9h0m120-54h0m-148 72h0m-13 4h0m179-92h0m56-52h0m-9-7h0m-152 121h0m-124 45h0m309-153h0m-308 170h0" stroke="#e3863d" stroke-width="3.0"/><path d="M572 912h0m-57 27h0m29-28h0m40-18h0m-142 57h0m114-51h0m-10 15h0m-101 56h0m60-39h0m121-52h0" stroke="#3e1d0a" stroke-width="6.6"/><path d="M572 912h0m-57 27h0m29-28h0m40-18h0m-142 57h0m114-51h0m-10 15h0m-101 56h0m60-39h0m121-52h0" stroke="#c76e2d" stroke-width="3.0"/><path d="M464 983h0m184-129h0m-245 138h0m173-70h0m-79 40h0m69-32h0m-62 24h0m30-13h0m-30 21h0m142-101h0m-12 29h0" stroke="#50250c" stroke-width="6.6"/><path d="M464 983h0m184-129h0m-245 138h0m173-70h0m-79 40h0m69-32h0m-62 24h0m30-13h0m-30 21h0m142-101h0m-12 29h0" stroke="#d17633" stroke-width="3.0"/><path d="M649 866h0m-75 70h0m-159 76h0m243-178h0" stroke="#602e0e" stroke-width="6.6"/><path d="M649 866h0m-75 70h0m-159 76h0m243-178h0" stroke="#da7e38" stroke-width="3.0"/><path d="M708 855h0m-23-11h0m-265 173h0m227-111h0m44-88h0m-15 1h0m-191 179h0m95-56h0m-177 87h0m298-216h0m-33 70h0m-205 121h0m251-180h0m-273 192h0m277-188h0" stroke="#723611" stroke-width="6.6"/><path d="M708 855h0m-23-11h0m-265 173h0m227-111h0m44-88h0m-15 1h0m-191 179h0m95-56h0m-177 87h0m298-216h0m-33 70h0m-205 121h0m251-180h0m-273 192h0m277-188h0" stroke="#e3863d" stroke-width="3.0"/><path d="M602 888h0m-138 66h0m23-11h0m132-89h0m-121 84h0m-14-3h0m-15 31h0m61-45h0m-85 55h0m-4-6h0" stroke="#3e1d0a" stroke-width="6.6"/><path d="M602 888h0m-138 66h0m23-11h0m132-89h0m-121 84h0m-14-3h0m-15 31h0m61-45h0m-85 55h0m-4-6h0" stroke="#c76e2d" stroke-width="3.0"/><path d="M462 984h0m-75 13h0m136-50h0m-59 35h0m-56 22h0m-4-7h0m-5-14h0m36 12h0m102-56h0m-41 21h0" stroke="#50250c" stroke-width="6.6"/><path d="M462 984h0m-75 13h0m136-50h0m-59 35h0m-56 22h0m-4-7h0m-5-14h0m36 12h0m102-56h0m-41 21h0" stroke="#d17633" stroke-width="3.0"/><path d="M536 954h0m-102 54h0m219-151h0m-279 146h0m-20 8h0m265-99h0m18-9h0m-50 26h0m8-12h0" stroke="#602e0e" stroke-width="6.6"/><path d="M536 954h0m-102 54h0m219-151h0m-279 146h0m-20 8h0m265-99h0m18-9h0m-50 26h0m8-12h0" stroke="#da7e38" stroke-width="3.0"/><path d="M707 850h0m-102 75h0m43-14h0m53-65h0m-115 95h0m90-75h0m-48 47h0m78-56h0m-152 101h0m-82 42h0m190-127h0" stroke="#723611" stroke-width="6.6"/><path d="M707 850h0m-102 75h0m43-14h0m53-65h0m-115 95h0m90-75h0m-48 47h0m78-56h0m-152 101h0m-82 42h0m190-127h0" stroke="#e3863d" stroke-width="3.0"/><path d="M550 916h0m-1-3h0m44-26h0m-17-6h0m22 14h0m28-40h0m-193 129h0m76-54h0m57-35h0" stroke="#3e1d0a" stroke-width="6.6"/><path d="M550 916h0m-1-3h0m44-26h0m-17-6h0m22 14h0m28-40h0m-193 129h0m76-54h0m57-35h0" stroke="#c76e2d" stroke-width="3.0"/><path d="M644 861h0m-124 87h0m96-52h0m-129 72h0m32-23h0m117-64h0m-227 118h0m174-84h0m42-27h0m-157 92h0" stroke="#50250c" stroke-width="6.6"/><path d="M644 861h0m-124 87h0m96-52h0m-129 72h0m32-23h0m117-64h0m-227 118h0m174-84h0m42-27h0m-157 92h0" stroke="#d17633" stroke-width="3.0"/><path d="M435 1005h0m-64 1h0m16 9h0m175-80h0m52-20h0m-240 84h0m277-167h0m-130 131h0m-91 45h0" stroke="#602e0e" stroke-width="6.6"/><path d="M435 1005h0m-64 1h0m16 9h0m175-80h0m52-20h0m-240 84h0m277-167h0m-130 131h0m-91 45h0" stroke="#da7e38" stroke-width="3.0"/><path d="M493 989h0m187-125h0m85-37h0m-338 197h0m14-9h0m225-125h0m83-54h0m-99 55h0m-241 143h0m-1 1h0m254-137h0m169-99h0" stroke="#723611" stroke-width="6.6"/><path d="M493 989h0m187-125h0m85-37h0m-338 197h0m14-9h0m225-125h0m83-54h0m-99 55h0m-241 143h0m-1 1h0m254-137h0m169-99h0" stroke="#e3863d" stroke-width="3.0"/><path d="M521 933h0m-72 26h0m85-49h0m7 4h0m45-14h0m-53 28h0m-49 33h0m-5-10h0m48-21h0m-19 1h0m38-21h0m-51 24h0m38-20h0" stroke="#3e1d0a" stroke-width="6.6"/><path d="M521 933h0m-72 26h0m85-49h0m7 4h0m45-14h0m-53 28h0m-49 33h0m-5-10h0m48-21h0m-19 1h0m38-21h0m-51 24h0m38-20h0" stroke="#c76e2d" stroke-width="3.0"/><path d="M491 958h0m-17 14h0m-25 20h0m138-87h0m37-18h0m-171 93h0m153-87h0m-43 26h0m-159 76h0m229-113h0m-230 121h0" stroke="#50250c" stroke-width="6.6"/><path d="M491 958h0m-17 14h0m-25 20h0m138-87h0m37-18h0m-171 93h0m153-87h0m-43 26h0m-159 76h0m229-113h0m-230 121h0" stroke="#d17633" stroke-width="3.0"/><path d="M428 1004h0m208-104h0m34-59h0m-175 140h0m152-98h0m-9 5h0m19-29h0" stroke="#602e0e" stroke-width="6.6"/><path d="M428 1004h0m208-104h0m34-59h0m-175 140h0m152-98h0m-9 5h0m19-29h0" stroke="#da7e38" stroke-width="3.0"/><path d="M679 834h0m-52 88h0m104-78h0m-284 170h0m271-187h0m-150 120h0m169-95h0m-279 157h0m199-118h0" stroke="#723611" stroke-width="6.6"/><path d="M679 834h0m-52 88h0m104-78h0m-284 170h0m271-187h0m-150 120h0m169-95h0m-279 157h0m199-118h0" stroke="#e3863d" stroke-width="3.0"/><path d="M611 865h0m-78 40h0m-23 39h0m47-48h0m-77 61h0m62-45h0m50-17h0m-75 29h0m14 0h0" stroke="#3e1d0a" stroke-width="6.6"/><path d="M611 865h0m-78 40h0m-23 39h0m47-48h0m-77 61h0m62-45h0m50-17h0m-75 29h0m14 0h0" stroke="#c76e2d" stroke-width="3.0"/><path d="M644 859h0m-157 104h0m93-53h0m-8 18h0m37-23h0m-7 3h0m-47 22h0" stroke="#50250c" stroke-width="6.6"/><path d="M644 859h0m-157 104h0m93-53h0m-8 18h0m37-23h0m-7 3h0m-47 22h0" stroke="#d17633" stroke-width="3.0"/><path d="M451 997h0m-9 8h0m33-16h0m188-160h0m-10 19h0m13 12h0m-296 157h0m279-152h0m-83 74h0m87-110h0m-97 111h0m-180 65h0m83-4h0" stroke="#602e0e" stroke-width="6.6"/><path d="M451 997h0m-9 8h0m33-16h0m188-160h0m-10 19h0m13 12h0m-296 157h0m279-152h0m-83 74h0m87-110h0m-97 111h0m-180 65h0m83-4h0" stroke="#da7e38" stroke-width="3.0"/><path d="M637 905h0m134-72h0m-97 29h0m-31 45h0m-192 107h0m275-168h0m1-25h0m-24 54h0m-142 78h0m148-83h0m-25-8h0" stroke="#723611" stroke-width="6.6"/><path d="M637 905h0m134-72h0m-97 29h0m-31 45h0m-192 107h0m275-168h0m1-25h0m-24 54h0m-142 78h0m148-83h0m-25-8h0" stroke="#e3863d" stroke-width="3.0"/><path d="M463 965h0m-19 9h0m-25 4h0m203-110h0m-43 20h0m-80 57h0m67-52h0m-25 20h0m28-25h0m47-5h0m-164 78h0m11-12h0m70-30h0m-35 24h0m-37 4h0m18-3h0m-37 30h0" stroke="#3e1d0a" stroke-width="6.6"/><path d="M463 965h0m-19 9h0m-25 4h0m203-110h0m-43 20h0m-80 57h0m67-52h0m-25 20h0m28-25h0m47-5h0m-164 78h0m11-12h0m70-30h0m-35 24h0m-37 4h0m18-3h0m-37 30h0" stroke="#c76e2d" stroke-width="3.0"/><path d="M618 902h0m-202 100h0m190-102h0m-90 49h0m53-25h0m65-61h0" stroke="#50250c" stroke-width="6.6"/><path d="M618 902h0m-202 100h0m190-102h0m-90 49h0m53-25h0m65-61h0" stroke="#d17633" stroke-width="3.0"/><path d="M652 834h0m-99 113h0m-16 2h0m126-124h0m-17 60h0" stroke="#602e0e" stroke-width="6.6"/><path d="M652 834h0m-99 113h0m-16 2h0m126-124h0m-17 60h0" stroke="#da7e38" stroke-width="3.0"/><path d="M559 949h0m-72 43h0m200-127h0m-280 173h0m3-21h0m268-199h0m-195 173h0m170-94h0m-230 133h0m320-197h0m-219 142h0m146-83h0" stroke="#723611" stroke-width="6.6"/><path d="M559 949h0m-72 43h0m200-127h0m-280 173h0m3-21h0m268-199h0m-195 173h0m170-94h0m-230 133h0m320-197h0m-219 142h0m146-83h0" stroke="#e3863d" stroke-width="3.0"/><path d="M442 963h0m13 7h0m102-73h0m-10 13h0m21-20h0m-30 33h0m-79 52h0m133-75h0" stroke="#3e1d0a" stroke-width="6.6"/><path d="M442 963h0m13 7h0m102-73h0m-10 13h0m21-20h0m-30 33h0m-79 52h0m133-75h0" stroke="#c76e2d" stroke-width="3.0"/><path d="M609 900h0m-208 86h0m234-108h0m-241 118h0m44-3h0m93-58h0m13-1h0m89-65h0m-223 125h0m230-113h0" stroke="#50250c" stroke-width="6.6"/><path d="M609 900h0m-208 86h0m234-108h0m-241 118h0m44-3h0m93-58h0m13-1h0m89-65h0m-223 125h0m230-113h0" stroke="#d17633" stroke-width="3.0"/><path d="M428 1005h0m224-132h0m-282 145h0m-11-8h0m225-82h0m-68 37h0m147-122h0m-29 59h0m-96 48h0m-82 47h0" stroke="#602e0e" stroke-width="6.6"/><path d="M428 1005h0m224-132h0m-282 145h0m-11-8h0m225-82h0m-68 37h0m147-122h0m-29 59h0m-96 48h0m-82 47h0" stroke="#da7e38" stroke-width="3.0"/><path d="M707 841h0m-139 110h0m235-190h0m-279 210h0m237-151h0m-226 143h0m124-82h0m78-46h0m-42-11h0m-210 165h0m178-120h0m39-32h0" stroke="#723611" stroke-width="6.6"/><path d="M707 841h0m-139 110h0m235-190h0m-279 210h0m237-151h0m-226 143h0m124-82h0m78-46h0m-42-11h0m-210 165h0m178-120h0m39-32h0" stroke="#e3863d" stroke-width="3.0"/><path d="M545 926h0m-102 55h0m75-47h0m12-13h0m4-13h0m-48 49h0m-44 15h0m-9 9h0" stroke="#3e1d0a" stroke-width="6.6"/><path d="M545 926h0m-102 55h0m75-47h0m12-13h0m4-13h0m-48 49h0m-44 15h0m-9 9h0" stroke="#c76e2d" stroke-width="3.0"/><path d="M537 940h0m21-9h0m11-12h0m-78 52h0m108-58h0m-215 80h0m223-95h0m-85 42h0" stroke="#50250c" stroke-width="6.6"/><path d="M537 940h0m21-9h0m11-12h0m-78 52h0m108-58h0m-215 80h0m223-95h0m-85 42h0" stroke="#d17633" stroke-width="3.0"/><path d="M412 1011h0m-34 1h0m285-176h0m-290 182h0m188-81h0m-193 67h0" stroke="#602e0e" stroke-width="6.6"/><path d="M412 1011h0m-34 1h0m285-176h0m-290 182h0m188-81h0m-193 67h0" stroke="#da7e38" stroke-width="3.0"/><path d="M591 931h0m105-109h0m-38 70h0m-169 105h0m204-122h0m19-37h0m-19 31h0m-88 63h0m88-62h0m-276 158h0m307-180h0m65-16h0m-258 131h0m-60 32h0m242-144h0m26-29h0m-222 156h0m-111 59h0" stroke="#723611" stroke-width="6.6"/><path d="M591 931h0m105-109h0m-38 70h0m-169 105h0m204-122h0m19-37h0m-19 31h0m-88 63h0m88-62h0m-276 158h0m307-180h0m65-16h0m-258 131h0m-60 32h0m242-144h0m26-29h0m-222 156h0m-111 59h0" stroke="#e3863d" stroke-width="3.0"/><path d="M471 948h0m111-55h0m-20 0h0m-36 37h0m-47 25h0m33-34h0m7-1h0m80-54h0m-90 78h0" stroke="#3e1d0a" stroke-width="6.6"/><path d="M471 948h0m111-55h0m-20 0h0m-36 37h0m-47 25h0m33-34h0m7-1h0m80-54h0m-90 78h0" stroke="#c76e2d" stroke-width="3.0"/><path d="M484 972h0m107-62h0m-199 91h0m253-141h0m-167 112h0m-76 21h0m142-65h0" stroke="#50250c" stroke-width="6.6"/><path d="M484 972h0m107-62h0m-199 91h0m253-141h0m-167 112h0m-76 21h0m142-65h0" stroke="#d17633" stroke-width="3.0"/><path d="M610 917h0m39-47h0m-218 133h0m-57 6h0m279-154h0" stroke="#602e0e" stroke-width="6.6"/><path d="M610 917h0m39-47h0m-218 133h0m-57 6h0m279-154h0" stroke="#da7e38" stroke-width="3.0"/><path d="M417 1036h0m265-207h0m8 14h0m-34 56h0m83-71h0m-98 79h0m24-8h0m-55 27h0m97-85h0m-294 186h0m161-77h0m21-22h0m122-80h0m-45 6h0m-232 167h0m228-163h0m39-40h0m-199 163h0m209-128h0" stroke="#723611" stroke-width="6.6"/><path d="M417 1036h0m265-207h0m8 14h0m-34 56h0m83-71h0m-98 79h0m24-8h0m-55 27h0m97-85h0m-294 186h0m161-77h0m21-22h0m122-80h0m-45 6h0m-232 167h0m228-163h0m39-40h0m-199 163h0m209-128h0" stroke="#e3863d" stroke-width="3.0"/><path d="M553 913h0m-14 1h0m24-30h0m-151 96h0m43-22h0m164-97h0m-143 93h0m14-10h0m28-29h0" stroke="#3e1d0a" stroke-width="6.6"/><path d="M553 913h0m-14 1h0m24-30h0m-151 96h0m43-22h0m164-97h0m-143 93h0m14-10h0m28-29h0" stroke="#c76e2d" stroke-width="3.0"/><path d="M423 995h0m154-78h0m-119 74h0m-70 6h0m159-61h0" stroke="#50250c" stroke-width="6.6"/><path d="M423 995h0m154-78h0m-119 74h0m-70 6h0m159-61h0" stroke="#d17633" stroke-width="3.0"/><path d="M483 987h0m15-8h0m-28 13h0m170-101h0m11-41h0m-101 97h0" stroke="#602e0e" stroke-width="6.6"/><path d="M483 987h0m15-8h0m-28 13h0m170-101h0m11-41h0m-101 97h0" stroke="#da7e38" stroke-width="3.0"/><path d="M740 846h0m-305 166h0m251-184h0m20-3h0m42 9h0m-63 44h0m-196 112h0m247-154h0m-203 136h0m231-137h0m-37 24h0m-136 85h0m90-121h0m14 40h0m-132 88h0m132-110h0m-75 82h0m-41 21h0m91-127h0m72 40h0" stroke="#723611" stroke-width="6.6"/><path d="M740 846h0m-305 166h0m251-184h0m20-3h0m42 9h0m-63 44h0m-196 112h0m247-154h0m-203 136h0m231-137h0m-37 24h0m-136 85h0m90-121h0m14 40h0m-132 88h0m132-110h0m-75 82h0m-41 21h0m91-127h0m72 40h0" stroke="#e3863d" stroke-width="3.0"/><path d="M451 963h0m172-104h0m-77 50h0m-43 37h0m-13 5h0m58-33h0m31-15h0m-44 4h0m-19 10h0m-45 42h0m89-54h0" stroke="#3e1d0a" stroke-width="6.6"/><path d="M451 963h0m172-104h0m-77 50h0m-43 37h0m-13 5h0m58-33h0m31-15h0m-44 4h0m-19 10h0m-45 42h0m89-54h0" stroke="#c76e2d" stroke-width="3.0"/><path d="M576 912h0m-86 52h0m-8 1h0m14-7h0m-100 27h0m213-90h0m-82 51h0m-57 32h0m163-115h0" stroke="#50250c" stroke-width="6.6"/><path d="M576 912h0m-86 52h0m-8 1h0m14-7h0m-100 27h0m213-90h0m-82 51h0m-57 32h0m163-115h0" stroke="#d17633" stroke-width="3.0"/><path d="M372 1007h0m237-88h0m47-50h0m-65 54h0m-117 67h0m189-151h0m-237 170h0" stroke="#602e0e" stroke-width="6.6"/><path d="M372 1007h0m237-88h0m47-50h0m-65 54h0m-117 67h0m189-151h0m-237 170h0" stroke="#da7e38" stroke-width="3.0"/><path d="M700 860h0m62-27h0m-137 93h0m13-13h0m-184 98h0m486-267h0m-526 282h0m261-206h0m69 20h0m-183 117h0m-90 44h0m149-76h0m132-85h0" stroke="#723611" stroke-width="6.6"/><path d="M700 860h0m62-27h0m-137 93h0m13-13h0m-184 98h0m486-267h0m-526 282h0m261-206h0m69 20h0m-183 117h0m-90 44h0m149-76h0m132-85h0" stroke="#e3863d" stroke-width="3.0"/><path d="M539 901h0m34 3h0m-92 57h0m28-41h0m-10 13h0m-24 28h0m46-35h0m73-29h0m-115 40h0m9-27h0m85-16h0" stroke="#3e1d0a" stroke-width="6.6"/><path d="M539 901h0m34 3h0m-92 57h0m28-41h0m-10 13h0m-24 28h0m46-35h0m73-29h0m-115 40h0m9-27h0m85-16h0" stroke="#c76e2d" stroke-width="3.0"/><path d="M575 911h0m17 2h0m-11 1h0" stroke="#50250c" stroke-width="6.6"/><path d="M575 911h0m17 2h0m-11 1h0" stroke="#d17633" stroke-width="3.0"/><path d="M424 1012h0m-10 3h0m194-105h0m-15 17h0m-191 85h0m164-79h0m7 0h0m-13 13h0" stroke="#602e0e" stroke-width="6.6"/><path d="M424 1012h0m-10 3h0m194-105h0m-15 17h0m-191 85h0m164-79h0m7 0h0m-13 13h0" stroke="#da7e38" stroke-width="3.0"/><path d="M556 956h0m133-100h0m-86 74h0m191-179h0m-36 83h0m-18-11h0m-273 176h0m246-154h0m-39 19h0m-30 50h0m27-87h0m40 6h0m6 31h0m3-38h0m-311 193h0m287-184h0m-275 179h0m146-66h0" stroke="#723611" stroke-width="6.6"/><path d="M556 956h0m133-100h0m-86 74h0m191-179h0m-36 83h0m-18-11h0m-273 176h0m246-154h0m-39 19h0m-30 50h0m27-87h0m40 6h0m6 31h0m3-38h0m-311 193h0m287-184h0m-275 179h0m146-66h0" stroke="#e3863d" stroke-width="3.0"/><path d="M542 903h0m-4 20h0m-106 44h0m123-61h0m-84 43h0m-57 26h0m75-44h0m78-32h0m11 4h0m-38 15h0m86-43h0m-97 57h0m44-42h0m-129 94h0" stroke="#3e1d0a" stroke-width="6.6"/><path d="M542 903h0m-4 20h0m-106 44h0m123-61h0m-84 43h0m-57 26h0m75-44h0m78-32h0m11 4h0m-38 15h0m86-43h0m-97 57h0m44-42h0m-129 94h0" stroke="#c76e2d" stroke-width="3.0"/><path d="M577 919h0m-149 75h0m200-110h0m-162 97h0m113-66h0m-149 85h0m140-85h0" stroke="#50250c" stroke-width="6.6"/><path d="M577 919h0m-149 75h0m200-110h0m-162 97h0m113-66h0m-149 85h0m140-85h0" stroke="#d17633" stroke-width="3.0"/><path d="M670 838h0m-105 102h0m-134 64h0m222-139h0m6-26h0m-271 164h0m74-8h0m45-19h0m-117 36h0m268-157h0m-276 159h0" stroke="#602e0e" stroke-width="6.6"/><path d="M670 838h0m-105 102h0m-134 64h0m222-139h0m6-26h0m-271 164h0m74-8h0m45-19h0m-117 36h0m268-157h0m-276 159h0" stroke="#da7e38" stroke-width="3.0"/><path d="M666 865h0m87-36h0m-72-1h0m18 7h0m-60 78h0m96-85h0m-322 207h0m134-74h0" stroke="#723611" stroke-width="6.6"/><path d="M666 865h0m87-36h0m-72-1h0m18 7h0m-60 78h0m96-85h0m-322 207h0m134-74h0" stroke="#e3863d" stroke-width="3.0"/><path d="M574 898h0m43-15h0m-2-8h0m-77 34h0m-111 69h0m12-4h0m-15 2h0m79-76h0" stroke="#3e1d0a" stroke-width="6.6"/><path d="M574 898h0m43-15h0m-2-8h0m-77 34h0m-111 69h0m12-4h0m-15 2h0m79-76h0" stroke="#c76e2d" stroke-width="3.0"/><path d="M486 974h0m44-34h0m65-40h0m-144 91h0m-50-3h0m-8 7h0" stroke="#50250c" stroke-width="6.6"/><path d="M486 974h0m44-34h0m65-40h0m-144 91h0m-50-3h0m-8 7h0" stroke="#d17633" stroke-width="3.0"/><path d="M424 1011h0m119-65h0m12 2h0m10-12h0m-31 23h0m51-32h0m-82 46h0" stroke="#602e0e" stroke-width="6.6"/><path d="M424 1011h0m119-65h0m12 2h0m10-12h0m-31 23h0m51-32h0m-82 46h0" stroke="#da7e38" stroke-width="3.0"/><path d="M651 908h0m11-27h0m11 1h0m-241 139h0m43-22h0m-18 9h0m191-97h0m96-66h0m-60 20h0m-40 48h0m83-73h0m-162 110h0m-78 44h0m163-92h0m-120 65h0m32-11h0m7-13h0m164-80h0m-151 84h0" stroke="#723611" stroke-width="6.6"/><path d="M651 908h0m11-27h0m11 1h0m-241 139h0m43-22h0m-18 9h0m191-97h0m96-66h0m-60 20h0m-40 48h0m83-73h0m-162 110h0m-78 44h0m163-92h0m-120 65h0m32-11h0m7-13h0m164-80h0m-151 84h0" stroke="#e3863d" stroke-width="3.0"/><path d="M467 966h0m129-74h0m18-8h0m-11-19h0m14 18h0m10-22h0m-177 98h0m21 10h0m59-34h0m-52 25h0" stroke="#3e1d0a" stroke-width="6.6"/><path d="M467 966h0m129-74h0m18-8h0m-11-19h0m14 18h0m10-22h0m-177 98h0m21 10h0m59-34h0m-52 25h0" stroke="#c76e2d" stroke-width="3.0"/><path d="M483 971h0m44-25h0m-20 12h0m125-77h0" stroke="#50250c" stroke-width="6.6"/><path d="M483 971h0m44-25h0m-20 12h0m125-77h0" stroke="#d17633" stroke-width="3.0"/><path d="M513 971h0m26-16h0m9-8h0m110-80h0m-160 113h0m-103 34h0m22-4h0m241-161h0m-153 117h0m-131 44h0m197-77h0m-85 45h0m-26 17h0m-73 21h0m164-71h0" stroke="#602e0e" stroke-width="6.6"/><path d="M513 971h0m26-16h0m9-8h0m110-80h0m-160 113h0m-103 34h0m22-4h0m241-161h0m-153 117h0m-131 44h0m197-77h0m-85 45h0m-26 17h0m-73 21h0m164-71h0" stroke="#da7e38" stroke-width="3.0"/><path d="M410 1022h0m205-97h0m-197 98h0m213-111h0m-228 131h0m369-268h0m-120 136h0m11-35h0m-194 132h0m201-156h0m-14 37h0" stroke="#723611" stroke-width="6.6"/><path d="M410 1022h0m205-97h0m-197 98h0m213-111h0m-228 131h0m369-268h0m-120 136h0m11-35h0m-194 132h0m201-156h0m-14 37h0" stroke="#e3863d" stroke-width="3.0"/><path d="M515 943h0m-38 9h0m118-66h0m-156 96h0m12-28h0m33-17h0m99-53h0m-136 91h0m163-96h0" stroke="#3e1d0a" stroke-width="6.6"/><path d="M515 943h0m-38 9h0m118-66h0m-156 96h0m12-28h0m33-17h0m99-53h0m-136 91h0m163-96h0" stroke="#c76e2d" stroke-width="3.0"/><path d="M515 953h0m-102 37h0m180-78h0m42-37h0m-82 55h0m91-69h0m-208 135h0m164-87h0m42-47h0m-131 90h0" stroke="#50250c" stroke-width="6.6"/><path d="M515 953h0m-102 37h0m180-78h0m42-37h0m-82 55h0m91-69h0m-208 135h0m164-87h0m42-47h0m-131 90h0" stroke="#d17633" stroke-width="3.0"/><path d="M572 934h0m-93 49h0m47-24h0m43-19h0m5-2h0" stroke="#602e0e" stroke-width="6.6"/><path d="M572 934h0m-93 49h0m47-24h0m43-19h0m5-2h0" stroke="#da7e38" stroke-width="3.0"/><path d="M738 844h0m-293 174h0m71-45h0m169-127h0m-146 122h0m-129 60h0m279-187h0m-42 64h0m-224 125h0m-18 4h0m206-106h0m-194 104h0m167-90h0m93-101h0m-270 183h0m258-135h0" stroke="#723611" stroke-width="6.6"/><path d="M738 844h0m-293 174h0m71-45h0m169-127h0m-146 122h0m-129 60h0m279-187h0m-42 64h0m-224 125h0m-18 4h0m206-106h0m-194 104h0m167-90h0m93-101h0m-270 183h0m258-135h0" stroke="#e3863d" stroke-width="3.0"/><path d="M607 878h0m-83 33h0m95-35h0m-80 47h0m47-44h0m-64 32h0m3 26h0m-106 44h0m200-116h0m-24 25h0" stroke="#3e1d0a" stroke-width="6.6"/><path d="M607 878h0m-83 33h0m95-35h0m-80 47h0m47-44h0m-64 32h0m3 26h0m-106 44h0m200-116h0m-24 25h0" stroke="#c76e2d" stroke-width="3.0"/><path d="M513 949h0m38-19h0m-30 20h0m-54 34h0m37-24h0m36-25h0m-140 56h0m179-78h0m-50 25h0m-26 15h0" stroke="#50250c" stroke-width="6.6"/><path d="M513 949h0m38-19h0m-30 20h0m-54 34h0m37-24h0m36-25h0m-140 56h0m179-78h0m-50 25h0m-26 15h0" stroke="#d17633" stroke-width="3.0"/><path d="M465 995h0m-23 11h0m75-46h0m98-51h0m-250 103h0" stroke="#602e0e" stroke-width="6.6"/><path d="M465 995h0m-23 11h0m75-46h0m98-51h0m-250 103h0" stroke="#da7e38" stroke-width="3.0"/><path d="M765 827h0m-360 210h0m420-241h0m-87 43h0m-380 183h0m275-109h0m124-70h0m-386 176h0m310-157h0m-30 31h0m-26 30h0m72-51h0m-25 22h0m-198 108h0m291-165h0" stroke="#723611" stroke-width="6.6"/><path d="M765 827h0m-360 210h0m420-241h0m-87 43h0m-380 183h0m275-109h0m124-70h0m-386 176h0m310-157h0m-30 31h0m-26 30h0m72-51h0m-25 22h0m-198 108h0m291-165h0" stroke="#e3863d" stroke-width="3.0"/><path d="M601 870h0m-120 78h0m61-21h0m-85 39h0m164-98h0m-106 47h0m16-7h0m-30 28h0m-31 13h0" stroke="#3e1d0a" stroke-width="6.6"/><path d="M601 870h0m-120 78h0m61-21h0m-85 39h0m164-98h0m-106 47h0m16-7h0m-30 28h0m-31 13h0" stroke="#c76e2d" stroke-width="3.0"/><path d="M598 912h0m-205 92h0m33-8h0m-17 3h0m115-46h0m107-93h0m-244 130h0m90-17h0" stroke="#50250c" stroke-width="6.6"/><path d="M598 912h0m-205 92h0m33-8h0m-17 3h0m115-46h0m107-93h0m-244 130h0m90-17h0" stroke="#d17633" stroke-width="3.0"/><path d="M452 1005h0m126-70h0m-132 71h0m38-24h0m81-47h0m-184 69h0m236-94h0m-154 89h0" stroke="#602e0e" stroke-width="6.6"/><path d="M452 1005h0m126-70h0m-132 71h0m38-24h0m81-47h0m-184 69h0m236-94h0m-154 89h0" stroke="#da7e38" stroke-width="3.0"/><path d="M504 985h0m237-151h0m-55 41h0m-43 30h0m25-42h0m52-25h0m-211 150h0m1-6h0m190-163h0m-67 96h0m42-47h0m-3 23h0m-1-73h0m24 26h0m-93 86h0" stroke="#723611" stroke-width="6.6"/><path d="M504 985h0m237-151h0m-55 41h0m-43 30h0m25-42h0m52-25h0m-211 150h0m1-6h0m190-163h0m-67 96h0m42-47h0m-3 23h0m-1-73h0m24 26h0m-93 86h0" stroke="#e3863d" stroke-width="3.0"/><path d="M562 894h0m-86 69h0m106-80h0m-153 94h0m89-46h0m94-42h0m-29 2h0m-73 44h0m42-24h0m-65 31h0m-23 14h0" stroke="#3e1d0a" stroke-width="6.6"/><path d="M562 894h0m-86 69h0m106-80h0m-153 94h0m89-46h0m94-42h0m-29 2h0m-73 44h0m42-24h0m-65 31h0m-23 14h0" stroke="#c76e2d" stroke-width="3.0"/><path d="M579 916h0m58-68h0m-51 58h0m5 11h0m47-32h0m-234 114h0m241-129h0m-72 44h0m-5 13h0" stroke="#50250c" stroke-width="6.6"/><path d="M579 916h0m58-68h0m-51 58h0m5 11h0m47-32h0m-234 114h0m241-129h0m-72 44h0m-5 13h0" stroke="#d17633" stroke-width="3.0"/><path d="M576 931h0m-32 23h0m-84 47h0m-78 7h0m259-114h0m-124 73h0m-82 40h0" stroke="#602e0e" stroke-width="6.6"/><path d="M576 931h0m-32 23h0m-84 47h0m-78 7h0m259-114h0m-124 73h0m-82 40h0" stroke="#da7e38" stroke-width="3.0"/><path d="M727 822h0m-295 199h0m90-52h0m143-154h0m48 42h0m-23 12h0m-163 106h0m-36 13h0m224-137h0m-36-1h0m-21 51h0m22-82h0m-78 118h0" stroke="#723611" stroke-width="6.6"/><path d="M727 822h0m-295 199h0m90-52h0m143-154h0m48 42h0m-23 12h0m-163 106h0m-36 13h0m224-137h0m-36-1h0m-21 51h0m22-82h0m-78 118h0" stroke="#e3863d" stroke-width="3.0"/><path d="M565 901h0m-1 9h0m58-58h0m-2 16h0m-10 18h0m-137 54h0m45-25h0m60-16h0" stroke="#3e1d0a" stroke-width="6.6"/><path d="M565 901h0m-1 9h0m58-58h0m-2 16h0m-10 18h0m-137 54h0m45-25h0m60-16h0" stroke="#c76e2d" stroke-width="3.0"/><path d="M553 935h0m-111 55h0m39-22h0m-29 21h0m80-45h0m-5 4h0m-4 6h0m-3-1h0m-99 45h0" stroke="#50250c" stroke-width="6.6"/><path d="M553 935h0m-111 55h0m39-22h0m-29 21h0m80-45h0m-5 4h0m-4 6h0m-3-1h0m-99 45h0" stroke="#d17633" stroke-width="3.0"/><path d="M621 908h0m-72 41h0m113-107h0m-166 135h0m-121 21h0m84 3h0m-30 1h0" stroke="#602e0e" stroke-width="6.6"/><path d="M621 908h0m-72 41h0m113-107h0m-166 135h0m-121 21h0m84 3h0m-30 1h0" stroke="#da7e38" stroke-width="3.0"/><path d="M579 937h0m-160 87h0m119-57h0m216-145h0m-56 10h0m182-56h0m-410 227h0m75-39h0m159-129h0m-26 21h0m-20 35h0m-190 110h0m-24 10h0m115-60h0m-14 15h0m-153 56h0" stroke="#723611" stroke-width="6.6"/><path d="M579 937h0m-160 87h0m119-57h0m216-145h0m-56 10h0m182-56h0m-410 227h0m75-39h0m159-129h0m-26 21h0m-20 35h0m-190 110h0m-24 10h0m115-60h0m-14 15h0m-153 56h0" stroke="#e3863d" stroke-width="3.0"/><path d="M589 873h0m-15 28h0m-6-15h0m23-8h0m-49 35h0m16-2h0m-25 9h0" stroke="#3e1d0a" stroke-width="6.6"/><path d="M589 873h0m-15 28h0m-6-15h0m23-8h0m-49 35h0m16-2h0m-25 9h0" stroke="#c76e2d" stroke-width="3.0"/><path d="M412 996h0m225-110h0m-48 28h0m-116 56h0m-81 23h0m247-125h0m-11-18h0m-89 83h0m94-86h0m-79 83h0m-97 61h0m88-60h0" stroke="#50250c" stroke-width="6.6"/><path d="M412 996h0m225-110h0m-48 28h0m-116 56h0m-81 23h0m247-125h0m-11-18h0m-89 83h0m94-86h0m-79 83h0m-97 61h0m88-60h0" stroke="#d17633" stroke-width="3.0"/><path d="M651 844h0m-114 110h0m-14 7h0" stroke="#602e0e" stroke-width="6.6"/><path d="M651 844h0m-114 110h0m-14 7h0" stroke="#da7e38" stroke-width="3.0"/><path d="M429 1015h0m271-158h0m15 15h0m-27-13h0m-122 90h0m25-12h0m99-96h0m-127 107h0m-36 27h0m152-112h0m-98 80h0m-100 56h0m242-135h0m-310 168h0m251-134h0m-97 50h0m-61 31h0m245-138h0" stroke="#723611" stroke-width="6.6"/><path d="M429 1015h0m271-158h0m15 15h0m-27-13h0m-122 90h0m25-12h0m99-96h0m-127 107h0m-36 27h0m152-112h0m-98 80h0m-100 56h0m242-135h0m-310 168h0m251-134h0m-97 50h0m-61 31h0m245-138h0" stroke="#e3863d" stroke-width="3.0"/><path d="M613 868h0m-120 81h0m-81 34h0m204-105h0" stroke="#3e1d0a" stroke-width="6.6"/><path d="M613 868h0m-120 81h0m-81 34h0m204-105h0" stroke="#c76e2d" stroke-width="3.0"/><path d="M566 920h0m29-10h0m-5-4h0" stroke="#50250c" stroke-width="6.6"/><path d="M566 920h0m29-10h0m-5-4h0" stroke="#d17633" stroke-width="3.0"/><path d="M375 1006h0m168-52h0" stroke="#602e0e" stroke-width="6.6"/><path d="M375 1006h0m168-52h0" stroke="#da7e38" stroke-width="3.0"/><path d="M658 880h0m24-8h0m-33 28h0m-233 123h0m93-48h0m55-19h0m-26 16h0m213-126h0" stroke="#723611" stroke-width="6.6"/><path d="M658 880h0m24-8h0m-33 28h0m-233 123h0m93-48h0m55-19h0m-26 16h0m213-126h0" stroke="#e3863d" stroke-width="3.0"/><path d="M571 868h0m-37 20h0m-153 77h0m113-79h0m-38 36h0m24-15h0m-2 7h0m149-83h0m-29 43h0m-17-37h0m-98 38h0m52-5h0m-74 50h0m-56 33h0m1 14h0m259-222h0m-223 189h0m124-93h0m18 7h0m164-127h0m-12-11h0m-134 130h0m-21-30h0m-203 153h0m230-128h0m-101 52h0m-26-7h0m-29 50h0m-47 32h0m-12-8h0m155-95h0m80-38h0m-58 19h0m-194 125h0m116-84h0m70-38h0m-148 85h0m190-93h0m-178 101h0m126-79h0m94-39h0m-115 81h0m25-40h0m-27-63h0m-84 103h0m124-33h0m-106 48h0m22-19h0m149-40h0m22-40h0m-174 90h0m156-111h0m-238 153h0m122-50h0m-39 12h0m258-176h0m-306 188h0m229-116h0m-169 94h0m117-156h0m12 106h0m-229 106h0m165-113h0m36-7h0m-192 107h0m65-33h0m115-55h0m-85 18h0m124-48h0m-18 8h0m-217 148h0m214-187h0m-203 159h0m195-123h0m-13 10h0m-93 65h0m42-13h0m88-50h0m-208 112h0m175-86h0m-31-22h0m-110 61h0m59-24h0m74-16h0m-3-3h0m-88 72h0m46-74h0m47-45h0m-148 129h0m102-81h0m-48 20h0m47-44h0m-40 16h0m-116 130h0m280-154h0m-186 87h0m-46 16h0m-22 12h0m80-37h0m57-78h0m-158 145h0m173-97h0m-4-8h0m67-58h0m-25 46h0m-158 82h0m16-17h0m20-4h0m170-85h0m-147 34h0m162-32h0m-202 115h0m-11-14h0m18-20h0m161-110h0m-26 53h0m-158 74h0m80-82h0m248-167h0m-248 193h0m90-53h0m-58-75h0m-28 111h0m-12 10h0m-83 88h0m49-39h0m90-86h0m-123 111h0m-21-6h0m-7-13h0m16 18h0m31-16h0m-23-20h0m46-13h0m37 21h0m132-103h0m-170 94h0m150-77h0m-112 68h0m-107 41h0m196-131h0m-33 34h0m-191 115h0m80-47h0m12-27h0m88-16h0m-158 82h0m141-117h0m-119 93h0m-48 44h0m103-100h0m-2 25h0m126-90h0m-95 60h0m-22 42h0m52-24h0m-104 63h0m114-107h0m-70 63h0m137-120h0m-150 147h0m8-33h0m127-45h0m-119 41h0m-118 12h0m205-26h0m98-62h0m-139 74h0m52-55h0m-32 12h0m98-34h0m-82 56h0m-141 86h0m6 9h0m103-94h0m-103 56h0m-19 7h0m117-208h0m102 98h0m-107 37h0m-8 13h0m74-91h0m-218 213h0m250-181h0m-85 56h0m-7 18h0m-85 37h0m47-8h0m-21-24h0m-70 52h0m334-254h0m-168 144h0m-170 142h0m169-129h0m-101 56h0m98-46h0m-41 21h0m-150 86h0m342-226h0m-277 188h0m-64 51h0m218-186h0m-106 31h0m25 106h0m27-36h0m4-7h0m36-70h0m32 2h0m4-33h0m-150 144h0m-26-15h0m193-96h0m-176 114h0m123-79h0m-66 42h0m30-29h0m-53 57h0m-76 8h0m-27 23h0m155-94h0m-111 44h0m102-20h0m68-53h0m-94 42h0m63-5h0m-60 15h0m-82 51h0m132-106h0m20 20h0m-46 28h0m-85 61h0m-2-6h0m151-93h0m-143 103h0m22-34h0m128-74h0m-85 37h0m-85 47h0m-26 60h0m-23-18h0m240-126h0m10-66h0m-174 135h0m131-56h0m-148 89h0m14-10h0m-20-14h0m7 11h0m70-61h0m-30 38h0m221-138h0m-204 135h0m-11 5h0m27-1h0m88-72h0m27-14h0m-185 130h0m59-63h0m22-34h0m-39 47h0m82-31h0m-183 119h0m179-124h0m-67 11h0m84-10h0m-162 74h0m9 10h0m137-90h0m-113 74h0m134-98h0m-92 23h0m80-26h0m10 22h0m-108 38h0m-81 54h0m95-32h0m-27 15h0m53-48h0m5-18h0m-55 62h0m82-61h0m-50 22h0m-36 34h0m94-56h0m-32 10h0m14-1h0m1-19h0m-60 30h0m136-58h0m-159 93h0m148-70h0m-155 68h0m54-4h0m-59 13h0m47-45h0m-41 55h0m94-53h0m16-8h0m-60 34h0m91-78h0m-6-7h0m-4 46h0m-54 16h0m47-20h0m30-31h0m-238 146h0m193-107h0m-55 19h0m77-45h0m-153 96h0m311-207h0m-323 206h0m141-181h0m-27 83h0m-32 19h0m-113 90h0m174-90h0m18-26h0m-40 28h0m-111 77h0m34-48h0m-15 54h0m15-53h0m150-63h0m-69 46h0m-159 99h0m261-198h0m-32 63h0m-66 7h0m32 22h0m20-26h0m-51 13h0m-37 17h0m10 4h0m115-56h0m-137 81h0m23-40h0m-82 54h0m85-37h0m-147 99h0m92-52h0m-18-16h0m201-103h0m-264 156h0m171-99h0m72-33h0m-152 55h0m-89 64h0m56-52h0m126-64h0m-137 35h0m22 57h0m178-204h0m-163 191h0m-4-23h0m-76 63h0m170-98h0m-21 1h0m-121 69h0m108-68h0m-73 57h0m75-32h0m22-19h0m-134 73h0m17-23h0m190-79h0m-232 124h0m222-125h0m-132 37h0m144-49h0m-205 119h0m40-26h0m59-7h0m33-5h0m3-25h0m-67 15h0m37-10h0m-65 23h0m195-84h0m-28 5h0m-109 67h0m68-59h0m94-48h0m-204 94h0m41-6h0m38-11h0m51-58h0m20 35h0m-57 16h0m-177 111h0m77-65h0m55-30h0m-143 53h0m100-5h0m-109 72h0m28-40h0m56-33h0m38-17h0m-64 13h0m126-44h0m-121 77h0m-5-22h0m102-41h0m-94 34h0m-49 51h0m-33-15h0m192-88h0m-36 42h0m68-105h0m8-16h0m-3 63h0m-18-16h0m-98 75h0m126-81h0m-124 62h0m131-112h0m-215 184h0m26-18h0m-38 15h0m148-100h0m-115 97h0m26-10h0m14-18h0m194-111h0m-135 44h0m21 19h0m90-48h0m-152 85h0m5 5h0m-27 21h0m170-111h0m-25 8h0m-6 15h0m-172 85h0m276-171h0m-223 127h0m55-20h0m-47 52h0m118-110h0m-165 103h0m6 10h0m219-126h0m-23 21h0m-87 18h0m-89 87h0m123-124h0m-50 57h0m17 11h0m37-23h0m-173 103h0m134-73h0m1-6h0m-79 31h0m164-122h0m-118 120h0m28-49h0m-165 109h0m227-109h0m-226 133h0m206-172h0m13 19h0m-55 42h0m-61 61h0m-66-2h0m98-29h0m-41-9h0m-52 43h0m-6 2h0m59-63h0m31 21h0m-124 74h0m215-140h0m-141 93h0m238-150h0m-244 181h0m-49 0h0m155-80h0m60-41h0m63-50h0m-182 59h0m-79 82h0m-11 9h0m123-47h0m52-40h0m-2-13h0m11-9h0m-179 142h0m228-149h0m-253 137h0m154-79h0m-50 19h0m29-54h0m-62 93h0m176-157h0m-82 76h0m-132 81h0m220-122h0m-94-30h0m-98 139h0m130-94h0m58-5h0m-228 115h0m16 35h0m-5-24h0m126-104h0m169-95h0m-259 197h0m-16-19h0m81-76h0m8 22h0m-130 75h0m148-98h0m108-40h0m-269 168h0m231-151h0m-39-1h0m-4 11h0m6-4h0m-98 46h0m-105 98h0m356-280h0m-348 266h0m39-28h0m109-56h0m43-26h0m-55 43h0m-15 9h0m9-6h0m22-16h0m-14-24h0m-93 64h0m56-48h0m-105 105h0m24-35h0m135-39h0m-56-15h0m134-66h0m-46 14h0m-22 61h0m51-59h0m-113 40h0m-93 66h0m235-111h0m-183 91h0m134-53h0m-132 47h0m-13 19h0m-4-11h0m181-114h0m-138 110h0m273-210h0m-164 116h0m1 7h0m-98 90h0m157-114h0m-40 7h0m-77 55h0m-91 64h0m147-65h0m34-61h0m-200 111h0m72-36h0m20-31h0m-23 77h0m-49-15h0m200-145h0m-140 106h0m103-50h0m-95 53h0m-32 31h0m5-5h0m21-29h0m86-36h0m28-53h0m-101 111h0m-62 22h0m51-67h0m89-21h0m-124 53h0m59-11h0m-83 39h0m142-152h0m-99 110h0m72-33h0m210-137h0m-378 267h0m135-98h0m-71 56h0m134-87h0m-80 39h0m72-40h0m-127 74h0m45-15h0m106-57h0m-4 0h0m-41-10h0m-118 98h0m66-16h0m-84 6h0m133-47h0m11-10h0m-145 47h0m74-1h0m-34 33h0m52-67h0m88-32h0m-127-7h0m-33 74h0m100-40h0m19-27h0m-52 43h0m40-2h0m-30-2h0m96-80h0m-235 169h0m295-170h0m-168 106h0m-121 64h0m130-106h0m62-23h0m-38 30h0m-112 63h0m173-109h0m-39 26h0m85-27h0m8-13h0m-215 111h0m89-27h0m-75 30h0m221-157h0m-204 116h0m-91 91h0m162-110h0m-128 86h0m26-27h0m-31 10h0m235-116h0m-64-60h0m-71 118h0m71-122h0m-66 70h0m-136 152h0m117-72h0m8-15h0m-57 36h0m1-16h0m-34 49h0m153-110h0m-103 59h0m12 14h0m28-57h0m-14-26h0m18 37h0m-61 48h0m156-91h0m-47 24h0m-108 67h0m243-146h0m-105 81h0m-86 28h0m-95 53h0m283-184h0m-231 172h0m264-199h0m-299 221h0m124-100h0m105-52h0m-209 137h0m52-27h0m85-65h0m-105 69h0m-34 25h0m-29 13h0m181-156h0m-152 121h0m63-31h0m-54 18h0m123-48h0m43-18h0m45-24h0m-48 28h0m-149 58h0m-29 26h0m111-71h0m110-67h0m-93 59h0m-138 93h0m-23 35h0m137-107h0m111-49h0m11 0h0m-230 115h0m142-104h0m-134 80h0m145-68h0m-108 50h0m18-6h0m-60 54h0m147-94h0m-132 25h0m-59 87h0m241-134h0m-54-4h0m-41 65h0m4 25h0m-61-17h0m113-22h0m-197 79h0m56-41h0m39-27h0m-81 55h0m111-40h0m-142 75h0m66-67h0m185-80h0m-160 2h0m140 8h0m21-17h0m-108 42h0m5 39h0m-86 27h0m176-123h0m-174 133h0m-30-4h0m94-29h0m45-31h0m0-23h0m-10 13h0m-17 35h0m89-79h0m-65 52h0m-6 20h0m6-66h0m119-120h0m-9 137h0m-142 55h0m109-67h0m-69 29h0m35-53h0m-42 37h0m44-57h0m-149 138h0m153-125h0m53 21h0m-39 25h0m-216 124h0m41-63h0m189-58h0m-136 52h0m106-87h0m-78 86h0m134-117h0m-238 169h0m24-46h0m107-56h0m42 0h0m64-60h0m-143 81h0m-87 65h0m70-13h0m45-71h0m-78 55h0m60-35h0m-112 78h0m246-148h0m-112-24h0m-91 138h0m95-32h0m-79 36h0m-54 25h0m26-32h0m66-9h0m87-97h0m-78 59h0m-78 50h0m63-11h0m68-54h0m-13-6h0m18 17h0m74-49h0m-147 98h0m-118 58h0m174-93h0m-21 2h0m3-4h0m103-53h0m-173 88h0m58-62h0m59-40h0m-12 45h0m-32-75h0m-151 180h0m319-185h0m-261 167h0m-31-4h0m184-114h0m31 12h0m11-45h0m-40 74h0m-55-10h0m9 8h0m-16 6h0m-147 117h0m226-181h0m-132 143h0m-52-30h0m23-12h0m131-57h0m42-45h0m-172 138h0m75-57h0m-47 10h0m44-29h0m-25 39h0m83-62h0m40-17h0m-73 21h0m-162 127h0m228-230h0m-157 185h0m-20 2h0m132-78h0m-36 12h0m-21 21h0m-60 22h0m141-68h0m-158 107h0m107-132h0m-119 103h0m119-62h0m5-11h0m-159 93h0m215-140h0m-173 146h0m89-70h0m71 1h0m-45-16h0m-103 70h0m90-66h0m-85 42h0m19 18h0m95-145h0m-82 115h0m36-24h0m-120 98h0m210-120h0m-178 78h0m167-68h0m-28-11h0m-5 34h0m-32 3h0m80-39h0m-42-15h0m-171 134h0m144-150h0m-66 112h0m-12-21h0m145-85h0m-226 124h0m252-130h0m-229 129h0m191-100h0m-53 45h0m82-84h0m-180 118h0m-60 71h0m169-140h0m7 43h0m-84-10h0m-96 99h0m133-138h0m107-22h0m-171 95h0m137-51h0m-108 29h0m-43 50h0m147-91h0m-55 10h0m70-21h0m-211 115h0m199-137h0m-46 45h0m-14-19h0m112-14h0m-14 3h0m-81 32h0m-50 50h0m-21-26h0m114-55h0m58-17h0m-166 76h0m24-32h0m-122 100h0m156-91h0m30-1h0m-125 48h0m222-125h0m-32-32h0m-186 168h0m101-74h0m14 22h0m50-35h0m-39-21h0m-51 75h0m85-23h0m-22-40h0m-179 116h0m119-114h0m-45 49h0m188-74h0m-197 101h0m-63 52h0m238-151h0m-44 33h0m-177 103h0m155-94h0m18-39h0m-30 52h0m-28-21h0m49-4h0m41-41h0m-117 87h0m42-5h0m41-63h0m-152 105h0m55-35h0m103-47h0m17-28h0m-165 123h0m-74 34h0m152-126h0m-17 28h0m32-26h0m66-43h0m-162 100h0m40-8h0m95-83h0m-45 69h0m-52 8h0m156-73h0m-256 135h0m25-18h0m255-125h0m-166 71h0m-60 29h0m-6 1h0m7 28h0m-50 38h0m89-79h0m1-1h0m-11 26h0m152-90h0m8-9h0m-155 64h0m118-80h0m-208 164h0m47-28h0m88-75h0m9-11h0m82-56h0m-55 14h0m-84 122h0m55-88h0m119-32h0m-85 42h0m55-48h0m-133 98h0m69-58h0m-151 86h0m4 13h0m214-124h0m-174 92h0m285-227h0m-173 133h0m-39 36h0m62-21h0m-186 113h0m171-100h0m-26 29h0m-139 34h0m159-96h0m-138 134h0m187-121h0m-72 57h0m-4-24h0m64-4h0m-64-1h0m-23-106h0m-88 186h0m122-66h0m16-26h0m-147 111h0m301-227h0m-280 181h0m50-23h0m25-17h0m60-28h0m-80 47h0m106-38h0m-58 11h0m-75 41h0m64-35h0m-48 26h0m97-60h0m79-53h0m-63 43h0m26-3h0m-81 45h0m-87 42h0m173-86h0m-35-1h0m-121 83h0m-10 23h0m-53 9h0m144-79h0m-149 112h0m233-144h0m-190 119h0m94-91h0m-124 104h0m133-74h0m64-80h0m-172 99h0m-5 26h0m142-84h0m-193 129h0m4-15h0m22-30h0m101-45h0m39-50h0m-141 128h0m67-47h0m23-21h0m139-74h0m-41 17h0m-67-28h0m-83 126h0m309-226h0m-154 130h0m-143 70h0m-21 19h0m110-57h0m-29 19h0m-87 37h0m188-123h0m-203 153h0m231-178h0m-123 79h0m19 16h0m-39-4h0m103-9h0m-41-49h0m-16 75h0m-45 13h0m-17-1h0m125-61h0m-67 38h0m-119 66h0m226-125h0m-77 58h0m-22-36h0m-78 55h0m-36 19h0m12-8h0m-31 22h0m84-39h0m53-47h0m17-82h0m-140 199h0m120-184h0m42 92h0m-47-1h0m40-64h0m-99 103h0m0-27h0m110-108h0m-216 211h0m194-148h0m53-17h0m-202 112h0m194-97h0m-87 13h0m97-32h0m-221 118h0m101-59h0m-73 41h0m68 7h0m-75 19h0m62-67h0m-20 44h0m-15 12h0m-42 15h0m170-84h0m-35 11h0m57-23h0m-153 38h0m201-115h0m-84 83h0m-152 86h0m155-90h0m-9 21h0m-118 65h0m47-30h0m-46-6h0m125-36h0m-147 67h0m170-94h0m11 6h0m-202 129h0m239-159h0m-170 75h0m15 11h0m-5-26h0m100-24h0m19-25h0m-9 29h0m-65 29h0m-47 32h0m-53 9h0m116-103h0m59 1h0m6 7h0m-158 77h0m8-12h0m0 0h0m169-74h0m-60 37h0m92-95h0m-206 134h0m78-14h0m98-58h0m-237 96h0m204-116h0m-201 130h0m116-44h0m-103 45h0m176-75h0m-91 26h0m-39 42h0m101-93h0m-110 67h0m50 14h0m3-29h0m-111 82h0m38-63h0m146-81h0m-161 136h0m282-227h0m-168 114h0m185-103h0m-188 134h0m86-44h0m-189 130h0m19-21h0m-44 30h0m193-104h0m106-92h0m-289 183h0m11-30h0m271-153h0m-70 55h0m-121 68h0m43-112h0m19 65h0m-6 19h0m-22 29h0m-48-10h0m75-39h0m-19 2h0m-158 108h0m217-152h0m12-36h0m-76 75h0m46 16h0m-63 28h0m-101 40h0m142-66h0m73-127h0m-203 184h0m-39 24h0m85-51h0m86-56h0m114-69h0m-215 130h0m97-36h0m-170 90h0m44-4h0m73-52h0m-36 11h0m55-24h0m80-54h0m-139 106h0m148-126h0m-204 117h0m53-28h0m-50 40h0m165-62h0m7-25h0m-95 20h0m118-46h0m-129 66h0m-39 17h0m196-86h0m-114 34h0m213-132h0m-284 160h0m-27 68h0m207-164h0m-49 52h0m-3 18h0m-164 66h0m155-47h0m12-43h0m-52-15h0m-29 47h0m-98 70h0m110-43h0m130-103h0m-128 50h0m-65 80h0m52-42h0m69-22h0m76-64h0m-148 92h0m-113 57h0m187-95h0m0-7h0m71-30h0m-83 43h0m-103 49h0m105-46h0m-118 72h0m-17-6h0m227-113h0m-74 4h0m-102 71h0m34-30h0m-98 50h0m225-89h0m-118 30h0m-81 85h0m141-121h0m-62 72h0m59-39h0m-33-34h0m-75 94h0m32 43h0m-66-31h0m187-101h0m-177 82h0m103-6h0m11-17h0m-37-10h0m1 13h0m-69 18h0m7 29h0m17-35h0m116-47h0m5-30h0m-27 43h0m-47-3h0m209-137h0m-131 132h0m-113 71h0m11-64h0m17 21h0m-39 14h0m24-11h0m-34-2h0m105-84h0m-116 121h0m14-12h0m174-100h0m-195 115h0m50-43h0m8 18h0m-49 33h0m-22 21h0m-16-6h0m-4-12h0m149-80h0m95-43h0m-206 121h0m-62 19h0m181-79h0m-21 15h0m60-100h0m-218 177h0m248-149h0m-92 41h0m22 21h0m10-28h0m-85 21h0m207-142h0m-167 37h0m-8 127h0m55-71h0m47 24h0m-72-5h0m-103 70h0m-43 18h0m229-101h0m-209 116h0m-28 9h0m125-63h0m63-30h0m-155 72h0m102-37h0m54-61h0m-77 71h0m12-77h0m-42 71h0m60-34h0m-42 34h0m-124 82h0m175-133h0m-118 94h0m197-253h0m-219 261h0m153-109h0m-120 74h0m-26 41h0m217-131h0m-146-54h0m-10 148h0m221-167h0m-94 13h0m40 35h0m-257 167h0m156-116h0m-141 83h0m-27 44h0m38-40h0m-36 20h0m125-89h0m-90 72h0m139-151h0m-38 74h0m-80 75h0m-26 21h0m-11-17h0m98-44h0m-21-16h0m-55 80h0m178-121h0m-107 61h0m132-89h0m38-14h0m-235 123h0m-18 45h0m163-124h0m-49 18h0m219-127h0m-201 147h0m-22 7h0m-4-6h0m19-19h0m32 12h0m-90 29h0m235-151h0m-108 77h0m-79 59h0m-21-20h0m35 3h0m66-29h0m0-1h0m57-65h0m-100 67h0m-186 120h0m228-120h0m-90 41h0m-7 5h0m-62 39h0m3-22h0m154-69h0m-50 18h0m-61 35h0m-14 13h0m-13 13h0m88-34h0m-109 33h0m156-64h0m8-67h0m-178 133h0m-39 46h0m96-67h0m-9-42h0m-54 85h0m111-76h0m52-71h0m-75 87h0m-77 69h0m147-193h0m-6 98h0m-145 26h0m113-129h0m-143 210h0m72-53h0m0 9h0m-21-8h0m-70 71h0m216-147h0m-61 15h0m-13-2h0m-106 93h0m23 11h0m-30-11h0m102-52h0m-85 40h0m-8 3h0m74-40h0m105-68h0m107-71h0m-204 142h0m94-38h0m19-74h0m-152 138h0m42-5h0m-13 0h0m151-106h0m-245 133h0m121-67h0m-134 89h0m132-89h0m2 20h0m-10 4h0m58-46h0m34-2h0m-112 59h0m11-7h0m130-78h0m-104 54h0m-105 79h0m77-84h0m-81 18h0m29 35h0m187-113h0m-211 121h0m72-24h0m59-64h0m-17 38h0m43-42h0m46-6h0m-40 20h0m-179 88h0m77-58h0m-44 37h0m-3 12h0m176-80h0m-98-6h0m41 7h0m-40 41h0m28-18h0m85-26h0m-88 19h0m-133 96h0m80-77h0m124-34h0m-123 54h0m75-42h0m-77 31h0m-16-9h0m64-17h0m-49 19h0m-72 42h0m221-120h0m-65 47h0m-191 120h0m121-106h0m250-161h0m-135 137h0m-155 44h0m-8 22h0m99-101h0m88-8h0m-19 16h0m-178 100h0m210-103h0m-255 144h0m17-14h0m136-74h0m24-15h0m7-23h0m-69 31h0m-40 61h0m-38 15h0m8-34h0m11 15h0m144-71h0m-67 34h0m-142 62h0m201-152h0m-20 74h0m-81 32h0m-3-24h0m16-4h0m95-37h0m-158 82h0m45-4h0m179-99h0m-18-5h0m-125 68h0m118-89h0m-47 61h0m-96 54h0m47-54h0m1 14h0m-61 12h0m-76 56h0m24-17h0m134-47h0m-167 100h0m308-211h0m-180 122h0m2 1h0m46-29h0m89-55h0m-155 105h0m-3-36h0m-4 3h0m77-3h0m-129 51h0m35-14h0m52 0h0m-60 12h0m-79 36h0m110-63h0m-60 39h0m291-204h0m-194 118h0m-1 37h0m54-34h0m-80 8h0m117-78h0m-208 161h0m56-15h0m-22 12h0m52-58h0m121-71h0m-162 79h0m67-42h0m82-3h0m-121 51h0m40-20h0m-102 63h0m180-100h0m-107 42h0m110-74h0m-49 57h0m-63 9h0m-115 84h0m71-10h0m-22 5h0m3-7h0m119-71h0m-93 56h0m162-107h0m24-3h0m-145 97h0m138-99h0m-17 30h0m-17-16h0m-69 59h0m-93 68h0m52-80h0m-75 65h0m172-102h0m-202 132h0m256-146h0m-72 20h0m-193 133h0m87-64h0m-73 60h0m113-65h0m-131 54h0m193-90h0m25-24h0m-86 16h0m89-64h0m-72 30h0m-124 102h0m120-58h0m73-32h0m-166 88h0m-184 86h0m8 23h0m56-31h0m8 4h0m17-18h0m8 3h0m9-27h0" stroke="#000" stroke-width="6.2"/><path d="M909 839h0m-154 16h0m-71 77h0m33-36h0m153-84h0m-270 163h0m192-90h0m-68 48h0m11-67h0m142-54h0m-247 136h0m220-140h0m84 4h0m-210 148h0m-212 29h0m237 31h0m-108-59h0m156-67h0m-313 126h0m107-74h0m266-143h0m-311 198h0m414-192h0m-226 85h0m130-38h0m-56 22h0m-108 48h0m-159 69h0m74-44h0m133-78h0m-190 91h0m336-146h0m70-34h0m-4 2h0m-65 71h0m-29 12h0m3 6h0m-177 63h0m270-103h0m-310 94h0" stroke="#24500e" stroke-width="6.6"/><path d="M909 839h0m-154 16h0m-71 77h0m33-36h0m153-84h0m-270 163h0m192-90h0m-68 48h0m11-67h0m142-54h0m-247 136h0m220-140h0m84 4h0m-210 148h0m-212 29h0m237 31h0m-108-59h0m156-67h0m-313 126h0m107-74h0m266-143h0m-311 198h0m414-192h0m-226 85h0m130-38h0m-56 22h0m-108 48h0m-159 69h0m74-44h0m133-78h0m-190 91h0m336-146h0m70-34h0m-4 2h0m-65 71h0m-29 12h0m3 6h0m-177 63h0m270-103h0m-310 94h0" stroke="#8cd040" stroke-width="4.0"/><path d="M522 994h0m124-53h0m40-42h0m-204 105h0m161-39h0m165-106h0m-266 134h0m103-50h0m31-23h0m153-110h0m-33 80h0m-44-5h0m70 28h0m-216 50h0m40-24h0m251-109h0m-38-24h0m-3 38h0m-420 284h0m152-181h0m116 20h0m112-138h0m-278 171h0m-29-7h0m305-170h0m32 26h0m-53-18h0m-187 121h0m127-82h0m-58 54h0m153-51h0m108-84h0m-185 72h0m122-55h0m-11 9h0m83 2h0m-250 154h0m28-63h0m123-16h0m50-25h0" stroke="#24500e" stroke-width="6.6"/><path d="M522 994h0m124-53h0m40-42h0m-204 105h0m161-39h0m165-106h0m-266 134h0m103-50h0m31-23h0m153-110h0m-33 80h0m-44-5h0m70 28h0m-216 50h0m40-24h0m251-109h0m-38-24h0m-3 38h0m-420 284h0m152-181h0m116 20h0m112-138h0m-278 171h0m-29-7h0m305-170h0m32 26h0m-53-18h0m-187 121h0m127-82h0m-58 54h0m153-51h0m108-84h0m-185 72h0m122-55h0m-11 9h0m83 2h0m-250 154h0m28-63h0m123-16h0m50-25h0" stroke="#8cd040" stroke-width="4.0"/><path d="M920 796h0m-466 223h0m437-203h0m-212 136h0m28-47h0m-163 80h0m78-27h0m324-183h0m-308 179h0m-71 8h0m225-59h0m-63-25h0m167-64h0m-139 53h0m62 30h0m-283 91h0m175-88h0m181-83h0m-219 121h0m114-62h0m77-57h0m2-7h0m-170 91h0m125-64h0m-91 80h0m73-92h0m-190 135h0m51-48h0m161-56h0m-59 9h0m-28 50h0m-65-4h0m52 15h0m-74 19h0m71-66h0m95-18h0m-102 31h0m147-95h0m-143 102h0m180-90h0" stroke="#24500e" stroke-width="6.6"/><path d="M920 796h0m-466 223h0m437-203h0m-212 136h0m28-47h0m-163 80h0m78-27h0m324-183h0m-308 179h0m-71 8h0m225-59h0m-63-25h0m167-64h0m-139 53h0m62 30h0m-283 91h0m175-88h0m181-83h0m-219 121h0m114-62h0m77-57h0m2-7h0m-170 91h0m125-64h0m-91 80h0m73-92h0m-190 135h0m51-48h0m161-56h0m-59 9h0m-28 50h0m-65-4h0m52 15h0m-74 19h0m71-66h0m95-18h0m-102 31h0m147-95h0m-143 102h0m180-90h0" stroke="#8cd040" stroke-width="4.0"/><path d="M784 878h0m15-36h0m16 84h0m-97 8h0m174-108h0m-357 160h0m119-23h0m218-166h0m-200 170h0m193-134h0m23-31h0m-72 74h0m-147 77h0m88 15h0m-16-25h0m93-70h0m-297 124h0m378-209h0m-51 39h0m-141 83h0m124-96h0m-76 106h0m-93 1h0m173-35h0m-77 8h0m28-51h0m-306 159h0m450-230h0m-315 183h0m125-87h0m45-21h0m-6 37h0m-236 79h0m232-79h0m95-55h0m-405 215h0m81-59h0m107-50h0m161-50h0m-274 113h0" stroke="#24500e" stroke-width="6.6"/><path d="M784 878h0m15-36h0m16 84h0m-97 8h0m174-108h0m-357 160h0m119-23h0m218-166h0m-200 170h0m193-134h0m23-31h0m-72 74h0m-147 77h0m88 15h0m-16-25h0m93-70h0m-297 124h0m378-209h0m-51 39h0m-141 83h0m124-96h0m-76 106h0m-93 1h0m173-35h0m-77 8h0m28-51h0m-306 159h0m450-230h0m-315 183h0m125-87h0m45-21h0m-6 37h0m-236 79h0m232-79h0m95-55h0m-405 215h0m81-59h0m107-50h0m161-50h0m-274 113h0" stroke="#8cd040" stroke-width="4.0"/><path d="M919 816h0m-170 97h0m195-114h0m-114 148h0m-66-96h0m112-42h0m-386 260h0m401-239h0m-96 9h0m166-64h0m-59 57h0m-304 114h0m315-109h0m-161 87h0m141-106h0m-202 74h0m-82 81h0m126-76h0m132-71h0m-47 52h0m-1 1h0m-35-8h0m-254 133h0m209-142h0m-192 121h0m80-18h0m-147 44h0m-120 89h0m359-186h0m91-83h0m-310 171h0m364-147h0m-88 63h0m-226 68h0m312-29h0m-21-146h0m-79 54h0m144-63h0m-140 140h0m63-41h0" stroke="#24500e" stroke-width="6.6"/><path d="M919 816h0m-170 97h0m195-114h0m-114 148h0m-66-96h0m112-42h0m-386 260h0m401-239h0m-96 9h0m166-64h0m-59 57h0m-304 114h0m315-109h0m-161 87h0m141-106h0m-202 74h0m-82 81h0m126-76h0m132-71h0m-47 52h0m-1 1h0m-35-8h0m-254 133h0m209-142h0m-192 121h0m80-18h0m-147 44h0m-120 89h0m359-186h0m91-83h0m-310 171h0m364-147h0m-88 63h0m-226 68h0m312-29h0m-21-146h0m-79 54h0m144-63h0m-140 140h0m63-41h0" stroke="#8cd040" stroke-width="4.0"/><path d="M965 794h0m-429 198h0m391-176h0m18 8h0m-48 31h0m-159 57h0m-166 103h0m28-53h0m219-137h0m-3 20h0m-101 67h0m17-24h0m114-72h0m53 26h0m40-35h0m-158 82h0m-286 114h0m345-160h0m72 1h0m-230 94h0m247-123h0m-409 176h0m106-56h0m176-35h0m55-57h0m-153 53h0m-177 88h0m235-112h0m-191 98h0m266-154h0m34 17h0m-411 205h0m164-24h0m228-128h0m17-33h0m-13-22h0m-273 156h0m155-119h0m152-55h0m-94 50h0" stroke="#24500e" stroke-width="6.6"/><path d="M965 794h0m-429 198h0m391-176h0m18 8h0m-48 31h0m-159 57h0m-166 103h0m28-53h0m219-137h0m-3 20h0m-101 67h0m17-24h0m114-72h0m53 26h0m40-35h0m-158 82h0m-286 114h0m345-160h0m72 1h0m-230 94h0m247-123h0m-409 176h0m106-56h0m176-35h0m55-57h0m-153 53h0m-177 88h0m235-112h0m-191 98h0m266-154h0m34 17h0m-411 205h0m164-24h0m228-128h0m17-33h0m-13-22h0m-273 156h0m155-119h0m152-55h0m-94 50h0" stroke="#8cd040" stroke-width="4.0"/><path d="M815 823h0m140-35h0m-184 123h0m110-77h0m-17 11h0m-62-17h0m142-41h0m-234 91h0m68 8h0m165-68h0m-182 97h0m122-118h0m51 122h0m-393 68h0m250-82h0m-3-64h0m-87 76h0m-170 63h0m279-145h0m155-96h0m-476 266h0m457-131h0m-249 37h0m8-8h0m177-110h0m74-20h0m-358 201h0m-75 12h0m376-181h0m42 30h0m-87-29h0m-299 176h0m-22 18h0m321-129h0m57-70h0m-149 74h0m4 62h0m-224 49h0m245-141h0m137-8h0" stroke="#24500e" stroke-width="6.6"/><path d="M815 823h0m140-35h0m-184 123h0m110-77h0m-17 11h0m-62-17h0m142-41h0m-234 91h0m68 8h0m165-68h0m-182 97h0m122-118h0m51 122h0m-393 68h0m250-82h0m-3-64h0m-87 76h0m-170 63h0m279-145h0m155-96h0m-476 266h0m457-131h0m-249 37h0m8-8h0m177-110h0m74-20h0m-358 201h0m-75 12h0m376-181h0m42 30h0m-87-29h0m-299 176h0m-22 18h0m321-129h0m57-70h0m-149 74h0m4 62h0m-224 49h0m245-141h0m137-8h0" stroke="#8cd040" stroke-width="4.0"/><path d="M851 807h0m74 33h0m-141 19h0m-308 155h0m318-138h0m44-5h0m34-51h0m74 1h0m-249 105h0m-9 5h0m-130 47h0m38-28h0m182-50h0m68-63h0m-358 178h0m208-104h0m140-15h0m10-10h0m-63 36h0m-178 40h0m310-122h0m-286 130h0m179-63h0m-88-10h0m216-111h0m-179 82h0m-164 81h0m366-171h0m-237 135h0m184-122h0m-329 177h0m-102 41h0m176-64h0m205-133h0m-330 175h0m365-186h0m54 30h0m2-42h0m-322 177h0m39-41h0" stroke="#24500e" stroke-width="6.6"/><path d="M851 807h0m74 33h0m-141 19h0m-308 155h0m318-138h0m44-5h0m34-51h0m74 1h0m-249 105h0m-9 5h0m-130 47h0m38-28h0m182-50h0m68-63h0m-358 178h0m208-104h0m140-15h0m10-10h0m-63 36h0m-178 40h0m310-122h0m-286 130h0m179-63h0m-88-10h0m216-111h0m-179 82h0m-164 81h0m366-171h0m-237 135h0m184-122h0m-329 177h0m-102 41h0m176-64h0m205-133h0m-330 175h0m365-186h0m54 30h0m2-42h0m-322 177h0m39-41h0" stroke="#8cd040" stroke-width="4.0"/><path d="M614 968h0m-13-13h0m194-116h0m-90 63h0m119-62h0m-27 43h0m3-8h0m41 52h0m55-109h0m-113 61h0m-203 89h0m-4 17h0m183-124h0m-78 67h0m-49 29h0m52-14h0m-25-33h0m144 25h0m52-78h0m-178 85h0m77-60h0m-145 57h0m-59 54h0m354-198h0m-83 87h0m-56 15h0m30-25h0m-25 54h0m-245 64h0m414-209h0m-147 132h0m-106 38h0m72-52h0m151-93h0m-104 50h0m-205 110h0m169-93h0m-23 44h0m-133 72h0m45-58h0" stroke="#24500e" stroke-width="6.6"/><path d="M614 968h0m-13-13h0m194-116h0m-90 63h0m119-62h0m-27 43h0m3-8h0m41 52h0m55-109h0m-113 61h0m-203 89h0m-4 17h0m183-124h0m-78 67h0m-49 29h0m52-14h0m-25-33h0m144 25h0m52-78h0m-178 85h0m77-60h0m-145 57h0m-59 54h0m354-198h0m-83 87h0m-56 15h0m30-25h0m-25 54h0m-245 64h0m414-209h0m-147 132h0m-106 38h0m72-52h0m151-93h0m-104 50h0m-205 110h0m169-93h0m-23 44h0m-133 72h0m45-58h0" stroke="#8cd040" stroke-width="4.0"/><path d="M542 971h0m150-28h0m152-123h0m-233 158h0m85-69h0m243-97h0m-29 5h0m-12 98h0m-93-46h0m-112 45h0m151-84h0m-83 48h0m-11-17h0m-111 83h0m50-29h0m-218 119h0m475-260h0m-385 215h0m200-135h0m-159 119h0m-117 35h0m140-43h0m-14 20h0m-40-24h0m16 19h0m278-184h0m-120 122h0m121-124h0m56 16h0m-373 179h0m71-48h0m243-110h0m-153 97h0m-81 32h0m234-145h0m-356 182h0m224-122h0m84-13h0m110-46h0m-27 7h0" stroke="#24500e" stroke-width="6.6"/><path d="M542 971h0m150-28h0m152-123h0m-233 158h0m85-69h0m243-97h0m-29 5h0m-12 98h0m-93-46h0m-112 45h0m151-84h0m-83 48h0m-11-17h0m-111 83h0m50-29h0m-218 119h0m475-260h0m-385 215h0m200-135h0m-159 119h0m-117 35h0m140-43h0m-14 20h0m-40-24h0m16 19h0m278-184h0m-120 122h0m121-124h0m56 16h0m-373 179h0m71-48h0m243-110h0m-153 97h0m-81 32h0m234-145h0m-356 182h0m224-122h0m84-13h0m110-46h0m-27 7h0" stroke="#8cd040" stroke-width="4.0"/><path d="M701 893h0m36 35h0m220-148h0m-302 158h0m-95 44h0m128-84h0m199-37h0m-247 64h0m164-90h0m139-62h0m-90 60h0m-153 107h0m47-75h0m138-23h0m-137 29h0m185-30h0m-211 76h0m-33-18h0m28-9h0m222-115h0m-114 88h0m-42 17h0m150-48h0m-99 59h0m86-99h0m-361 193h0m329-125h0m-30-39h0m74-11h0m-182 65h0m107-20h0m-113 42h0m148-40h0m-100 35h0m-179 105h0m22-73h0m196-54h0m64-71h0m44 22h0m-371 163h0" stroke="#24500e" stroke-width="6.6"/><path d="M701 893h0m36 35h0m220-148h0m-302 158h0m-95 44h0m128-84h0m199-37h0m-247 64h0m164-90h0m139-62h0m-90 60h0m-153 107h0m47-75h0m138-23h0m-137 29h0m185-30h0m-211 76h0m-33-18h0m28-9h0m222-115h0m-114 88h0m-42 17h0m150-48h0m-99 59h0m86-99h0m-361 193h0m329-125h0m-30-39h0m74-11h0m-182 65h0m107-20h0m-113 42h0m148-40h0m-100 35h0m-179 105h0m22-73h0m196-54h0m64-71h0m44 22h0m-371 163h0" stroke="#8cd040" stroke-width="4.0"/><path d="M869 828h0m-300 137h0m323-62h0m-272 31h0m299-145h0m-535 297h0m390-193h0m45-50h0m4-28h0m86-20h0m-210 104h0m171-28h0m-357 183h0m231-180h0m-53 64h0m177-67h0m-171 15h0m246-106h0m-222 102h0m140-72h0m-67 56h0m-272 120h0m234-109h0m-24 1h0m204-66h0m-178 105h0m38-62h0m67-54h0m-146 109h0m148-100h0m73 17h0m-123 76h0m149-103h0m-138 18h0m-84 107h0m40-71h0m-66 77h0m118-102h0m135-36h0m-169 73h0" stroke="#24500e" stroke-width="6.6"/><path d="M869 828h0m-300 137h0m323-62h0m-272 31h0m299-145h0m-535 297h0m390-193h0m45-50h0m4-28h0m86-20h0m-210 104h0m171-28h0m-357 183h0m231-180h0m-53 64h0m177-67h0m-171 15h0m246-106h0m-222 102h0m140-72h0m-67 56h0m-272 120h0m234-109h0m-24 1h0m204-66h0m-178 105h0m38-62h0m67-54h0m-146 109h0m148-100h0m73 17h0m-123 76h0m149-103h0m-138 18h0m-84 107h0m40-71h0m-66 77h0m118-102h0m135-36h0m-169 73h0" stroke="#8cd040" stroke-width="4.0"/><path d="M963 812h0m-177 69h0m-114 47h0m245-94h0m-152 36h0m6-4h0m51-18h0m-88 32h0m161-46h0m-344 144h0m-93 43h0m127-59h0m-88 33h0m317-94h0m-76-38h0m21 2h0m29 30h0m139-51h0m25-60h0m-198 76h0m-8 69h0m-237 70h0m368-162h0m-23 1h0m-75 42h0m48-30h0m-325 160h0m360-201h0m-212 115h0m16 22h0m218-90h0m-41-27h0m-57 14h0m-40 106h0m-224 52h0m265-118h0m-329 133h0m335-142h0m171-92h0m-483 228h0" stroke="#24500e" stroke-width="6.6"/><path d="M963 812h0m-177 69h0m-114 47h0m245-94h0m-152 36h0m6-4h0m51-18h0m-88 32h0m161-46h0m-344 144h0m-93 43h0m127-59h0m-88 33h0m317-94h0m-76-38h0m21 2h0m29 30h0m139-51h0m25-60h0m-198 76h0m-8 69h0m-237 70h0m368-162h0m-23 1h0m-75 42h0m48-30h0m-325 160h0m360-201h0m-212 115h0m16 22h0m218-90h0m-41-27h0m-57 14h0m-40 106h0m-224 52h0m265-118h0m-329 133h0m335-142h0m171-92h0m-483 228h0" stroke="#8cd040" stroke-width="4.0"/><path d="M944 818h0m-171 30h0m54 36h0m-40-45h0m42 17h0m124-55h0m-232 99h0m-65 13h0m163-75h0m6-20h0m58-3h0m-235 158h0m132-90h0m98-58h0m77-43h0m-54 40h0m-177 74h0m122-34h0m-9-11h0m-3 46h0m-33-20h0m-156 52h0m83-16h0m-10-3h0m-21-7h0m-123 62h0m121-49h0m31 30h0m182-106h0m-356 139h0m122-65h0m30-9h0m43 3h0m201-109h0m-120 19h0m-148 103h0m76-12h0m167-86h0m-83 46h0m88-60h0" stroke="#24500e" stroke-width="6.6"/><path d="M944 818h0m-171 30h0m54 36h0m-40-45h0m42 17h0m124-55h0m-232 99h0m-65 13h0m163-75h0m6-20h0m58-3h0m-235 158h0m132-90h0m98-58h0m77-43h0m-54 40h0m-177 74h0m122-34h0m-9-11h0m-3 46h0m-33-20h0m-156 52h0m83-16h0m-10-3h0m-21-7h0m-123 62h0m121-49h0m31 30h0m182-106h0m-356 139h0m122-65h0m30-9h0m43 3h0m201-109h0m-120 19h0m-148 103h0m76-12h0m167-86h0m-83 46h0m88-60h0" stroke="#8cd040" stroke-width="4.0"/><path d="M866 858h0m-90 40h0m-235 89h0m158-71h0m266-97h0m-87 17h0m-81 66h0m113-64h0m-9 8h0m-95 11h0m-292 143h0m316-159h0m-158 62h0m69-32h0m-52 47h0m113-62h0m-118 74h0m15 16h0m23-14h0m133-112h0m-167 183h0m105-163h0m-166 124h0m226-133h0m-16 35h0m-285 113h0m84-43h0m124-22h0m99-27h0m-48-61h0m45 47h0m-222 71h0m-28 18h0m31-22h0m7-13h0m221-100h0m42 99h0m-292 33h0m264-152h0m-80 81h0" stroke="#24500e" stroke-width="6.6"/><path d="M866 858h0m-90 40h0m-235 89h0m158-71h0m266-97h0m-87 17h0m-81 66h0m113-64h0m-9 8h0m-95 11h0m-292 143h0m316-159h0m-158 62h0m69-32h0m-52 47h0m113-62h0m-118 74h0m15 16h0m23-14h0m133-112h0m-167 183h0m105-163h0m-166 124h0m226-133h0m-16 35h0m-285 113h0m84-43h0m124-22h0m99-27h0m-48-61h0m45 47h0m-222 71h0m-28 18h0m31-22h0m7-13h0m221-100h0m42 99h0m-292 33h0m264-152h0m-80 81h0" stroke="#8cd040" stroke-width="4.0"/><path d="M971 796h0m-399 164h0m191-85h0m105-40h0m-327 174h0m185-123h0m-360 211h0m126-83h0m-72 21h0m431-174h0m-119 45h0m-36 52h0m150-131h0m-38 82h0m49-48h0m78-82h0m-101 104h0m72 19h0m-164-23h0m1-13h0m120 3h0m102-104h0m-212 101h0m175-41h0m-141 92h0m-109 38h0m238-126h0m-200 51h0m176-51h0m-331 154h0m390-191h0m-160 111h0m-88 32h0m167-92h0m-116 20h0m-154 95h0m322-170h0m-208 130h0m-154 63h0m308-167h0" stroke="#24500e" stroke-width="6.6"/><path d="M971 796h0m-399 164h0m191-85h0m105-40h0m-327 174h0m185-123h0m-360 211h0m126-83h0m-72 21h0m431-174h0m-119 45h0m-36 52h0m150-131h0m-38 82h0m49-48h0m78-82h0m-101 104h0m72 19h0m-164-23h0m1-13h0m120 3h0m102-104h0m-212 101h0m175-41h0m-141 92h0m-109 38h0m238-126h0m-200 51h0m176-51h0m-331 154h0m390-191h0m-160 111h0m-88 32h0m167-92h0m-116 20h0m-154 95h0m322-170h0m-208 130h0m-154 63h0m308-167h0" stroke="#8cd040" stroke-width="4.0"/><path d="M585 993h0m342-167h0m-102-1h0m-262 135h0m205-87h0m122-71h0m-422 216h0m379-197h0m-224 112h0m-80 41h0m-1 50h0m249-191h0m-49 76h0m-118 45h0m287-103h0m12-66h0m-197 111h0m-215 96h0m408-177h0m-24-21h0m-236 150h0m228-91h0m-75 5h0m-123 66h0m-21 37h0m286-139h0m-316 139h0m1-5h0m26 5h0m-86 8h0m204-65h0m-79-3h0m-17-7h0m-111 63h0m223-47h0m26-52h0m-56 65h0m159-136h0m-250 115h0m193-105h0" stroke="#24500e" stroke-width="6.6"/><path d="M585 993h0m342-167h0m-102-1h0m-262 135h0m205-87h0m122-71h0m-422 216h0m379-197h0m-224 112h0m-80 41h0m-1 50h0m249-191h0m-49 76h0m-118 45h0m287-103h0m12-66h0m-197 111h0m-215 96h0m408-177h0m-24-21h0m-236 150h0m228-91h0m-75 5h0m-123 66h0m-21 37h0m286-139h0m-316 139h0m1-5h0m26 5h0m-86 8h0m204-65h0m-79-3h0m-17-7h0m-111 63h0m223-47h0m26-52h0m-56 65h0m159-136h0m-250 115h0m193-105h0" stroke="#8cd040" stroke-width="4.0"/><path d="M767 912h0m-211 59h0m133-47h0m133-77h0m-40-5h0m84-37h0m36 7h0m40-8h0m-473 264h0m76-42h0m199-144h0m138-51h0m-240 88h0m-117 94h0m223-138h0m95-73h0m-38 30h0m55 5h0m-11-17h0m-218 104h0m165 17h0m176-166h0m-21 59h0m-218 61h0m-141 49h0m158-81h0m-258 161h0m251-135h0m31-40h0m-11 67h0m173-125h0m-106 49h0m29 29h0m-232 75h0m-10 21h0m77-68h0m-116 80h0m225-133h0m142-41h0m-280 113h0" stroke="#24500e" stroke-width="6.6"/><path d="M767 912h0m-211 59h0m133-47h0m133-77h0m-40-5h0m84-37h0m36 7h0m40-8h0m-473 264h0m76-42h0m199-144h0m138-51h0m-240 88h0m-117 94h0m223-138h0m95-73h0m-38 30h0m55 5h0m-11-17h0m-218 104h0m165 17h0m176-166h0m-21 59h0m-218 61h0m-141 49h0m158-81h0m-258 161h0m251-135h0m31-40h0m-11 67h0m173-125h0m-106 49h0m29 29h0m-232 75h0m-10 21h0m77-68h0m-116 80h0m225-133h0m142-41h0m-280 113h0" stroke="#8cd040" stroke-width="4.0"/><path d="M753 913h0m172-96h0m-144 83h0m-217 66h0m306-107h0m-341 135h0m438-184h0m-265 89h0m104 54h0m113-119h0m-251 77h0m62 8h0m39-39h0m71-75h0m-150 106h0m57-16h0m-57-4h0m70-20h0m-59 20h0m67-6h0m-36-1h0m210-109h0m-48 45h0m-435 201h0m426-222h0m-330 168h0m-31 23h0m28-3h0m322-151h0m85-16h0m-128 20h0m129-55h0m-275 140h0m-23-12h0m70-19h0m104-14h0m-287 95h0m-98 97h0m500-291h0m-334 185h0" stroke="#24500e" stroke-width="6.6"/><path d="M753 913h0m172-96h0m-144 83h0m-217 66h0m306-107h0m-341 135h0m438-184h0m-265 89h0m104 54h0m113-119h0m-251 77h0m62 8h0m39-39h0m71-75h0m-150 106h0m57-16h0m-57-4h0m70-20h0m-59 20h0m67-6h0m-36-1h0m210-109h0m-48 45h0m-435 201h0m426-222h0m-330 168h0m-31 23h0m28-3h0m322-151h0m85-16h0m-128 20h0m129-55h0m-275 140h0m-23-12h0m70-19h0m104-14h0m-287 95h0m-98 97h0m500-291h0m-334 185h0" stroke="#8cd040" stroke-width="4.0"/><path d="M628 925h0m-33 44h0m264-119h0m66-38h0m-290 169h0m-44-5h0m55-24h0m261-116h0m-194 61h0m-110 80h0m244-24h0m-258 146h0m207-213h0m-92-2h0m55 42h0m-264 81h0m469-246h0m-385 209h0m50-4h0m-118 43h0m306-170h0m46 69h0m-320 78h0m134-61h0m87-60h0m81 7h0m35-60h0m4 28h0m-257 133h0m161-127h0m44 30h0m59-34h0m-286 115h0m-105 39h0m60-21h0m275-132h0m-5 56h0m-61 67h0m-249 55h0m447-195h0" stroke="#24500e" stroke-width="6.6"/><path d="M628 925h0m-33 44h0m264-119h0m66-38h0m-290 169h0m-44-5h0m55-24h0m261-116h0m-194 61h0m-110 80h0m244-24h0m-258 146h0m207-213h0m-92-2h0m55 42h0m-264 81h0m469-246h0m-385 209h0m50-4h0m-118 43h0m306-170h0m46 69h0m-320 78h0m134-61h0m87-60h0m81 7h0m35-60h0m4 28h0m-257 133h0m161-127h0m44 30h0m59-34h0m-286 115h0m-105 39h0m60-21h0m275-132h0m-5 56h0m-61 67h0m-249 55h0m447-195h0" stroke="#8cd040" stroke-width="4.0"/><path d="M536 1072h0m153-181h0m-121 87h0m320-156h0m-142 42h0m-115 109h0m312-192h0m-302 186h0m233-160h0m-172 94h0m149-49h0m-346 139h0m158-82h0m-6 6h0m-121 62h0m175-97h0m-135 83h0m32 5h0m128-29h0m199-135h0m-252 94h0m-68 94h0m256-177h0m-109 40h0m48-23h0m-15 63h0m70-56h0m-23 0h0m-85 73h0m-301 113h0m404-141h0m-172 82h0m-197 47h0m156-75h0m-23 37h0m19-56h0m76-41h0m173-36h0m-156 70h0m-24-32h0" stroke="#24500e" stroke-width="6.6"/><path d="M536 1072h0m153-181h0m-121 87h0m320-156h0m-142 42h0m-115 109h0m312-192h0m-302 186h0m233-160h0m-172 94h0m149-49h0m-346 139h0m158-82h0m-6 6h0m-121 62h0m175-97h0m-135 83h0m32 5h0m128-29h0m199-135h0m-252 94h0m-68 94h0m256-177h0m-109 40h0m48-23h0m-15 63h0m70-56h0m-23 0h0m-85 73h0m-301 113h0m404-141h0m-172 82h0m-197 47h0m156-75h0m-23 37h0m19-56h0m76-41h0m173-36h0m-156 70h0m-24-32h0" stroke="#8cd040" stroke-width="4.0"/><path d="M673 927h0m-167 83h0m420-202h0m29 17h0m-265 90h0m-169 137h0m198-87h0m-70-14h0m125-48h0m192-138h0m-138 63h0m35-32h0m-155 97h0m111-57h0m-318 171h0m307-104h0m-258 78h0m-18 4h0m408-202h0m-130 62h0m-114 78h0m152-63h0m-70 48h0m103-43h0m47-39h0m-17-12h0m20-24h0m-158 124h0m93-115h0m-160 149h0m244-170h0m-320 172h0m0 19h0m210-101h0m-225 89h0m94-44h0m65-29h0m120-42h0m16-49h0m-212 148h0" stroke="#24500e" stroke-width="6.6"/><path d="M673 927h0m-167 83h0m420-202h0m29 17h0m-265 90h0m-169 137h0m198-87h0m-70-14h0m125-48h0m192-138h0m-138 63h0m35-32h0m-155 97h0m111-57h0m-318 171h0m307-104h0m-258 78h0m-18 4h0m408-202h0m-130 62h0m-114 78h0m152-63h0m-70 48h0m103-43h0m47-39h0m-17-12h0m20-24h0m-158 124h0m93-115h0m-160 149h0m244-170h0m-320 172h0m0 19h0m210-101h0m-225 89h0m94-44h0m65-29h0m120-42h0m16-49h0m-212 148h0" stroke="#8cd040" stroke-width="4.0"/><path d="M948 813h0m-199 67h0m165-6h0m-117-8h0m51-64h0m-247 170h0m-152 53h0m450-174h0m-56 56h0m92-121h0m-149 127h0m-141 41h0m173-87h0m57-41h0m-79 54h0m103-49h0m-278 110h0m32-10h0m221-73h0m97-72h0m-126 77h0m-5 14h0m-64-13h0m141-28h0m-184 76h0m-90 54h0m-98 7h0m140-43h0m73-15h0m112-90h0m-259 137h0m177-123h0m173-63h0m-100 27h0m-26 38h0m-40-5h0m-14 83h0m-64-4h0m14-11h0m129-94h0" stroke="#24500e" stroke-width="6.6"/><path d="M948 813h0m-199 67h0m165-6h0m-117-8h0m51-64h0m-247 170h0m-152 53h0m450-174h0m-56 56h0m92-121h0m-149 127h0m-141 41h0m173-87h0m57-41h0m-79 54h0m103-49h0m-278 110h0m32-10h0m221-73h0m97-72h0m-126 77h0m-5 14h0m-64-13h0m141-28h0m-184 76h0m-90 54h0m-98 7h0m140-43h0m73-15h0m112-90h0m-259 137h0m177-123h0m173-63h0m-100 27h0m-26 38h0m-40-5h0m-14 83h0m-64-4h0m14-11h0m129-94h0" stroke="#8cd040" stroke-width="4.0"/><path d="M502 1012h0m117-51h0m71 26h0m-103 48h0m-73-39h0m119-74h0m268-105h0m-274 145h0m26-33h0m131-52h0m-84 43h0m251-95h0m-385 142h0m355-169h0m-126 51h0m-174 85h0m88 71h0m-139-42h0m386-136h0m7-8h0m-13-22h0m-92-4h0m-351 212h0m138-77h0m-200 96h0m156-78h0m172-72h0m-151 57h0m214-106h0m15 57h0m-239 71h0m234-78h0m-6-65h0m-227 174h0m187-54h0m-31-14h0m39-15h0m21-72h0m136-4h0m-39-2h0" stroke="#24500e" stroke-width="6.6"/><path d="M502 1012h0m117-51h0m71 26h0m-103 48h0m-73-39h0m119-74h0m268-105h0m-274 145h0m26-33h0m131-52h0m-84 43h0m251-95h0m-385 142h0m355-169h0m-126 51h0m-174 85h0m88 71h0m-139-42h0m386-136h0m7-8h0m-13-22h0m-92-4h0m-351 212h0m138-77h0m-200 96h0m156-78h0m172-72h0m-151 57h0m214-106h0m15 57h0m-239 71h0m234-78h0m-6-65h0m-227 174h0m187-54h0m-31-14h0m39-15h0m21-72h0m136-4h0m-39-2h0" stroke="#8cd040" stroke-width="4.0"/><path d="M866 829h0m-186 84h0m241 25h0m-148-94h0m63-23h0m-454 256h0m474-237h0m-4 79h0m-37-19h0m-8-40h0m-285 131h0m72-15h0m360-181h0m-101 51h0m51 13h0m-48 7h0m6-13h0m-201 86h0m179-60h0m-123 86h0m-241 48h0m363-160h0m77 14h0m31-37h0m-72 10h0m19-24h0m-60 56h0m-66-10h0m113-13h0m12-56h0m-122 109h0m-191 79h0m-21 2h0m33-25h0m233-146h0m145-34h0m-23 59h0m-408 149h0m135-79h0m264-79h0" stroke="#24500e" stroke-width="6.6"/><path d="M866 829h0m-186 84h0m241 25h0m-148-94h0m63-23h0m-454 256h0m474-237h0m-4 79h0m-37-19h0m-8-40h0m-285 131h0m72-15h0m360-181h0m-101 51h0m51 13h0m-48 7h0m6-13h0m-201 86h0m179-60h0m-123 86h0m-241 48h0m363-160h0m77 14h0m31-37h0m-72 10h0m19-24h0m-60 56h0m-66-10h0m113-13h0m12-56h0m-122 109h0m-191 79h0m-21 2h0m33-25h0m233-146h0m145-34h0m-23 59h0m-408 149h0m135-79h0m264-79h0" stroke="#8cd040" stroke-width="4.0"/><path d="M711 941h0m21-10h0m137-116h0m52 59h0m-265 54h0m125-71h0m30 7h0m71-37h0m-206 77h0m127-51h0m-131 85h0m-154 49h0m437-189h0m-142 24h0m-219 147h0m-108 34h0m39 16h0m432-159h0m-362 84h0m56 17h0m-144 44h0m53-34h0m215-124h0m191-80h0m-49 64h0m-124 37h0m-180 66h0m267-119h0m31-16h0m-56 59h0m49-24h0m-239 96h0m155-111h0m93-10h0m-360 162h0m219-90h0m180 10h0m-275 19h0m-93 71h0m184-135h0" stroke="#24500e" stroke-width="6.6"/><path d="M711 941h0m21-10h0m137-116h0m52 59h0m-265 54h0m125-71h0m30 7h0m71-37h0m-206 77h0m127-51h0m-131 85h0m-154 49h0m437-189h0m-142 24h0m-219 147h0m-108 34h0m39 16h0m432-159h0m-362 84h0m56 17h0m-144 44h0m53-34h0m215-124h0m191-80h0m-49 64h0m-124 37h0m-180 66h0m267-119h0m31-16h0m-56 59h0m49-24h0m-239 96h0m155-111h0m93-10h0m-360 162h0m219-90h0m180 10h0m-275 19h0m-93 71h0m184-135h0" stroke="#8cd040" stroke-width="4.0"/><path d="M597 944h0m223-69h0m50-35h0m-381 159h0m365-195h0m-160 134h0m82-31h0m-21-22h0m-238 119h0m137-72h0m197-57h0m36-49h0m-89 60h0m24 4h0m-331 109h0m173-58h0m260-105h0m-271 80h0m202-103h0m-235 160h0m-88 32h0m123-59h0m299-101h0m-112 36h0m-30-31h0m-32 40h0m-78 57h0m-153 45h0m304-132h0m-104 86h0m5-22h0m93-122h0m-430 242h0m343-164h0m-260 127h0m172 5h0m-105-18h0m292-159h0m-18 14h0m-29 44h0" stroke="#24500e" stroke-width="6.6"/><path d="M597 944h0m223-69h0m50-35h0m-381 159h0m365-195h0m-160 134h0m82-31h0m-21-22h0m-238 119h0m137-72h0m197-57h0m36-49h0m-89 60h0m24 4h0m-331 109h0m173-58h0m260-105h0m-271 80h0m202-103h0m-235 160h0m-88 32h0m123-59h0m299-101h0m-112 36h0m-30-31h0m-32 40h0m-78 57h0m-153 45h0m304-132h0m-104 86h0m5-22h0m93-122h0m-430 242h0m343-164h0m-260 127h0m172 5h0m-105-18h0m292-159h0m-18 14h0m-29 44h0" stroke="#8cd040" stroke-width="4.0"/><path d="M802 849h0m48 17h0m0-45h0m3 3h0m-173 129h0m259-156h0m-416 212h0m135-53h0m233-109h0m-220 88h0m-171 69h0m183-94h0m166-24h0m-82 9h0m-40 36h0m240-97h0m-496 181h0m375-168h0m-58 58h0m-229 81h0m281-161h0m-76 80h0m8-54h0m-119 71h0m188-97h0m-369 193h0m184-84h0m182-93h0m87-2h0m-391 160h0m-91 27h0m84-44h0m166-66h0m203-112h0m39 28h0m-5-15h0m-352 216h0m202-191h0m148-41h0m-86 5h0" stroke="#24500e" stroke-width="6.6"/><path d="M802 849h0m48 17h0m0-45h0m3 3h0m-173 129h0m259-156h0m-416 212h0m135-53h0m233-109h0m-220 88h0m-171 69h0m183-94h0m166-24h0m-82 9h0m-40 36h0m240-97h0m-496 181h0m375-168h0m-58 58h0m-229 81h0m281-161h0m-76 80h0m8-54h0m-119 71h0m188-97h0m-369 193h0m184-84h0m182-93h0m87-2h0m-391 160h0m-91 27h0m84-44h0m166-66h0m203-112h0m39 28h0m-5-15h0m-352 216h0m202-191h0m148-41h0m-86 5h0" stroke="#8cd040" stroke-width="4.0"/><path d="M920 835h0m-295 110h0m258-123h0m-221 85h0m114-19h0m6-7h0m-60 28h0m173-58h0m-78-1h0m14 51h0m-161 36h0m-75 14h0m204-97h0m145-81h0m-87 84h0m1-2h0m-133 58h0m53-69h0m149-31h0m-4 6h0m-98 99h0m-32-6h0m-147 4h0m289-137h0m-111 44h0m20-20h0m-133 103h0m119-46h0m-152 151h0m182-193h0m-151 62h0m14 8h0m-180 102h0m137-46h0m234-145h0m-424 241h0m66-60h0m211-69h0m-67 7h0m-49 19h0" stroke="#24500e" stroke-width="6.6"/><path d="M920 835h0m-295 110h0m258-123h0m-221 85h0m114-19h0m6-7h0m-60 28h0m173-58h0m-78-1h0m14 51h0m-161 36h0m-75 14h0m204-97h0m145-81h0m-87 84h0m1-2h0m-133 58h0m53-69h0m149-31h0m-4 6h0m-98 99h0m-32-6h0m-147 4h0m289-137h0m-111 44h0m20-20h0m-133 103h0m119-46h0m-152 151h0m182-193h0m-151 62h0m14 8h0m-180 102h0m137-46h0m234-145h0m-424 241h0m66-60h0m211-69h0m-67 7h0m-49 19h0" stroke="#8cd040" stroke-width="4.0"/><path d="M829 814h0m-86 115h0m-177 64h0m231-129h0m-252 159h0m218-150h0m26-40h0m-15 52h0m60-77h0m-89 98h0m-30-4h0m-38 51h0m114-50h0m-244 68h0m153-25h0m172-142h0m-337 171h0m163-71h0m-84 140h0m-49-67h0m271-104h0m-31-42h0m47-26h0m88-24h0m-220 203h0m-118-17h0m50-2h0m70-71h0m126-26h0m-52-39h0m-190 131h0m214-80h0m32-81h0m-187 137h0m125-93h0m-43 15h0m155-23h0m-248 192h0m80-89h0m-21-59h0" stroke="#24500e" stroke-width="6.6"/><path d="M829 814h0m-86 115h0m-177 64h0m231-129h0m-252 159h0m218-150h0m26-40h0m-15 52h0m60-77h0m-89 98h0m-30-4h0m-38 51h0m114-50h0m-244 68h0m153-25h0m172-142h0m-337 171h0m163-71h0m-84 140h0m-49-67h0m271-104h0m-31-42h0m47-26h0m88-24h0m-220 203h0m-118-17h0m50-2h0m70-71h0m126-26h0m-52-39h0m-190 131h0m214-80h0m32-81h0m-187 137h0m125-93h0m-43 15h0m155-23h0m-248 192h0m80-89h0m-21-59h0" stroke="#8cd040" stroke-width="4.0"/><path d="M835 868h0m-313 125h0m138-16h0m122-55h0m-270 73h0m252-129h0m109-15h0m18-47h0m-14 15h0m-144 77h0m-48 29h0m-54 44h0m147-55h0m-241 64h0m25-18h0m278-93h0m-120 62h0m51-7h0m81-37h0m-101 5h0m218-125h0m-258 160h0m101-88h0m-238 127h0m274-151h0m-214 143h0m256-96h0m-121 28h0m-54 39h0m-114 55h0m182-85h0m189-115h0m-241 126h0m38-38h0m207-55h0m-447 176h0m91-45h0m150-34h0m-11-45h0m105-75h0" stroke="#24500e" stroke-width="6.6"/><path d="M835 868h0m-313 125h0m138-16h0m122-55h0m-270 73h0m252-129h0m109-15h0m18-47h0m-14 15h0m-144 77h0m-48 29h0m-54 44h0m147-55h0m-241 64h0m25-18h0m278-93h0m-120 62h0m51-7h0m81-37h0m-101 5h0m218-125h0m-258 160h0m101-88h0m-238 127h0m274-151h0m-214 143h0m256-96h0m-121 28h0m-54 39h0m-114 55h0m182-85h0m189-115h0m-241 126h0m38-38h0m207-55h0m-447 176h0m91-45h0m150-34h0m-11-45h0m105-75h0" stroke="#8cd040" stroke-width="4.0"/><path d="M736 905h0m-190 64h0m32 15h0m127-49h0m13-27h0m73-50h0m50 10h0m91-27h0m-179 27h0m27-8h0m-281 152h0m140-71h0m92-73h0m186 2h0m-271 99h0m149-92h0m84-65h0m23 17h0m-332 133h0m362-128h0m-402 171h0m239-93h0m88-34h0m94-109h0m-143 110h0m-127 76h0m-71 15h0m85-78h0m187-24h0m37-70h0m-19 21h0m-36-9h0m12-8h0m-236 137h0m134-57h0m82-28h0m110-93h0m-201 92h0m-60 84h0m121-102h0" stroke="#24500e" stroke-width="6.6"/><path d="M736 905h0m-190 64h0m32 15h0m127-49h0m13-27h0m73-50h0m50 10h0m91-27h0m-179 27h0m27-8h0m-281 152h0m140-71h0m92-73h0m186 2h0m-271 99h0m149-92h0m84-65h0m23 17h0m-332 133h0m362-128h0m-402 171h0m239-93h0m88-34h0m94-109h0m-143 110h0m-127 76h0m-71 15h0m85-78h0m187-24h0m37-70h0m-19 21h0m-36-9h0m12-8h0m-236 137h0m134-57h0m82-28h0m110-93h0m-201 92h0m-60 84h0m121-102h0" stroke="#8cd040" stroke-width="4.0"/><path d="M537 1002h0m367-117h0m-193 52h0m126-129h0m30 47h0m-129 17h0m-150 81h0m94-12h0m189-93h0m-394 162h0m208-23h0m-121 4h0m178-108h0m45 1h0m-24-13h0m50-38h0m-29 74h0m-245 75h0m138-76h0m-88 64h0m271-169h0m30 28h0m-157 83h0m-12-30h0m117-32h0m-204 99h0m273-105h0m-22-38h0m-251 212h0m305-185h0m-208 85h0m220-146h0m-213 137h0m42-31h0m60-24h0m-164 72h0m202-92h0m-23-11h0m-17 45h0m82-27h0" stroke="#24500e" stroke-width="6.6"/><path d="M537 1002h0m367-117h0m-193 52h0m126-129h0m30 47h0m-129 17h0m-150 81h0m94-12h0m189-93h0m-394 162h0m208-23h0m-121 4h0m178-108h0m45 1h0m-24-13h0m50-38h0m-29 74h0m-245 75h0m138-76h0m-88 64h0m271-169h0m30 28h0m-157 83h0m-12-30h0m117-32h0m-204 99h0m273-105h0m-22-38h0m-251 212h0m305-185h0m-208 85h0m220-146h0m-213 137h0m42-31h0m60-24h0m-164 72h0m202-92h0m-23-11h0m-17 45h0m82-27h0" stroke="#8cd040" stroke-width="4.0"/><path d="M584 951h0m242-127h0m-55 22h0m-84 126h0m218-81h0m-104-57h0m-242 139h0m403-209h0m-425 244h0m106-63h0m268-155h0m-179 134h0m58-21h0m13-6h0m-14 43h0m-140-15h0m-153 83h0m304-122h0m-222 90h0m2-23h0m51 29h0m96-107h0m233-18h0m-148 24h0m-290 134h0m378-180h0m-106 3h0m28 25h0m-157 89h0m-110 37h0m178-94h0m50-7h0m-40 16h0m-188 70h0m158-29h0m-67 19h0m-59-3h0m328-132h0m-73 24h0m-23-37h0" stroke="#24500e" stroke-width="6.6"/><path d="M584 951h0m242-127h0m-55 22h0m-84 126h0m218-81h0m-104-57h0m-242 139h0m403-209h0m-425 244h0m106-63h0m268-155h0m-179 134h0m58-21h0m13-6h0m-14 43h0m-140-15h0m-153 83h0m304-122h0m-222 90h0m2-23h0m51 29h0m96-107h0m233-18h0m-148 24h0m-290 134h0m378-180h0m-106 3h0m28 25h0m-157 89h0m-110 37h0m178-94h0m50-7h0m-40 16h0m-188 70h0m158-29h0m-67 19h0m-59-3h0m328-132h0m-73 24h0m-23-37h0" stroke="#8cd040" stroke-width="4.0"/><path d="M682 901h0m-72 79h0m147-86h0m-61-4h0m225-74h0m-278 101h0m167-6h0m147-124h0m-361 219h0m166-140h0m145-46h0m61-47h0m-78 21h0m-151 138h0m32-88h0m-299 186h0m125-63h0m176-69h0m75-11h0m-226 63h0m-26 22h0m12-13h0m135-49h0m205-81h0m-268 121h0m131-116h0m-277 170h0m383-184h0m-40-10h0m45-13h0m-120 200h0m-110-92h0m-133 93h0m337-176h0m1 23h0m-98-5h0m-167 123h0m223-77h0m-23 34h0m50-54h0" stroke="#24500e" stroke-width="6.6"/><path d="M682 901h0m-72 79h0m147-86h0m-61-4h0m225-74h0m-278 101h0m167-6h0m147-124h0m-361 219h0m166-140h0m145-46h0m61-47h0m-78 21h0m-151 138h0m32-88h0m-299 186h0m125-63h0m176-69h0m75-11h0m-226 63h0m-26 22h0m12-13h0m135-49h0m205-81h0m-268 121h0m131-116h0m-277 170h0m383-184h0m-40-10h0m45-13h0m-120 200h0m-110-92h0m-133 93h0m337-176h0m1 23h0m-98-5h0m-167 123h0m223-77h0m-23 34h0m50-54h0" stroke="#8cd040" stroke-width="4.0"/><path d="M681 926h0m159-114h0m-132 77h0m127 1h0m-23 30h0m64-122h0m-259 177h0m-74 4h0m-118 113h0m335-182h0m58-32h0m-1-29h0m-11 32h0m-46-22h0m-288 160h0m262-147h0m-217 121h0m212-84h0m18 31h0m117-98h0m-94 38h0m187-114h0m-231 180h0m51 107h0m-78-120h0m-190 66h0m290-168h0m-71 138h0m83-73h0m153-133h0m-308 203h0m270-163h0m-339 155h0m154-83h0m65 12h0m-202 71h0m171-103h0m-82 83h0m9-42h0m-118 54h0" stroke="#24500e" stroke-width="6.6"/><path d="M681 926h0m159-114h0m-132 77h0m127 1h0m-23 30h0m64-122h0m-259 177h0m-74 4h0m-118 113h0m335-182h0m58-32h0m-1-29h0m-11 32h0m-46-22h0m-288 160h0m262-147h0m-217 121h0m212-84h0m18 31h0m117-98h0m-94 38h0m187-114h0m-231 180h0m51 107h0m-78-120h0m-190 66h0m290-168h0m-71 138h0m83-73h0m153-133h0m-308 203h0m270-163h0m-339 155h0m154-83h0m65 12h0m-202 71h0m171-103h0m-82 83h0m9-42h0m-118 54h0" stroke="#8cd040" stroke-width="4.0"/><path d="M822 820h0m81-20h0m-66 99h0m-48 12h0m49-65h0m-35 60h0m-14-29h0m-7-37h0m80-1h0m-10 43h0m-239 72h0m140-82h0m-74 62h0m23-30h0m77-62h0m-2 22h0m-60 66h0m-207 80h0m311-168h0m-30-7h0m176-76h0m-325 167h0m13 9h0m101-83h0m153-45h0m-213 129h0m3-27h0m37-43h0m124-6h0m102-61h0m-124 61h0m34-61h0m-114 119h0m45-39h0m86-42h0m-19-32h0m-34 82h0m-208 37h0m282-73h0m-376 197h0" stroke="#24500e" stroke-width="6.6"/><path d="M822 820h0m81-20h0m-66 99h0m-48 12h0m49-65h0m-35 60h0m-14-29h0m-7-37h0m80-1h0m-10 43h0m-239 72h0m140-82h0m-74 62h0m23-30h0m77-62h0m-2 22h0m-60 66h0m-207 80h0m311-168h0m-30-7h0m176-76h0m-325 167h0m13 9h0m101-83h0m153-45h0m-213 129h0m3-27h0m37-43h0m124-6h0m102-61h0m-124 61h0m34-61h0m-114 119h0m45-39h0m86-42h0m-19-32h0m-34 82h0m-208 37h0m282-73h0m-376 197h0" stroke="#8cd040" stroke-width="4.0"/><path d="M763 874h0m-205 97h0m278-133h0m-88 47h0m218-75h0m-3-38h0m-8 2h0m-12 46h0m-380 158h0m352-145h0m-260 90h0m69-10h0m-44 0h0m207-61h0m39-10h0m-175 84h0m184-105h0m9-48h0m-292 197h0m212-151h0m-70 74h0m-51-32h0m179-42h0m-289 193h0m134-145h0m31 21h0m-85 16h0m-25 2h0m-47 17h0m32 6h0m297-136h0m-479 210h0m315-169h0m-99 90h0m23-3h0m71-39h0m-47 46h0m82-58h0m-373 143h0m335-106h0" stroke="#24500e" stroke-width="6.6"/><path d="M763 874h0m-205 97h0m278-133h0m-88 47h0m218-75h0m-3-38h0m-8 2h0m-12 46h0m-380 158h0m352-145h0m-260 90h0m69-10h0m-44 0h0m207-61h0m39-10h0m-175 84h0m184-105h0m9-48h0m-292 197h0m212-151h0m-70 74h0m-51-32h0m179-42h0m-289 193h0m134-145h0m31 21h0m-85 16h0m-25 2h0m-47 17h0m32 6h0m297-136h0m-479 210h0m315-169h0m-99 90h0m23-3h0m71-39h0m-47 46h0m82-58h0m-373 143h0m335-106h0" stroke="#8cd040" stroke-width="4.0"/><path d="M495 999h0m177-70h0m153-57h0m30 14h0m-54-4h0m50-20h0m112-43h0m-152 51h0m-260 127h0m319-185h0m-329 186h0m382-207h0m-215 94h0m43 2h0m-22 65h0m207-116h0m-223 60h0m71-42h0m106-59h0m-320 167h0m-1 1h0m387-179h0m-536 270h0m544-213h0m-45 4h0m-276 74h0m80 21h0m107-124h0m-77 81h0m160-83h0m-170 103h0m29-44h0m-120 68h0m87-61h0m-121 83h0m235-123h0m-176 95h0m-104 20h0m319-145h0m-273 157h0" stroke="#24500e" stroke-width="6.6"/><path d="M495 999h0m177-70h0m153-57h0m30 14h0m-54-4h0m50-20h0m112-43h0m-152 51h0m-260 127h0m319-185h0m-329 186h0m382-207h0m-215 94h0m43 2h0m-22 65h0m207-116h0m-223 60h0m71-42h0m106-59h0m-320 167h0m-1 1h0m387-179h0m-536 270h0m544-213h0m-45 4h0m-276 74h0m80 21h0m107-124h0m-77 81h0m160-83h0m-170 103h0m29-44h0m-120 68h0m87-61h0m-121 83h0m235-123h0m-176 95h0m-104 20h0m319-145h0m-273 157h0" stroke="#8cd040" stroke-width="4.0"/><path d="M775 921h0m168-138h0m-133 118h0m139-113h0m-357 175h0m102-48h0m137-63h0m72-26h0m42-20h0m-241 91h0m19 7h0m-175 79h0m196-80h0m190-84h0m30-48h0m-418 250h0m123-93h0m6-14h0m-24 19h0m-101 52h0m-45 15h0m345-119h0m-3-61h0m-90 79h0m211-102h0m-363 147h0m-54 22h0m325-139h0m69-44h0m-475 234h0m495-252h0m-376 184h0m-52 43h0m401-195h0m-159 108h0m-54 42h0m-143 8h0m281-133h0m-63 11h0m-189 134h0" stroke="#24500e" stroke-width="6.6"/><path d="M775 921h0m168-138h0m-133 118h0m139-113h0m-357 175h0m102-48h0m137-63h0m72-26h0m42-20h0m-241 91h0m19 7h0m-175 79h0m196-80h0m190-84h0m30-48h0m-418 250h0m123-93h0m6-14h0m-24 19h0m-101 52h0m-45 15h0m345-119h0m-3-61h0m-90 79h0m211-102h0m-363 147h0m-54 22h0m325-139h0m69-44h0m-475 234h0m495-252h0m-376 184h0m-52 43h0m401-195h0m-159 108h0m-54 42h0m-143 8h0m281-133h0m-63 11h0m-189 134h0" stroke="#8cd040" stroke-width="4.0"/><path d="M685 898h0m42 35h0m244-144h0m-150 90h0m-105 32h0m226-120h0m-31 13h0m-321 166h0m301-124h0m-250 134h0m162-155h0m97-22h0m-171 171h0m219-163h0m-125 46h0m39 3h0m-35 22h0m-396 151h0m168-89h0m45 26h0m46-40h0m266-117h0m-460 198h0m287-83h0m-221 44h0m19 16h0m370-165h0m-204 79h0m-83 3h0m89-8h0m182-80h0m-70 44h0m-72-14h0m41 20h0m-98 61h0m-116 25h0m-103 37h0m128-9h0m213-183h0m-51 76h0" stroke="#24500e" stroke-width="6.6"/><path d="M685 898h0m42 35h0m244-144h0m-150 90h0m-105 32h0m226-120h0m-31 13h0m-321 166h0m301-124h0m-250 134h0m162-155h0m97-22h0m-171 171h0m219-163h0m-125 46h0m39 3h0m-35 22h0m-396 151h0m168-89h0m45 26h0m46-40h0m266-117h0m-460 198h0m287-83h0m-221 44h0m19 16h0m370-165h0m-204 79h0m-83 3h0m89-8h0m182-80h0m-70 44h0m-72-14h0m41 20h0m-98 61h0m-116 25h0m-103 37h0m128-9h0m213-183h0m-51 76h0" stroke="#8cd040" stroke-width="4.0"/><path d="M731 877h0m-40 65h0m268-68h0m-182 14h0m-75 76h0m199-135h0m-66 6h0m-44 38h0m-339 146h0m392-145h0m-85-6h0m196-93h0m-185 117h0m-5 10h0m172-115h0m-363 183h0m2-17h0m88-29h0m291-139h0m-118 52h0m49-31h0m-190 113h0m125-18h0m-114 33h0m37-68h0m145-9h0m23-41h0m-315 157h0m12-6h0m170-35h0m56-47h0m-93 67h0m-78-43h0m100-46h0m-78 30h0m284-115h0m-28 31h0m-367 152h0m44-10h0m251-81h0" stroke="#24500e" stroke-width="6.6"/><path d="M731 877h0m-40 65h0m268-68h0m-182 14h0m-75 76h0m199-135h0m-66 6h0m-44 38h0m-339 146h0m392-145h0m-85-6h0m196-93h0m-185 117h0m-5 10h0m172-115h0m-363 183h0m2-17h0m88-29h0m291-139h0m-118 52h0m49-31h0m-190 113h0m125-18h0m-114 33h0m37-68h0m145-9h0m23-41h0m-315 157h0m12-6h0m170-35h0m56-47h0m-93 67h0m-78-43h0m100-46h0m-78 30h0m284-115h0m-28 31h0m-367 152h0m44-10h0m251-81h0" stroke="#8cd040" stroke-width="4.0"/><path d="M966 790h0m-10 14h0m-219 161h0m219-182h0m-158 111h0m-154 59h0m206-73h0m-246 89h0m83-36h0m99-95h0m32 41h0m-343 159h0m10-32h0m367-153h0m-257 138h0m163-99h0m-136 65h0m-22-6h0m263-111h0m-322 133h0m213-99h0m8 4h0m187-2h0m-358 101h0m-10 0h0m138-55h0m-16 24h0m212-104h0m-250 78h0m21 11h0m200-132h0m46 80h0m-250 56h0m198-104h0m-43-16h0m39 9h0m-234 117h0m168-89h0m39-1h0m110-61h0" stroke="#24500e" stroke-width="6.6"/><path d="M966 790h0m-10 14h0m-219 161h0m219-182h0m-158 111h0m-154 59h0m206-73h0m-246 89h0m83-36h0m99-95h0m32 41h0m-343 159h0m10-32h0m367-153h0m-257 138h0m163-99h0m-136 65h0m-22-6h0m263-111h0m-322 133h0m213-99h0m8 4h0m187-2h0m-358 101h0m-10 0h0m138-55h0m-16 24h0m212-104h0m-250 78h0m21 11h0m200-132h0m46 80h0m-250 56h0m198-104h0m-43-16h0m39 9h0m-234 117h0m168-89h0m39-1h0m110-61h0" stroke="#8cd040" stroke-width="4.0"/><path d="M921 820h0m-280 149h0m51-41h0m149-65h0m-163 45h0m216-84h0m23-15h0m4 32h0m-347 150h0m247-107h0m-193 51h0m168-74h0m54-42h0m-153 153h0m207-146h0m-26 0h0m-177 129h0m120-75h0m-77 29h0m-270 108h0m322-182h0m-128 93h0m53 0h0m-76 41h0m78 3h0m64-87h0m-128 77h0m20-64h0m-35 67h0m281-135h0m-83-15h0m0 10h0m-235 112h0m-44 37h0m240-130h0m-164 127h0m-9-17h0m282-156h0m-226 100h0m61 13h0" stroke="#24500e" stroke-width="6.6"/><path d="M921 820h0m-280 149h0m51-41h0m149-65h0m-163 45h0m216-84h0m23-15h0m4 32h0m-347 150h0m247-107h0m-193 51h0m168-74h0m54-42h0m-153 153h0m207-146h0m-26 0h0m-177 129h0m120-75h0m-77 29h0m-270 108h0m322-182h0m-128 93h0m53 0h0m-76 41h0m78 3h0m64-87h0m-128 77h0m20-64h0m-35 67h0m281-135h0m-83-15h0m0 10h0m-235 112h0m-44 37h0m240-130h0m-164 127h0m-9-17h0m282-156h0m-226 100h0m61 13h0" stroke="#8cd040" stroke-width="4.0"/><path d="M759 954h0m-79-42h0m108-11h0m14-14h0m-8-21h0m109-37h0m-335 133h0m326-150h0m-309 170h0m237-147h0m88-34h0m-275 183h0m198-172h0m117-33h0m-229 106h0m-54 23h0m-62 45h0m121-74h0m-14 52h0m81-81h0m72-32h0m-219 152h0m217-132h0m-356 152h0m329-172h0m-48 72h0m-38 6h0m78-41h0m-320 144h0m326-180h0m73 10h0m31-36h0m-154 120h0m143-70h0m-120 51h0m-2-61h0m-340 211h0m482-235h0m-82 26h0m35-36h0" stroke="#24500e" stroke-width="6.6"/><path d="M759 954h0m-79-42h0m108-11h0m14-14h0m-8-21h0m109-37h0m-335 133h0m326-150h0m-309 170h0m237-147h0m88-34h0m-275 183h0m198-172h0m117-33h0m-229 106h0m-54 23h0m-62 45h0m121-74h0m-14 52h0m81-81h0m72-32h0m-219 152h0m217-132h0m-356 152h0m329-172h0m-48 72h0m-38 6h0m78-41h0m-320 144h0m326-180h0m73 10h0m31-36h0m-154 120h0m143-70h0m-120 51h0m-2-61h0m-340 211h0m482-235h0m-82 26h0m35-36h0" stroke="#8cd040" stroke-width="4.0"/><path d="M701 963h0m-10-32h0m201-136h0m-101 121h0m140-87h0m-352 142h0m-108 43h0m411-163h0m-335 140h0m290-174h0m90-5h0m-38-12h0m-88 48h0m-14 62h0m170-140h0m-435 216h0m279-87h0m136-81h0m-444 215h0m165-76h0m-118 38h0m346-182h0m-86 21h0m156-15h0m-339 126h0m-69 32h0m303-133h0m-97 26h0m-111 91h0m310-182h0m-154 83h0m-24-12h0m-118 70h0m293-117h0m-106 19h0m-47 44h0m-64 16h0m-153 83h0m166-35h0m-60 7h0" stroke="#24500e" stroke-width="6.6"/><path d="M701 963h0m-10-32h0m201-136h0m-101 121h0m140-87h0m-352 142h0m-108 43h0m411-163h0m-335 140h0m290-174h0m90-5h0m-38-12h0m-88 48h0m-14 62h0m170-140h0m-435 216h0m279-87h0m136-81h0m-444 215h0m165-76h0m-118 38h0m346-182h0m-86 21h0m156-15h0m-339 126h0m-69 32h0m303-133h0m-97 26h0m-111 91h0m310-182h0m-154 83h0m-24-12h0m-118 70h0m293-117h0m-106 19h0m-47 44h0m-64 16h0m-153 83h0m166-35h0m-60 7h0" stroke="#8cd040" stroke-width="4.0"/><path d="M930 790h0m-351 175h0m90-31h0m24-20h0m38 10h0m-6-37h0m-58 69h0m-48 1h0m-77 45h0m336-170h0m-181 70h0m88-61h0m20 50h0m-51 33h0m193-111h0m-117 29h0m-336 220h0m173-120h0m147-97h0m-195 97h0m319-164h0m-54 25h0m-234 134h0m98-25h0m208-122h0m-125 89h0m67-27h0m-273 106h0m184-130h0m160-6h0m-453 171h0m101-14h0m323-196h0m-297 162h0m-91 40h0m373-162h0m-95 46h0m40-61h0m-295 147h0m359-131h0" stroke="#24500e" stroke-width="6.6"/><path d="M930 790h0m-351 175h0m90-31h0m24-20h0m38 10h0m-6-37h0m-58 69h0m-48 1h0m-77 45h0m336-170h0m-181 70h0m88-61h0m20 50h0m-51 33h0m193-111h0m-117 29h0m-336 220h0m173-120h0m147-97h0m-195 97h0m319-164h0m-54 25h0m-234 134h0m98-25h0m208-122h0m-125 89h0m67-27h0m-273 106h0m184-130h0m160-6h0m-453 171h0m101-14h0m323-196h0m-297 162h0m-91 40h0m373-162h0m-95 46h0m40-61h0m-295 147h0m359-131h0" stroke="#8cd040" stroke-width="4.0"/><path d="M716 906h0m-6 7h0m-102 23h0m201-58h0m-436 238h0m367-240h0m53-45h0m-12 71h0m-114 56h0m49-47h0m-5-33h0m-215 152h0m109-84h0m-178 91h0m394-170h0m-298 117h0m181-32h0m70-90h0m-131 56h0m158-68h0m-70 80h0m96-87h0m-86 24h0m-32 45h0m-138 56h0m349-144h0m-474 201h0m186-86h0m47 17h0m-85 21h0m147-114h0m-29 25h0m179-25h0m82-80h0m-44-1h0m-104 36h0m110 109h0m-97-92h0m-66 24h0m-131 63h0" stroke="#24500e" stroke-width="6.6"/><path d="M716 906h0m-6 7h0m-102 23h0m201-58h0m-436 238h0m367-240h0m53-45h0m-12 71h0m-114 56h0m49-47h0m-5-33h0m-215 152h0m109-84h0m-178 91h0m394-170h0m-298 117h0m181-32h0m70-90h0m-131 56h0m158-68h0m-70 80h0m96-87h0m-86 24h0m-32 45h0m-138 56h0m349-144h0m-474 201h0m186-86h0m47 17h0m-85 21h0m147-114h0m-29 25h0m179-25h0m82-80h0m-44-1h0m-104 36h0m110 109h0m-97-92h0m-66 24h0m-131 63h0" stroke="#8cd040" stroke-width="4.0"/><path d="M889 798h0m-193 121h0m-4 17h0m241-137h0m-118 32h0m-29 112h0m-59-24h0m-127 38h0m-135 55h0m199-69h0m-102 25h0m270-96h0m25 10h0m-85-39h0m-68 105h0m12-50h0m0 3h0m100-74h0m142 99h0m-170-55h0m-350 184h0m219-130h0m272-64h0m-83-28h0m-275 155h0m93-51h0m9-9h0m293-150h0m-13 5h0m-384 185h0m343-135h0m-157 36h0m191-90h0m-155 105h0m79-25h0m-4-33h0m-81 41h0m-23-12h0m39 55h0m-1-11h0" stroke="#24500e" stroke-width="6.6"/><path d="M889 798h0m-193 121h0m-4 17h0m241-137h0m-118 32h0m-29 112h0m-59-24h0m-127 38h0m-135 55h0m199-69h0m-102 25h0m270-96h0m25 10h0m-85-39h0m-68 105h0m12-50h0m0 3h0m100-74h0m142 99h0m-170-55h0m-350 184h0m219-130h0m272-64h0m-83-28h0m-275 155h0m93-51h0m9-9h0m293-150h0m-13 5h0m-384 185h0m343-135h0m-157 36h0m191-90h0m-155 105h0m79-25h0m-4-33h0m-81 41h0m-23-12h0m39 55h0m-1-11h0" stroke="#8cd040" stroke-width="4.0"/><path d="M497 1003h0m339-126h0m-367 145h0m379-173h0m59-36h0m-147 65h0m-62 21h0m19-20h0m142-35h0m-302 153h0m277-181h0m-360 207h0m151-87h0m111-26h0m117-62h0m-213 119h0m313-192h0m-250 131h0m109-30h0m3-52h0m-270 150h0m374-171h0m-277 164h0m109-55h0m41-36h0m-334 145h0m478-180h0m-145 58h0m-139 61h0m-195 61h0m134-39h0m206-59h0m-44-17h0m195-130h0m-346 174h0m149-25h0m83-101h0m-264 161h0m237-137h0m110 2h0" stroke="#24500e" stroke-width="6.6"/><path d="M497 1003h0m339-126h0m-367 145h0m379-173h0m59-36h0m-147 65h0m-62 21h0m19-20h0m142-35h0m-302 153h0m277-181h0m-360 207h0m151-87h0m111-26h0m117-62h0m-213 119h0m313-192h0m-250 131h0m109-30h0m3-52h0m-270 150h0m374-171h0m-277 164h0m109-55h0m41-36h0m-334 145h0m478-180h0m-145 58h0m-139 61h0m-195 61h0m134-39h0m206-59h0m-44-17h0m195-130h0m-346 174h0m149-25h0m83-101h0m-264 161h0m237-137h0m110 2h0" stroke="#8cd040" stroke-width="4.0"/><path d="M856 875h0m-231 81h0m310-204h0m-139 147h0m-83-12h0m258-100h0m-284 161h0m186-102h0m-110 20h0m-142 84h0m205-113h0m-7-3h0m20 46h0m50-50h0m-283 115h0m329-154h0m-403 199h0m177-95h0m-12 15h0m147-73h0m-42 71h0m-147 129h0m33-106h0m61 28h0m-131-13h0m251-143h0m-86 93h0m-107 29h0m236-97h0m-8 18h0m-38 82h0m-126-41h0m3 42h0m85-60h0m-190 57h0m96-27h0m54-52h0m70-28h0m-423 215h0m295-136h0" stroke="#24500e" stroke-width="6.6"/><path d="M856 875h0m-231 81h0m310-204h0m-139 147h0m-83-12h0m258-100h0m-284 161h0m186-102h0m-110 20h0m-142 84h0m205-113h0m-7-3h0m20 46h0m50-50h0m-283 115h0m329-154h0m-403 199h0m177-95h0m-12 15h0m147-73h0m-42 71h0m-147 129h0m33-106h0m61 28h0m-131-13h0m251-143h0m-86 93h0m-107 29h0m236-97h0m-8 18h0m-38 82h0m-126-41h0m3 42h0m85-60h0m-190 57h0m96-27h0m54-52h0m70-28h0m-423 215h0m295-136h0" stroke="#8cd040" stroke-width="4.0"/><path d="M843 809h0m-269 163h0m261-153h0m-144 131h0m134-31h0m7-68h0m97-71h0m-250 195h0m-114 0h0m64-45h0m-61 56h0m91-5h0m289-145h0m-192 44h0m-95 80h0m-200 55h0m402-148h0m-112 49h0m-62-6h0m19-24h0m-77 76h0m-17-8h0m234-119h0m-163 138h0m117-81h0m67-82h0m-155 90h0m-39 54h0m135-115h0m-133 63h0m149-32h0m15-64h0m-350 207h0m222-96h0m-95 45h0m200-68h0m67-39h0m-43-46h0m8 29h0m-122 82h0" stroke="#24500e" stroke-width="6.6"/><path d="M843 809h0m-269 163h0m261-153h0m-144 131h0m134-31h0m7-68h0m97-71h0m-250 195h0m-114 0h0m64-45h0m-61 56h0m91-5h0m289-145h0m-192 44h0m-95 80h0m-200 55h0m402-148h0m-112 49h0m-62-6h0m19-24h0m-77 76h0m-17-8h0m234-119h0m-163 138h0m117-81h0m67-82h0m-155 90h0m-39 54h0m135-115h0m-133 63h0m149-32h0m15-64h0m-350 207h0m222-96h0m-95 45h0m200-68h0m67-39h0m-43-46h0m8 29h0m-122 82h0" stroke="#8cd040" stroke-width="4.0"/><path d="M860 813h0m50 2h0m-331 164h0m216-135h0m119 27h0m-211 38h0m252-130h0m-274 140h0m75-51h0m139-44h0m-133 39h0m160-53h0m-189 97h0m205-90h0m-363 165h0m307-150h0m-25 20h0m-88-7h0m-219 128h0m44 40h0m2-38h0m52-47h0m15-1h0m-67 32h0m178-40h0m161-98h0m-359 138h0m280-80h0m-64-28h0m-261 131h0m26-8h0m300-144h0m-327 158h0m384-145h0m-367 131h0m334-94h0m-55 26h0m141-111h0m-149 110h0m54-94h0" stroke="#24500e" stroke-width="6.6"/><path d="M860 813h0m50 2h0m-331 164h0m216-135h0m119 27h0m-211 38h0m252-130h0m-274 140h0m75-51h0m139-44h0m-133 39h0m160-53h0m-189 97h0m205-90h0m-363 165h0m307-150h0m-25 20h0m-88-7h0m-219 128h0m44 40h0m2-38h0m52-47h0m15-1h0m-67 32h0m178-40h0m161-98h0m-359 138h0m280-80h0m-64-28h0m-261 131h0m26-8h0m300-144h0m-327 158h0m384-145h0m-367 131h0m334-94h0m-55 26h0m141-111h0m-149 110h0m54-94h0" stroke="#8cd040" stroke-width="4.0"/><path d="M833 897h0m91-58h0m-449 174h0m218-114h0m-152 85h0m162-100h0m-184 141h0m356-207h0m-270 131h0m227-78h0m-409 166h0m407-215h0m10 41h0m-352 143h0m163-48h0m-80 38h0m89-85h0m135 0h0m-23-48h0m-62 23h0m-95 46h0m249-53h0m-217 36h0m162-1h0m-115-23h0m-3 12h0m72 66h0m-51-57h0m5 14h0m-6-12h0m131-74h0m24 59h0m-24-74h0m-148 90h0m88-45h0m-69 50h0m180-91h0m71-57h0m-93 47h0m-7 7h0" stroke="#24500e" stroke-width="6.6"/><path d="M833 897h0m91-58h0m-449 174h0m218-114h0m-152 85h0m162-100h0m-184 141h0m356-207h0m-270 131h0m227-78h0m-409 166h0m407-215h0m10 41h0m-352 143h0m163-48h0m-80 38h0m89-85h0m135 0h0m-23-48h0m-62 23h0m-95 46h0m249-53h0m-217 36h0m162-1h0m-115-23h0m-3 12h0m72 66h0m-51-57h0m5 14h0m-6-12h0m131-74h0m24 59h0m-24-74h0m-148 90h0m88-45h0m-69 50h0m180-91h0m71-57h0m-93 47h0m-7 7h0" stroke="#8cd040" stroke-width="4.0"/><path d="M971 783h0m-436 218h0m352-171h0m-156 70h0m208-84h0m-160 152h0m11-72h0m-21-28h0m111-44h0m-116 94h0m-91-18h0m-43 122h0m-27-69h0m194-45h0m-109 16h0m-219 95h0m298-118h0m154-103h0m-408 192h0m173-16h0m205-118h0m-196 42h0m87 26h0m129-130h0m-90 100h0m-1-37h0m-229 109h0m78-15h0m-112 26h0m408-112h0m-399 97h0m256-109h0m-173 104h0m309-133h0m-464 202h0m445-220h0m-169 98h0m199-89h0m-81-11h0m-214 139h0" stroke="#24500e" stroke-width="6.6"/><path d="M971 783h0m-436 218h0m352-171h0m-156 70h0m208-84h0m-160 152h0m11-72h0m-21-28h0m111-44h0m-116 94h0m-91-18h0m-43 122h0m-27-69h0m194-45h0m-109 16h0m-219 95h0m298-118h0m154-103h0m-408 192h0m173-16h0m205-118h0m-196 42h0m87 26h0m129-130h0m-90 100h0m-1-37h0m-229 109h0m78-15h0m-112 26h0m408-112h0m-399 97h0m256-109h0m-173 104h0m309-133h0m-464 202h0m445-220h0m-169 98h0m199-89h0m-81-11h0m-214 139h0" stroke="#8cd040" stroke-width="4.0"/><path d="M773 920h0m23-14h0m-139 42h0m-11 11h0m199-93h0m-98 28h0m-97 23h0m298-114h0m2-16h0m-109 98h0m-85-3h0m0-23h0m190-112h0m-428 236h0m335-154h0m-61 4h0m79 30h0m-100 27h0m-95 38h0m267-144h0m-312 167h0m-118 45h0m71 8h0m253-119h0m-31 9h0m19-30h0m-151 69h0m200-67h0m-31 16h0m-143 49h0m15-7h0m25-48h0m101 34h0m-210 20h0m153-66h0m-72 35h0m-29 30h0m41 24h0m-48-8h0m71-70h0" stroke="#24500e" stroke-width="6.6"/><path d="M773 920h0m23-14h0m-139 42h0m-11 11h0m199-93h0m-98 28h0m-97 23h0m298-114h0m2-16h0m-109 98h0m-85-3h0m0-23h0m190-112h0m-428 236h0m335-154h0m-61 4h0m79 30h0m-100 27h0m-95 38h0m267-144h0m-312 167h0m-118 45h0m71 8h0m253-119h0m-31 9h0m19-30h0m-151 69h0m200-67h0m-31 16h0m-143 49h0m15-7h0m25-48h0m101 34h0m-210 20h0m153-66h0m-72 35h0m-29 30h0m41 24h0m-48-8h0m71-70h0" stroke="#8cd040" stroke-width="4.0"/><path d="M877 795h0m-190 211h0m-14-84h0m172-87h0m-301 156h0m-32 12h0m34 1h0m319-186h0m-250 144h0m252-106h0m-31 34h0m4-2h0m-150 50h0m70 27h0m132-77h0m-22-96h0m-56 78h0m-169 48h0m-69 71h0m344-155h0m-506 207h0m459-167h0m-78 20h0m-15 0h0m-51-12h0m-9 64h0m156-72h0m-328 113h0m61-21h0m53-58h0m32-7h0m-46 56h0m198-86h0m-177 77h0m274-110h0m-46-46h0m-197 136h0m105-101h0m47 7h0m-51 56h0" stroke="#24500e" stroke-width="6.6"/><path d="M877 795h0m-190 211h0m-14-84h0m172-87h0m-301 156h0m-32 12h0m34 1h0m319-186h0m-250 144h0m252-106h0m-31 34h0m4-2h0m-150 50h0m70 27h0m132-77h0m-22-96h0m-56 78h0m-169 48h0m-69 71h0m344-155h0m-506 207h0m459-167h0m-78 20h0m-15 0h0m-51-12h0m-9 64h0m156-72h0m-328 113h0m61-21h0m53-58h0m32-7h0m-46 56h0m198-86h0m-177 77h0m274-110h0m-46-46h0m-197 136h0m105-101h0m47 7h0m-51 56h0" stroke="#8cd040" stroke-width="4.0"/><path d="M947 821h0m-61-3h0m41-12h0m-13-4h0m-53 79h0m-202 50h0m109-42h0m172-107h0m-112 29h0m-327 183h0m230-128h0m112-58h0m-15 99h0m-246 62h0m250-157h0m-111 60h0m82 9h0m-29 95h0m-240 37h0m-15 45h0m286-200h0m-166 94h0m15-4h0m-23 4h0m326-179h0m-139 95h0m12-6h0m-242 85h0m62 66h0m14-88h0m-104 40h0m284-98h0m4-67h0m34 14h0m26-23h0m-193 145h0m206-174h0m-267 189h0m48-9h0m42-74h0" stroke="#24500e" stroke-width="6.6"/><path d="M947 821h0m-61-3h0m41-12h0m-13-4h0m-53 79h0m-202 50h0m109-42h0m172-107h0m-112 29h0m-327 183h0m230-128h0m112-58h0m-15 99h0m-246 62h0m250-157h0m-111 60h0m82 9h0m-29 95h0m-240 37h0m-15 45h0m286-200h0m-166 94h0m15-4h0m-23 4h0m326-179h0m-139 95h0m12-6h0m-242 85h0m62 66h0m14-88h0m-104 40h0m284-98h0m4-67h0m34 14h0m26-23h0m-193 145h0m206-174h0m-267 189h0m48-9h0m42-74h0" stroke="#8cd040" stroke-width="4.0"/><path d="M739 873h0m-171 95h0m10-11h0m191-75h0m106-89h0m-162 134h0m121-115h0m138-2h0m-308 125h0m229-112h0m-338 162h0m317-140h0m-94 16h0m-206 101h0m364-138h0m-370 145h0m121-35h0m-24-6h0m142-18h0m27-6h0m-60-17h0m192-125h0m-133 68h0m41 32h0m-99 12h0m11-13h0m32-39h0m-91 48h0m132-65h0m-291 157h0m94-7h0m200-115h0m12-35h0m-25-4h0m-52 78h0m11 3h0m-216 130h0m61-91h0m-8 93h0m72-123h0" stroke="#24500e" stroke-width="6.6"/><path d="M739 873h0m-171 95h0m10-11h0m191-75h0m106-89h0m-162 134h0m121-115h0m138-2h0m-308 125h0m229-112h0m-338 162h0m317-140h0m-94 16h0m-206 101h0m364-138h0m-370 145h0m121-35h0m-24-6h0m142-18h0m27-6h0m-60-17h0m192-125h0m-133 68h0m41 32h0m-99 12h0m11-13h0m32-39h0m-91 48h0m132-65h0m-291 157h0m94-7h0m200-115h0m12-35h0m-25-4h0m-52 78h0m11 3h0m-216 130h0m61-91h0m-8 93h0m72-123h0" stroke="#8cd040" stroke-width="4.0"/><path d="M584 992h0m240-157h0m94-17h0m28-31h0m-396 205h0m162-73h0m-82 28h0m-26 1h0m143-34h0m11-34h0m-60 108h0m179-150h0m-420 187h0m364-187h0m-104 103h0m7-28h0m-20 19h0m129-120h0m32-11h0m-124 60h0m102-21h0m124-26h0m-345 129h0m-127 64h0m343-200h0m117-22h0m-253 160h0m-167 47h0m271-139h0m-126 54h0m-116 71h0m128-22h0m-51-22h0m267-105h0m1-13h0m-204 86h0m-110 69h0m290-115h0m-109 53h0m-108 105h0" stroke="#24500e" stroke-width="6.6"/><path d="M584 992h0m240-157h0m94-17h0m28-31h0m-396 205h0m162-73h0m-82 28h0m-26 1h0m143-34h0m11-34h0m-60 108h0m179-150h0m-420 187h0m364-187h0m-104 103h0m7-28h0m-20 19h0m129-120h0m32-11h0m-124 60h0m102-21h0m124-26h0m-345 129h0m-127 64h0m343-200h0m117-22h0m-253 160h0m-167 47h0m271-139h0m-126 54h0m-116 71h0m128-22h0m-51-22h0m267-105h0m1-13h0m-204 86h0m-110 69h0m290-115h0m-109 53h0m-108 105h0" stroke="#8cd040" stroke-width="4.0"/><path d="M722 875h0m-7 15h0m164-86h0m-222 107h0m231-114h0m64 10h0m-237 97h0m-98 75h0m276-140h0m0 17h0m25-60h0m-55 13h0m-327 177h0m167-62h0m-53 44h0m-24-40h0m190-93h0m29 0h0m81-13h0m-116 84h0m78 50h0m-119-41h0m-122 43h0m143-70h0m67-18h0m-76-26h0m-166 128h0m38-24h0m169-98h0m-206 113h0m-126 39h0m-8 12h0m95-50h0m36-29h0m253-55h0m-358 110h0m129-50h0m103 7h0m180-162h0m-131 77h0" stroke="#24500e" stroke-width="6.6"/><path d="M722 875h0m-7 15h0m164-86h0m-222 107h0m231-114h0m64 10h0m-237 97h0m-98 75h0m276-140h0m0 17h0m25-60h0m-55 13h0m-327 177h0m167-62h0m-53 44h0m-24-40h0m190-93h0m29 0h0m81-13h0m-116 84h0m78 50h0m-119-41h0m-122 43h0m143-70h0m67-18h0m-76-26h0m-166 128h0m38-24h0m169-98h0m-206 113h0m-126 39h0m-8 12h0m95-50h0m36-29h0m253-55h0m-358 110h0m129-50h0m103 7h0m180-162h0m-131 77h0" stroke="#8cd040" stroke-width="4.0"/><path d="M662 922h0m19-23h0m214-55h0m71-26h0m-408 160h0m-28 6h0m103 1h0m97-58h0m236-139h0m-309 161h0m192-42h0m-243 44h0m46-29h0m-85 37h0m123-53h0m172-84h0m-137 85h0m-130 62h0m113-34h0m-154 48h0m298-149h0m-82 80h0m-139 39h0m176-76h0m-18 26h0m70-107h0m-87 57h0m-66 29h0m86 19h0m6 8h0m-166 69h0m289-144h0m-10 110h0m-174-52h0m-258 117h0m454-191h0m27-56h0m-134 83h0m-178 81h0m271-124h0" stroke="#24500e" stroke-width="6.6"/><path d="M662 922h0m19-23h0m214-55h0m71-26h0m-408 160h0m-28 6h0m103 1h0m97-58h0m236-139h0m-309 161h0m192-42h0m-243 44h0m46-29h0m-85 37h0m123-53h0m172-84h0m-137 85h0m-130 62h0m113-34h0m-154 48h0m298-149h0m-82 80h0m-139 39h0m176-76h0m-18 26h0m70-107h0m-87 57h0m-66 29h0m86 19h0m6 8h0m-166 69h0m289-144h0m-10 110h0m-174-52h0m-258 117h0m454-191h0m27-56h0m-134 83h0m-178 81h0m271-124h0" stroke="#8cd040" stroke-width="4.0"/><path d="M676 1045h0m209-182h0m-139 18h0m77-40h0m-127 78h0m127-59h0m-32 9h0m5-27h0m87-38h0m5 99h0m-268 50h0m41-44h0m-196 153h0m321-159h0m19 6h0m-114 8h0m125-89h0m-228 163h0m331-167h0m-280 131h0m182-86h0m-279 127h0m33 10h0m311-187h0m-97 18h0m184-16h0m-141 12h0m135-65h0m-218 128h0m-231 105h0m329-182h0m-12 29h0m-160 97h0m161-136h0m-132 112h0m120-38h0m-241 88h0m-19 45h0m93-89h0m178-103h0" stroke="#24500e" stroke-width="6.6"/><path d="M676 1045h0m209-182h0m-139 18h0m77-40h0m-127 78h0m127-59h0m-32 9h0m5-27h0m87-38h0m5 99h0m-268 50h0m41-44h0m-196 153h0m321-159h0m19 6h0m-114 8h0m125-89h0m-228 163h0m331-167h0m-280 131h0m182-86h0m-279 127h0m33 10h0m311-187h0m-97 18h0m184-16h0m-141 12h0m135-65h0m-218 128h0m-231 105h0m329-182h0m-12 29h0m-160 97h0m161-136h0m-132 112h0m120-38h0m-241 88h0m-19 45h0m93-89h0m178-103h0" stroke="#8cd040" stroke-width="4.0"/><path d="M789 840h0m-65 42h0m135-76h0m-208 115h0m-254 152h0m190-106h0m275-143h0m-137 105h0m-57 11h0m30 7h0m-3-21h0m-8-7h0m-183 93h0m292-164h0m160-46h0m9 21h0m-248 216h0m28-146h0m-68 27h0m-32 45h0m159-92h0m131-43h0m-191 47h0m106-30h0m84-20h0m-472 193h0m264-120h0m-151 84h0m-4-4h0m17 3h0m335-178h0m-113 52h0m35-47h0m11 24h0m-162 108h0m95-8h0m15 1h0m-312 79h0m331-136h0m0-25h0" stroke="#24500e" stroke-width="6.6"/><path d="M789 840h0m-65 42h0m135-76h0m-208 115h0m-254 152h0m190-106h0m275-143h0m-137 105h0m-57 11h0m30 7h0m-3-21h0m-8-7h0m-183 93h0m292-164h0m160-46h0m9 21h0m-248 216h0m28-146h0m-68 27h0m-32 45h0m159-92h0m131-43h0m-191 47h0m106-30h0m84-20h0m-472 193h0m264-120h0m-151 84h0m-4-4h0m17 3h0m335-178h0m-113 52h0m35-47h0m11 24h0m-162 108h0m95-8h0m15 1h0m-312 79h0m331-136h0m0-25h0" stroke="#8cd040" stroke-width="4.0"/><path d="M845 848h0m-89 28h0m106-6h0m53-46h0m-424 174h0m438-169h0m-181 122h0m-119 68h0m345-225h0m-198 107h0m51-38h0m43-68h0m78 41h0m-90 30h0m61-35h0m-136 10h0m58-24h0m-145 83h0m4 5h0m-136 57h0m203-54h0m33-26h0m83-52h0m-234 109h0m-68 35h0m169-87h0m178-72h0m-24 37h0m-61-14h0m49 56h0m-309 120h0m217-165h0m-83 55h0m-92 86h0m269-151h0m-141 30h0m27 19h0m19 0h0m-294 117h0m312-166h0" stroke="#24500e" stroke-width="6.6"/><path d="M845 848h0m-89 28h0m106-6h0m53-46h0m-424 174h0m438-169h0m-181 122h0m-119 68h0m345-225h0m-198 107h0m51-38h0m43-68h0m78 41h0m-90 30h0m61-35h0m-136 10h0m58-24h0m-145 83h0m4 5h0m-136 57h0m203-54h0m33-26h0m83-52h0m-234 109h0m-68 35h0m169-87h0m178-72h0m-24 37h0m-61-14h0m49 56h0m-309 120h0m217-165h0m-83 55h0m-92 86h0m269-151h0m-141 30h0m27 19h0m19 0h0m-294 117h0m312-166h0" stroke="#8cd040" stroke-width="4.0"/><path d="M741 896h0m181-72h0m-158 81h0m78-62h0m71-31h0m-92 45h0m121-58h0m-84 81h0m-70-14h0m-93 102h0m164-169h0m-60 49h0m-113 58h0m-142 88h0m9-26h0m301-161h0m114 12h0m-97 27h0m-174 93h0m-39-23h0m203-99h0m-145 60h0m22-9h0m125-66h0m102-21h0m-112 54h0m-14-30h0m-246 146h0m240-124h0m106-3h0m-22 18h0m-287 100h0m59-19h0m31-9h0m219-124h0m-263 110h0m210-91h0m-191 88h0m204-89h0m-377 263h0" stroke="#24500e" stroke-width="6.6"/><path d="M741 896h0m181-72h0m-158 81h0m78-62h0m71-31h0m-92 45h0m121-58h0m-84 81h0m-70-14h0m-93 102h0m164-169h0m-60 49h0m-113 58h0m-142 88h0m9-26h0m301-161h0m114 12h0m-97 27h0m-174 93h0m-39-23h0m203-99h0m-145 60h0m22-9h0m125-66h0m102-21h0m-112 54h0m-14-30h0m-246 146h0m240-124h0m106-3h0m-22 18h0m-287 100h0m59-19h0m31-9h0m219-124h0m-263 110h0m210-91h0m-191 88h0m204-89h0m-377 263h0" stroke="#8cd040" stroke-width="4.0"/><path d="M761 854h0m-99 64h0m71-27h0m12 18h0m71-4h0m-194 38h0m96-18h0m152-107h0m68 11h0m-334 126h0m362-172h0m-106 66h0m-16-6h0m70-10h0m-190 124h0m101-87h0m107-52h0m-81 0h0m-90 137h0m-351 105h0m402-237h0m18-14h0m56 46h0m-153 160h0m72-108h0m-190 51h0m81-47h0m-66 36h0m-22 3h0m174-63h0m-81 88h0m210-179h0m-163 83h0m-23-4h0m-141 74h0m358-205h0m-188 133h0m132-19h0m-297 91h0m280-142h0" stroke="#24500e" stroke-width="6.6"/><path d="M761 854h0m-99 64h0m71-27h0m12 18h0m71-4h0m-194 38h0m96-18h0m152-107h0m68 11h0m-334 126h0m362-172h0m-106 66h0m-16-6h0m70-10h0m-190 124h0m101-87h0m107-52h0m-81 0h0m-90 137h0m-351 105h0m402-237h0m18-14h0m56 46h0m-153 160h0m72-108h0m-190 51h0m81-47h0m-66 36h0m-22 3h0m174-63h0m-81 88h0m210-179h0m-163 83h0m-23-4h0m-141 74h0m358-205h0m-188 133h0m132-19h0m-297 91h0m280-142h0" stroke="#8cd040" stroke-width="4.0"/><path d="M662 940h0m-191 131h0m99-82h0m81-48h0m269-102h0m-38-20h0m-384 179h0m115-56h0m155-93h0m-1 27h0m-296 156h0m413-206h0m30 0h0m-38 23h0m-30 1h0m-315 131h0m217-93h0m107-69h0m-201 119h0m208-19h0m-10-102h0m-240 123h0m-44 47h0m266-59h0m-183-4h0m296-137h0m-150 74h0m-142 86h0m156-56h0m-136 68h0m-67 4h0m-71 26h0m0-7h0m347-172h0m-41 85h0m11-29h0" stroke="#24500e" stroke-width="6.6"/><path d="M662 940h0m-191 131h0m99-82h0m81-48h0m269-102h0m-38-20h0m-384 179h0m115-56h0m155-93h0m-1 27h0m-296 156h0m413-206h0m30 0h0m-38 23h0m-30 1h0m-315 131h0m217-93h0m107-69h0m-201 119h0m208-19h0m-10-102h0m-240 123h0m-44 47h0m266-59h0m-183-4h0m296-137h0m-150 74h0m-142 86h0m156-56h0m-136 68h0m-67 4h0m-71 26h0m0-7h0m347-172h0m-41 85h0m11-29h0" stroke="#8cd040" stroke-width="4.0"/></g>
<rect x="72.9" y="329.5" width="434.7" height="254.8" fill="none" stroke="#000" stroke-width="3"/>
<g font-size="10.8" fill="#000" stroke="#000" stroke-width="0.3">
<text x="63.8" y="337.9" text-anchor="end">10^6</text>
<text x="63.8" y="397.9" text-anchor="end">10^5</text>
<text x="63.8" y="463.4" text-anchor="end">10^4</text>
<text x="63.8" y="523.9" text-anchor="end">10^3</text>
<text x="176.4" y="598.3" text-anchor="middle">10^3</text>
<text x="292.2" y="598.3" text-anchor="middle">10^4</text>
<text x="402.4" y="598.3" text-anchor="middle">10^5</text>
<text x="506.3" y="598.3" text-anchor="middle">10^6</text>
</g>
<text x="166" y="615.8" font-size="17" font-weight="bold" textLength="251.5" lengthAdjust="spacingAndGlyphs">Hypermethylated fraction (Cy5)</text>
<text transform="translate(31.3 570.5) rotate(-90)" font-size="16" font-weight="bold" textLength="222" lengthAdjust="spacingAndGlyphs">Hypomethylated fraction (Cy3)</text>
<circle cx="17.4" cy="320.2" r="15.8" fill="#fff" stroke="#000" stroke-width="1.4"/>
<text x="18.1" y="329.3" font-size="25" font-weight="bold" text-anchor="middle" stroke="#000" stroke-width="0.7" stroke-linejoin="round">B</text>
</svg></body></html>
